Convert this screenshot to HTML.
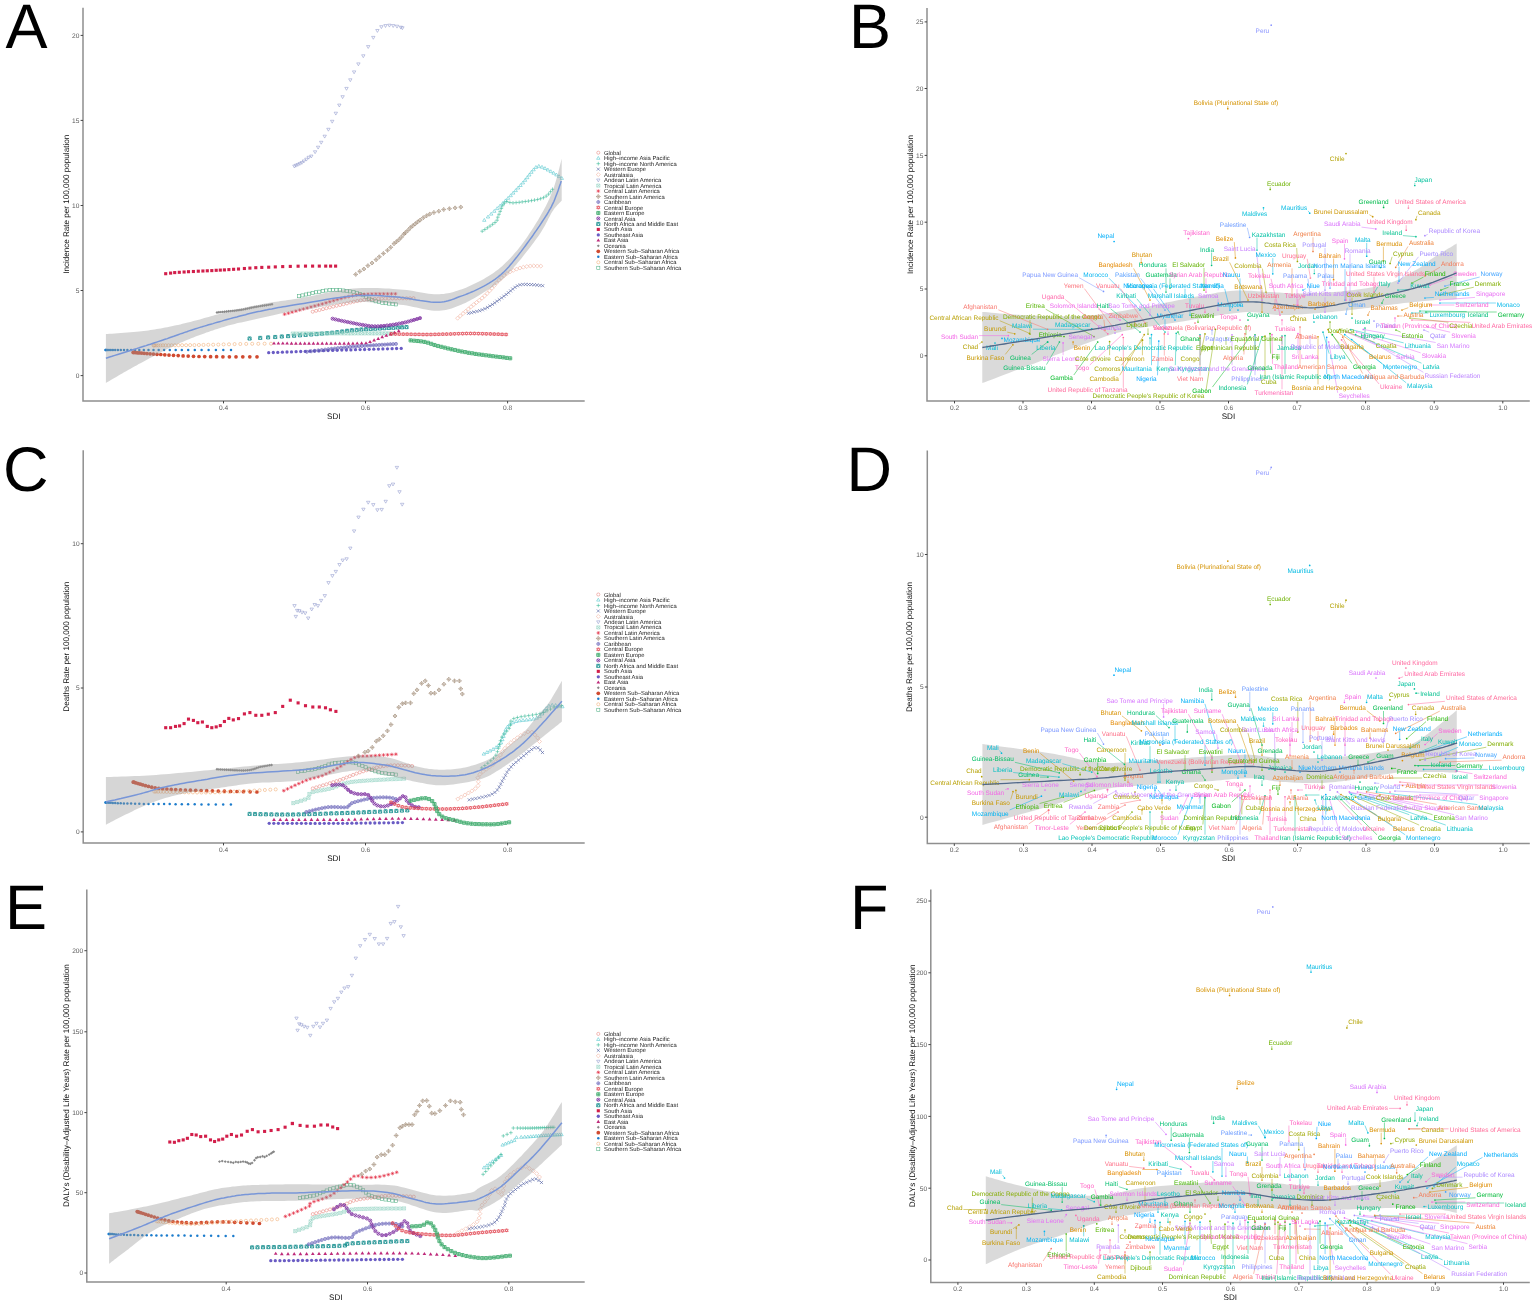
<!DOCTYPE html><html><head><meta charset="utf-8"><title>Figure</title><style>
html,body{margin:0;padding:0;background:#fff;}
svg{display:block;}
text{font-family:'Liberation Sans', Arial, Helvetica, sans-serif;text-rendering:geometricPrecision;}
.tk{font-size:6.6px;fill:#5a5a5a;}
.at{font-size:8.1px;fill:#111;}
.big{font-size:63px;fill:#000;}
.lg{font-size:5.85px;fill:#222;}
.lb{font-size:6.45px;}
</style></head><body>
<svg width="1535" height="1306" viewBox="0 0 1535 1306">
<rect width="1535" height="1306" fill="#fff"/>
<defs><g id="s1"><circle r="1.55" fill="none" stroke="currentColor" stroke-width="0.55"/></g><g id="s2"><path d="M0,-1.78L1.69,1.11L-1.69,1.11Z" fill="none" stroke="currentColor" stroke-width="0.55"/></g><g id="s3"><path d="M-1.86,0H1.86M0,-1.86V1.86" fill="none" stroke="currentColor" stroke-width="0.55"/></g><g id="s4"><path d="M-1.55,-1.55L1.55,1.55M-1.55,1.55L1.55,-1.55" fill="none" stroke="currentColor" stroke-width="0.55"/></g><g id="s5"><path d="M0,-2.02L2.02,0L0,2.02L-2.02,0Z" fill="none" stroke="currentColor" stroke-width="0.55"/></g><g id="s6"><path d="M0,1.78L1.69,-1.11L-1.69,-1.11Z" fill="none" stroke="currentColor" stroke-width="0.55"/></g><g id="s7"><path d="M-1.55,-1.55H1.55V1.55H-1.55ZM-1.55,-1.55L1.55,1.55M-1.55,1.55L1.55,-1.55" fill="none" stroke="currentColor" stroke-width="0.55"/></g><g id="s8"><path d="M-1.86,0H1.86M0,-1.86V1.86M-1.32,-1.32L1.32,1.32M-1.32,1.32L1.32,-1.32" fill="none" stroke="currentColor" stroke-width="0.55"/></g><g id="s9"><path d="M0,-2.02L2.02,0L0,2.02L-2.02,0ZM-2.02,0H2.02M0,-2.02V2.02" fill="none" stroke="currentColor" stroke-width="0.55"/></g><g id="s10"><g fill="none" stroke="currentColor" stroke-width="0.55"><circle r="1.55"/><path d="M-1.55,0H1.55M0,-1.55V1.55"/></g></g><g id="s11"><path d="M0,-1.78L1.69,1.11L-1.69,1.11ZM0,1.78L1.69,-1.11L-1.69,-1.11Z" fill="none" stroke="currentColor" stroke-width="0.55"/></g><g id="s12"><path d="M-1.55,-1.55H1.55V1.55H-1.55ZM-1.55,0H1.55M0,-1.55V1.55" fill="none" stroke="currentColor" stroke-width="0.80"/></g><g id="s13"><g fill="none" stroke="currentColor" stroke-width="0.80"><circle r="1.55"/><path d="M-1.08,-1.08L1.08,1.08M-1.08,1.08L1.08,-1.08"/></g></g><g id="s14"><path d="M-1.55,-1.55H1.55V1.55H-1.55ZM-1.55,1.55L0,-1.55L1.55,1.55" fill="none" stroke="currentColor" stroke-width="0.80"/></g><g id="s15"><rect x="-1.55" y="-1.55" width="3.10" height="3.10" fill="currentColor"/></g><g id="s16"><circle r="1.63" fill="currentColor"/></g><g id="s17"><path d="M0,-1.96L1.86,1.22L-1.86,1.22Z" fill="currentColor"/></g><g id="s18"><path d="M0,-1.47L1.47,0L0,1.47L-1.47,0Z" fill="currentColor"/></g><g id="s19"><circle r="1.86" fill="currentColor"/></g><g id="s20"><circle r="1.24" fill="currentColor"/></g><g id="s21"><circle r="1.55" fill="none" stroke="currentColor" stroke-width="0.55"/></g><g id="s22"><rect x="-1.55" y="-1.55" width="3.10" height="3.10" fill="none" stroke="currentColor" stroke-width="0.55"/></g></defs>
<g color="#D21E4A"><use href="#s15" x="165.7" y="273.7"/><use href="#s15" x="170.6" y="273.1"/><use href="#s15" x="174.7" y="272.6"/><use href="#s15" x="179.3" y="272.3"/><use href="#s15" x="184.1" y="272.0"/><use href="#s15" x="188.5" y="271.7"/><use href="#s15" x="193.4" y="271.5"/><use href="#s15" x="198.3" y="271.2"/><use href="#s15" x="202.9" y="271.0"/><use href="#s15" x="207.3" y="270.8"/><use href="#s15" x="211.8" y="270.6"/><use href="#s15" x="216.2" y="270.3"/><use href="#s15" x="220.3" y="270.1"/><use href="#s15" x="224.4" y="269.9"/><use href="#s15" x="228.9" y="269.6"/><use href="#s15" x="233.6" y="269.3"/><use href="#s15" x="238.5" y="269.0"/><use href="#s15" x="244.4" y="268.5"/><use href="#s15" x="249.9" y="268.1"/><use href="#s15" x="255.8" y="267.7"/><use href="#s15" x="261.8" y="267.4"/><use href="#s15" x="268.7" y="267.2"/><use href="#s15" x="275.3" y="266.9"/><use href="#s15" x="282.7" y="266.6"/><use href="#s15" x="290.3" y="266.4"/><use href="#s15" x="298.1" y="266.2"/><use href="#s15" x="305.5" y="266.1"/><use href="#s15" x="312.6" y="266.1"/><use href="#s15" x="319.3" y="266.1"/><use href="#s15" x="325.7" y="266.1"/><use href="#s15" x="330.6" y="266.1"/><use href="#s15" x="335.6" y="266.1"/></g>
<g color="#878787"><use href="#s18" x="217.0" y="312.5"/><use href="#s18" x="218.9" y="312.3"/><use href="#s18" x="220.8" y="312.1"/><use href="#s18" x="222.7" y="311.9"/><use href="#s18" x="224.6" y="311.7"/><use href="#s18" x="226.5" y="311.5"/><use href="#s18" x="228.5" y="311.3"/><use href="#s18" x="230.4" y="311.1"/><use href="#s18" x="232.3" y="310.9"/><use href="#s18" x="234.2" y="310.7"/><use href="#s18" x="236.1" y="310.5"/><use href="#s18" x="238.0" y="310.3"/><use href="#s18" x="239.9" y="310.0"/><use href="#s18" x="241.8" y="309.7"/><use href="#s18" x="243.7" y="309.4"/><use href="#s18" x="245.6" y="309.0"/><use href="#s18" x="247.4" y="308.6"/><use href="#s18" x="249.3" y="308.2"/><use href="#s18" x="251.2" y="307.8"/><use href="#s18" x="253.1" y="307.4"/><use href="#s18" x="254.9" y="307.0"/><use href="#s18" x="256.8" y="306.7"/><use href="#s18" x="258.7" y="306.4"/><use href="#s18" x="260.6" y="306.1"/><use href="#s18" x="262.5" y="305.8"/><use href="#s18" x="264.4" y="305.5"/><use href="#s18" x="266.3" y="305.2"/><use href="#s18" x="268.2" y="304.9"/><use href="#s18" x="270.1" y="304.6"/><use href="#s18" x="272.0" y="304.3"/></g>
<g color="#1C7CCC"><use href="#s20" x="105.5" y="350.0"/><use href="#s20" x="105.8" y="350.0"/><use href="#s20" x="106.5" y="350.0"/><use href="#s20" x="107.6" y="350.0"/><use href="#s20" x="109.0" y="350.0"/><use href="#s20" x="110.8" y="350.0"/><use href="#s20" x="112.9" y="350.0"/><use href="#s20" x="115.2" y="350.0"/><use href="#s20" x="117.9" y="350.0"/><use href="#s20" x="120.8" y="350.0"/><use href="#s20" x="124.0" y="350.0"/><use href="#s20" x="127.4" y="350.0"/><use href="#s20" x="131.1" y="350.0"/><use href="#s20" x="135.1" y="350.0"/><use href="#s20" x="139.3" y="350.0"/><use href="#s20" x="143.8" y="350.0"/><use href="#s20" x="148.5" y="350.0"/><use href="#s20" x="153.5" y="350.0"/><use href="#s20" x="158.7" y="350.0"/><use href="#s20" x="164.1" y="350.0"/><use href="#s20" x="169.8" y="350.0"/><use href="#s20" x="175.7" y="350.0"/><use href="#s20" x="181.8" y="350.0"/><use href="#s20" x="188.2" y="350.0"/><use href="#s20" x="194.8" y="350.0"/><use href="#s20" x="201.6" y="350.0"/><use href="#s20" x="208.6" y="350.0"/><use href="#s20" x="215.9" y="350.0"/><use href="#s20" x="223.3" y="350.0"/><use href="#s20" x="231.0" y="350.0"/></g>
<g color="#D04A30"><use href="#s19" x="133.2" y="352.4"/><use href="#s19" x="133.6" y="352.4"/><use href="#s19" x="134.5" y="352.5"/><use href="#s19" x="135.8" y="352.6"/><use href="#s19" x="137.5" y="352.8"/><use href="#s19" x="139.4" y="352.9"/><use href="#s19" x="141.7" y="353.1"/><use href="#s19" x="144.2" y="353.3"/><use href="#s19" x="147.0" y="353.6"/><use href="#s19" x="150.1" y="353.8"/><use href="#s19" x="153.4" y="354.1"/><use href="#s19" x="157.0" y="354.3"/><use href="#s19" x="160.8" y="354.5"/><use href="#s19" x="164.8" y="354.8"/><use href="#s19" x="169.0" y="355.1"/><use href="#s19" x="173.5" y="355.3"/><use href="#s19" x="178.2" y="355.6"/><use href="#s19" x="183.1" y="355.9"/><use href="#s19" x="188.2" y="356.1"/><use href="#s19" x="193.5" y="356.3"/><use href="#s19" x="199.0" y="356.5"/><use href="#s19" x="204.7" y="356.6"/><use href="#s19" x="210.6" y="356.7"/><use href="#s19" x="216.6" y="356.7"/><use href="#s19" x="222.9" y="356.8"/><use href="#s19" x="229.4" y="356.8"/><use href="#s19" x="236.0" y="356.8"/><use href="#s19" x="242.8" y="356.8"/><use href="#s19" x="249.8" y="356.8"/><use href="#s19" x="257.0" y="356.8"/></g>
<g color="#F0AA70"><use href="#s21" x="153.5" y="345.4"/><use href="#s21" x="154.0" y="345.4"/><use href="#s21" x="155.1" y="345.4"/><use href="#s21" x="156.6" y="345.4"/><use href="#s21" x="158.4" y="345.4"/><use href="#s21" x="160.6" y="345.4"/><use href="#s21" x="162.9" y="345.3"/><use href="#s21" x="165.6" y="345.3"/><use href="#s21" x="168.5" y="345.3"/><use href="#s21" x="171.6" y="345.3"/><use href="#s21" x="174.9" y="345.3"/><use href="#s21" x="178.4" y="345.2"/><use href="#s21" x="182.1" y="345.2"/><use href="#s21" x="186.1" y="345.2"/><use href="#s21" x="190.1" y="345.1"/><use href="#s21" x="194.4" y="345.1"/><use href="#s21" x="198.9" y="345.0"/><use href="#s21" x="203.5" y="344.9"/><use href="#s21" x="208.3" y="344.8"/><use href="#s21" x="213.2" y="344.7"/><use href="#s21" x="218.3" y="344.6"/><use href="#s21" x="223.6" y="344.4"/><use href="#s21" x="229.0" y="344.3"/><use href="#s21" x="234.6" y="344.1"/><use href="#s21" x="240.3" y="344.0"/><use href="#s21" x="246.2" y="343.9"/><use href="#s21" x="252.2" y="343.8"/><use href="#s21" x="258.3" y="343.8"/><use href="#s21" x="264.6" y="343.7"/><use href="#s21" x="271.0" y="343.7"/></g>
<g color="#158E8E"><use href="#s14" x="249.6" y="338.5"/><use href="#s14" x="260.2" y="337.9"/><use href="#s14" x="268.1" y="337.4"/><use href="#s14" x="275.2" y="337.0"/><use href="#s14" x="281.8" y="336.5"/><use href="#s14" x="288.1" y="336.1"/><use href="#s14" x="294.1" y="335.7"/><use href="#s14" x="300.0" y="335.3"/><use href="#s14" x="305.6" y="334.9"/><use href="#s14" x="311.2" y="334.5"/><use href="#s14" x="316.6" y="334.1"/><use href="#s14" x="321.9" y="333.6"/><use href="#s14" x="327.1" y="333.2"/><use href="#s14" x="332.2" y="332.7"/><use href="#s14" x="337.2" y="332.2"/><use href="#s14" x="342.2" y="331.5"/><use href="#s14" x="347.1" y="330.8"/><use href="#s14" x="351.9" y="330.3"/><use href="#s14" x="356.7" y="329.9"/><use href="#s14" x="361.4" y="329.5"/><use href="#s14" x="366.1" y="329.2"/><use href="#s14" x="370.7" y="328.9"/><use href="#s14" x="375.3" y="328.7"/><use href="#s14" x="379.9" y="328.5"/><use href="#s14" x="384.4" y="328.2"/><use href="#s14" x="388.9" y="328.0"/><use href="#s14" x="393.4" y="327.8"/><use href="#s14" x="397.8" y="327.5"/><use href="#s14" x="402.1" y="327.3"/><use href="#s14" x="406.5" y="327.1"/></g>
<g color="#8FD2C0"><use href="#s7" x="292.8" y="333.6"/><use href="#s7" x="296.2" y="333.6"/><use href="#s7" x="299.7" y="333.6"/><use href="#s7" x="303.1" y="333.5"/><use href="#s7" x="306.5" y="333.5"/><use href="#s7" x="310.0" y="333.5"/><use href="#s7" x="313.4" y="333.5"/><use href="#s7" x="316.8" y="333.5"/><use href="#s7" x="320.3" y="333.5"/><use href="#s7" x="323.7" y="333.5"/><use href="#s7" x="327.1" y="333.4"/><use href="#s7" x="330.6" y="333.4"/><use href="#s7" x="334.0" y="333.4"/><use href="#s7" x="337.4" y="333.4"/><use href="#s7" x="340.9" y="333.4"/><use href="#s7" x="344.3" y="333.4"/><use href="#s7" x="347.8" y="333.4"/><use href="#s7" x="351.2" y="333.4"/><use href="#s7" x="354.6" y="333.4"/><use href="#s7" x="358.1" y="333.4"/><use href="#s7" x="361.5" y="333.4"/><use href="#s7" x="364.9" y="333.4"/><use href="#s7" x="368.4" y="333.4"/><use href="#s7" x="371.8" y="333.4"/><use href="#s7" x="375.2" y="333.4"/><use href="#s7" x="378.7" y="333.4"/><use href="#s7" x="382.1" y="333.4"/><use href="#s7" x="385.5" y="333.4"/><use href="#s7" x="389.0" y="333.4"/><use href="#s7" x="392.4" y="333.4"/></g>
<g color="#BE2A7A"><use href="#s17" x="274.0" y="343.4"/><use href="#s17" x="278.4" y="343.4"/><use href="#s17" x="282.8" y="343.4"/><use href="#s17" x="287.1" y="343.4"/><use href="#s17" x="291.5" y="343.5"/><use href="#s17" x="295.9" y="343.5"/><use href="#s17" x="300.3" y="343.5"/><use href="#s17" x="304.7" y="343.5"/><use href="#s17" x="309.0" y="343.5"/><use href="#s17" x="313.4" y="343.5"/><use href="#s17" x="317.8" y="343.5"/><use href="#s17" x="322.2" y="343.5"/><use href="#s17" x="326.6" y="343.5"/><use href="#s17" x="331.0" y="343.5"/><use href="#s17" x="335.3" y="343.5"/><use href="#s17" x="339.7" y="343.5"/><use href="#s17" x="344.1" y="343.5"/><use href="#s17" x="348.5" y="343.5"/><use href="#s17" x="352.9" y="343.5"/><use href="#s17" x="357.2" y="343.4"/><use href="#s17" x="361.6" y="343.3"/><use href="#s17" x="366.0" y="343.1"/><use href="#s17" x="370.0" y="341.9"/><use href="#s17" x="374.1" y="340.3"/><use href="#s17" x="378.2" y="338.7"/><use href="#s17" x="382.2" y="337.0"/><use href="#s17" x="386.3" y="335.5"/><use href="#s17" x="390.5" y="334.2"/><use href="#s17" x="394.6" y="332.6"/><use href="#s17" x="398.7" y="331.0"/></g>
<g color="#6A5CC4"><use href="#s16" x="268.7" y="352.7"/><use href="#s16" x="273.3" y="352.5"/><use href="#s16" x="277.8" y="352.4"/><use href="#s16" x="282.4" y="352.2"/><use href="#s16" x="287.0" y="352.0"/><use href="#s16" x="291.5" y="351.9"/><use href="#s16" x="296.1" y="351.7"/><use href="#s16" x="300.7" y="351.5"/><use href="#s16" x="305.2" y="351.4"/><use href="#s16" x="309.8" y="351.2"/><use href="#s16" x="314.4" y="351.0"/><use href="#s16" x="319.0" y="350.9"/><use href="#s16" x="323.5" y="350.7"/><use href="#s16" x="328.1" y="350.6"/><use href="#s16" x="332.7" y="350.4"/><use href="#s16" x="337.2" y="350.3"/><use href="#s16" x="341.8" y="350.1"/><use href="#s16" x="346.4" y="350.0"/><use href="#s16" x="350.9" y="349.9"/><use href="#s16" x="355.5" y="349.7"/><use href="#s16" x="360.1" y="349.6"/><use href="#s16" x="364.6" y="349.5"/><use href="#s16" x="369.2" y="349.3"/><use href="#s16" x="373.8" y="349.2"/><use href="#s16" x="378.4" y="349.1"/><use href="#s16" x="382.9" y="348.9"/><use href="#s16" x="387.5" y="348.8"/><use href="#s16" x="392.1" y="348.7"/><use href="#s16" x="396.6" y="348.5"/><use href="#s16" x="401.2" y="348.4"/></g>
<g color="#5E58B4"><use href="#s10" x="306.8" y="351.8"/><use href="#s10" x="311.1" y="351.3"/><use href="#s10" x="314.8" y="350.8"/><use href="#s10" x="318.3" y="350.4"/><use href="#s10" x="321.7" y="350.0"/><use href="#s10" x="325.1" y="349.6"/><use href="#s10" x="328.3" y="349.2"/><use href="#s10" x="331.5" y="348.8"/><use href="#s10" x="334.7" y="348.5"/><use href="#s10" x="337.8" y="348.1"/><use href="#s10" x="340.9" y="347.8"/><use href="#s10" x="344.0" y="347.5"/><use href="#s10" x="347.0" y="347.2"/><use href="#s10" x="350.0" y="346.9"/><use href="#s10" x="353.0" y="346.6"/><use href="#s10" x="356.0" y="346.4"/><use href="#s10" x="358.9" y="346.2"/><use href="#s10" x="361.9" y="346.0"/><use href="#s10" x="364.8" y="345.8"/><use href="#s10" x="367.7" y="345.6"/><use href="#s10" x="370.6" y="345.4"/><use href="#s10" x="373.5" y="345.2"/><use href="#s10" x="376.3" y="345.1"/><use href="#s10" x="379.2" y="344.9"/><use href="#s10" x="382.0" y="344.7"/><use href="#s10" x="384.8" y="344.6"/><use href="#s10" x="387.6" y="344.4"/><use href="#s10" x="390.4" y="344.2"/><use href="#s10" x="393.2" y="344.1"/><use href="#s10" x="396.0" y="343.9"/></g>
<g color="#4EAE82"><use href="#s22" x="299.2" y="296.2"/><use href="#s22" x="302.5" y="295.4"/><use href="#s22" x="305.9" y="294.5"/><use href="#s22" x="309.2" y="293.7"/><use href="#s22" x="312.6" y="293.0"/><use href="#s22" x="316.0" y="292.3"/><use href="#s22" x="319.3" y="291.7"/><use href="#s22" x="322.7" y="291.0"/><use href="#s22" x="326.1" y="290.5"/><use href="#s22" x="329.6" y="290.1"/><use href="#s22" x="333.0" y="290.0"/><use href="#s22" x="336.4" y="290.1"/><use href="#s22" x="339.9" y="290.2"/><use href="#s22" x="343.3" y="290.5"/><use href="#s22" x="346.7" y="290.9"/><use href="#s22" x="350.1" y="291.4"/><use href="#s22" x="353.5" y="292.0"/><use href="#s22" x="356.9" y="292.8"/><use href="#s22" x="360.1" y="293.9"/><use href="#s22" x="363.3" y="295.3"/><use href="#s22" x="366.3" y="297.0"/><use href="#s22" x="369.2" y="298.7"/><use href="#s22" x="372.3" y="300.2"/><use href="#s22" x="375.6" y="301.3"/><use href="#s22" x="378.9" y="302.1"/><use href="#s22" x="382.3" y="302.7"/><use href="#s22" x="385.7" y="303.2"/><use href="#s22" x="389.2" y="303.6"/><use href="#s22" x="392.6" y="304.0"/><use href="#s22" x="396.0" y="304.4"/></g>
<g color="#E2253D"><use href="#s8" x="284.6" y="314.2"/><use href="#s8" x="288.4" y="313.2"/><use href="#s8" x="292.1" y="312.1"/><use href="#s8" x="295.9" y="311.1"/><use href="#s8" x="299.7" y="310.0"/><use href="#s8" x="303.4" y="309.0"/><use href="#s8" x="307.2" y="308.0"/><use href="#s8" x="311.0" y="306.9"/><use href="#s8" x="314.8" y="305.9"/><use href="#s8" x="318.5" y="304.9"/><use href="#s8" x="322.3" y="303.9"/><use href="#s8" x="326.1" y="302.8"/><use href="#s8" x="329.8" y="301.7"/><use href="#s8" x="333.6" y="300.6"/><use href="#s8" x="337.3" y="299.5"/><use href="#s8" x="341.1" y="298.5"/><use href="#s8" x="344.9" y="297.5"/><use href="#s8" x="348.7" y="296.6"/><use href="#s8" x="352.5" y="295.8"/><use href="#s8" x="356.4" y="295.1"/><use href="#s8" x="360.2" y="294.6"/><use href="#s8" x="364.1" y="294.3"/><use href="#s8" x="368.0" y="294.1"/><use href="#s8" x="371.9" y="293.9"/><use href="#s8" x="375.9" y="293.8"/><use href="#s8" x="379.8" y="293.8"/><use href="#s8" x="383.7" y="293.8"/><use href="#s8" x="387.6" y="293.8"/><use href="#s8" x="391.5" y="293.8"/><use href="#s8" x="395.4" y="293.8"/></g>
<g color="#E8837A"><use href="#s1" x="312.7" y="311.7"/><use href="#s1" x="316.1" y="310.8"/><use href="#s1" x="319.5" y="310.0"/><use href="#s1" x="323.0" y="309.1"/><use href="#s1" x="326.4" y="308.2"/><use href="#s1" x="329.8" y="307.4"/><use href="#s1" x="333.2" y="306.6"/><use href="#s1" x="336.6" y="305.8"/><use href="#s1" x="340.1" y="305.0"/><use href="#s1" x="343.5" y="304.2"/><use href="#s1" x="346.9" y="303.4"/><use href="#s1" x="350.4" y="302.5"/><use href="#s1" x="353.8" y="301.7"/><use href="#s1" x="357.3" y="301.0"/><use href="#s1" x="360.7" y="300.4"/><use href="#s1" x="364.2" y="299.8"/><use href="#s1" x="367.7" y="299.4"/><use href="#s1" x="371.2" y="299.1"/><use href="#s1" x="374.7" y="298.9"/><use href="#s1" x="378.3" y="298.7"/><use href="#s1" x="381.8" y="298.6"/><use href="#s1" x="385.3" y="298.5"/><use href="#s1" x="388.8" y="298.5"/><use href="#s1" x="392.4" y="298.4"/><use href="#s1" x="395.9" y="298.4"/><use href="#s1" x="399.4" y="298.3"/><use href="#s1" x="402.9" y="298.3"/><use href="#s1" x="406.5" y="298.3"/><use href="#s1" x="410.0" y="298.3"/><use href="#s1" x="413.5" y="298.2"/></g>
<g color="#7E2FA0"><use href="#s13" x="332.6" y="318.7"/><use href="#s13" x="335.6" y="319.4"/><use href="#s13" x="338.6" y="320.1"/><use href="#s13" x="341.6" y="320.8"/><use href="#s13" x="344.6" y="321.4"/><use href="#s13" x="347.6" y="322.0"/><use href="#s13" x="350.6" y="322.6"/><use href="#s13" x="353.6" y="323.2"/><use href="#s13" x="356.6" y="323.8"/><use href="#s13" x="359.6" y="324.4"/><use href="#s13" x="362.7" y="324.9"/><use href="#s13" x="365.7" y="325.4"/><use href="#s13" x="368.7" y="325.9"/><use href="#s13" x="371.8" y="326.2"/><use href="#s13" x="374.9" y="326.3"/><use href="#s13" x="377.9" y="326.3"/><use href="#s13" x="381.0" y="326.1"/><use href="#s13" x="384.1" y="325.9"/><use href="#s13" x="387.1" y="325.5"/><use href="#s13" x="390.2" y="325.1"/><use href="#s13" x="393.2" y="324.7"/><use href="#s13" x="396.2" y="324.2"/><use href="#s13" x="399.2" y="323.6"/><use href="#s13" x="402.3" y="323.0"/><use href="#s13" x="405.2" y="322.4"/><use href="#s13" x="408.2" y="321.6"/><use href="#s13" x="411.2" y="320.7"/><use href="#s13" x="414.1" y="319.9"/><use href="#s13" x="417.1" y="319.0"/><use href="#s13" x="420.0" y="318.1"/></g>
<g color="#E03A48"><use href="#s11" x="391.3" y="333.9"/><use href="#s11" x="395.3" y="334.0"/><use href="#s11" x="399.2" y="334.1"/><use href="#s11" x="403.2" y="334.2"/><use href="#s11" x="407.1" y="334.2"/><use href="#s11" x="411.1" y="334.3"/><use href="#s11" x="415.1" y="334.4"/><use href="#s11" x="419.0" y="334.4"/><use href="#s11" x="423.0" y="334.5"/><use href="#s11" x="426.9" y="334.5"/><use href="#s11" x="430.9" y="334.5"/><use href="#s11" x="434.9" y="334.4"/><use href="#s11" x="438.8" y="334.3"/><use href="#s11" x="442.8" y="334.2"/><use href="#s11" x="446.7" y="334.1"/><use href="#s11" x="450.7" y="334.0"/><use href="#s11" x="454.6" y="333.8"/><use href="#s11" x="458.6" y="333.7"/><use href="#s11" x="462.6" y="333.6"/><use href="#s11" x="466.5" y="333.5"/><use href="#s11" x="470.5" y="333.5"/><use href="#s11" x="474.4" y="333.5"/><use href="#s11" x="478.4" y="333.6"/><use href="#s11" x="482.4" y="333.7"/><use href="#s11" x="486.3" y="333.8"/><use href="#s11" x="490.3" y="333.9"/><use href="#s11" x="494.2" y="334.1"/><use href="#s11" x="498.2" y="334.2"/><use href="#s11" x="502.1" y="334.4"/><use href="#s11" x="506.1" y="334.5"/></g>
<g color="#38A868"><use href="#s12" x="410.6" y="340.4"/><use href="#s12" x="414.1" y="340.7"/><use href="#s12" x="417.6" y="341.0"/><use href="#s12" x="421.0" y="341.4"/><use href="#s12" x="424.5" y="341.9"/><use href="#s12" x="427.9" y="342.7"/><use href="#s12" x="431.2" y="343.8"/><use href="#s12" x="434.5" y="345.0"/><use href="#s12" x="437.9" y="346.0"/><use href="#s12" x="441.3" y="346.8"/><use href="#s12" x="444.7" y="347.6"/><use href="#s12" x="448.1" y="348.5"/><use href="#s12" x="451.5" y="349.3"/><use href="#s12" x="454.9" y="350.0"/><use href="#s12" x="458.3" y="350.8"/><use href="#s12" x="461.7" y="351.5"/><use href="#s12" x="465.2" y="352.1"/><use href="#s12" x="468.6" y="352.8"/><use href="#s12" x="472.1" y="353.3"/><use href="#s12" x="475.5" y="353.9"/><use href="#s12" x="479.0" y="354.4"/><use href="#s12" x="482.4" y="354.8"/><use href="#s12" x="485.9" y="355.3"/><use href="#s12" x="489.4" y="355.7"/><use href="#s12" x="492.8" y="356.2"/><use href="#s12" x="496.3" y="356.6"/><use href="#s12" x="499.8" y="357.0"/><use href="#s12" x="503.3" y="357.4"/><use href="#s12" x="506.7" y="357.9"/><use href="#s12" x="510.2" y="358.3"/></g>
<g color="#9C8670"><use href="#s9" x="355.7" y="274.4"/><use href="#s9" x="359.8" y="271.4"/><use href="#s9" x="363.9" y="269.0"/><use href="#s9" x="367.9" y="265.7"/><use href="#s9" x="372.0" y="263.0"/><use href="#s9" x="376.1" y="259.7"/><use href="#s9" x="379.3" y="256.8"/><use href="#s9" x="383.4" y="253.5"/><use href="#s9" x="387.5" y="250.3"/><use href="#s9" x="390.7" y="247.3"/><use href="#s9" x="394.0" y="243.7"/><use href="#s9" x="396.4" y="241.8"/><use href="#s9" x="398.9" y="239.7"/><use href="#s9" x="401.3" y="237.2"/><use href="#s9" x="403.8" y="234.3"/><use href="#s9" x="405.4" y="232.7"/><use href="#s9" x="407.9" y="230.4"/><use href="#s9" x="410.3" y="227.8"/><use href="#s9" x="412.7" y="225.8"/><use href="#s9" x="415.2" y="223.9"/><use href="#s9" x="417.6" y="221.9"/><use href="#s9" x="420.1" y="220.1"/><use href="#s9" x="423.3" y="217.7"/><use href="#s9" x="426.6" y="215.7"/><use href="#s9" x="429.8" y="214.1"/><use href="#s9" x="433.9" y="212.5"/><use href="#s9" x="438.8" y="211.2"/><use href="#s9" x="443.7" y="209.5"/><use href="#s9" x="449.4" y="208.7"/><use href="#s9" x="455.1" y="207.9"/><use href="#s9" x="460.8" y="207.1"/></g>
<g color="#8E96CC"><use href="#s6" x="294.4" y="166.2"/><use href="#s6" x="295.9" y="165.4"/><use href="#s6" x="297.8" y="164.6"/><use href="#s6" x="299.8" y="163.6"/><use href="#s6" x="301.8" y="162.6"/><use href="#s6" x="303.9" y="161.1"/><use href="#s6" x="306.4" y="159.3"/><use href="#s6" x="308.7" y="157.4"/><use href="#s6" x="311.3" y="156.2"/><use href="#s6" x="315.1" y="151.9"/><use href="#s6" x="318.1" y="147.3"/><use href="#s6" x="321.2" y="142.4"/><use href="#s6" x="324.7" y="136.3"/><use href="#s6" x="328.4" y="129.4"/><use href="#s6" x="332.2" y="121.4"/><use href="#s6" x="335.8" y="113.3"/><use href="#s6" x="339.3" y="105.2"/><use href="#s6" x="342.6" y="96.8"/><use href="#s6" x="346.5" y="88.5"/><use href="#s6" x="350.3" y="79.9"/><use href="#s6" x="354.1" y="72.0"/><use href="#s6" x="358.4" y="64.0"/><use href="#s6" x="363.3" y="55.9"/><use href="#s6" x="368.2" y="46.7"/><use href="#s6" x="373.3" y="37.5"/><use href="#s6" x="377.4" y="30.6"/><use href="#s6" x="381.4" y="26.8"/><use href="#s6" x="385.5" y="25.7"/><use href="#s6" x="389.4" y="25.3"/><use href="#s6" x="393.2" y="25.7"/><use href="#s6" x="397.0" y="26.3"/><use href="#s6" x="400.8" y="27.3"/><use href="#s6" x="402.4" y="27.9"/></g>
<g color="#F0AC98"><use href="#s5" x="457.6" y="318.2"/><use href="#s5" x="460.3" y="315.9"/><use href="#s5" x="463.0" y="313.6"/><use href="#s5" x="465.6" y="311.4"/><use href="#s5" x="468.3" y="309.1"/><use href="#s5" x="471.0" y="306.8"/><use href="#s5" x="473.7" y="304.6"/><use href="#s5" x="476.5" y="302.5"/><use href="#s5" x="479.3" y="300.3"/><use href="#s5" x="482.1" y="298.1"/><use href="#s5" x="484.7" y="295.8"/><use href="#s5" x="487.2" y="293.4"/><use href="#s5" x="489.6" y="290.8"/><use href="#s5" x="492.0" y="288.2"/><use href="#s5" x="494.3" y="285.6"/><use href="#s5" x="496.6" y="282.9"/><use href="#s5" x="499.0" y="280.3"/><use href="#s5" x="501.5" y="277.9"/><use href="#s5" x="504.2" y="275.6"/><use href="#s5" x="507.0" y="273.6"/><use href="#s5" x="510.1" y="271.8"/><use href="#s5" x="513.3" y="270.4"/><use href="#s5" x="516.6" y="269.1"/><use href="#s5" x="519.9" y="268.0"/><use href="#s5" x="523.3" y="267.2"/><use href="#s5" x="526.8" y="266.5"/><use href="#s5" x="530.3" y="266.0"/><use href="#s5" x="533.8" y="265.9"/><use href="#s5" x="537.3" y="266.0"/><use href="#s5" x="540.8" y="266.1"/></g>
<g color="#3F4F98"><use href="#s4" x="468.6" y="313.3"/><use href="#s4" x="471.4" y="312.7"/><use href="#s4" x="474.1" y="312.0"/><use href="#s4" x="476.9" y="311.4"/><use href="#s4" x="479.7" y="310.7"/><use href="#s4" x="482.4" y="309.8"/><use href="#s4" x="485.0" y="308.7"/><use href="#s4" x="487.5" y="307.4"/><use href="#s4" x="490.0" y="306.0"/><use href="#s4" x="492.4" y="304.5"/><use href="#s4" x="494.7" y="302.9"/><use href="#s4" x="497.0" y="301.2"/><use href="#s4" x="499.3" y="299.6"/><use href="#s4" x="501.6" y="297.9"/><use href="#s4" x="503.9" y="296.2"/><use href="#s4" x="506.2" y="294.5"/><use href="#s4" x="508.4" y="292.7"/><use href="#s4" x="510.6" y="290.9"/><use href="#s4" x="512.7" y="289.0"/><use href="#s4" x="515.0" y="287.3"/><use href="#s4" x="517.4" y="285.8"/><use href="#s4" x="520.1" y="284.8"/><use href="#s4" x="522.9" y="284.4"/><use href="#s4" x="525.7" y="284.4"/><use href="#s4" x="528.5" y="284.5"/><use href="#s4" x="531.4" y="284.6"/><use href="#s4" x="534.2" y="284.8"/><use href="#s4" x="537.0" y="285.1"/><use href="#s4" x="539.9" y="285.4"/><use href="#s4" x="542.7" y="285.7"/></g>
<g color="#4CC4CC"><use href="#s2" x="484.3" y="220.2"/><use href="#s2" x="488.0" y="216.9"/><use href="#s2" x="491.2" y="214.0"/><use href="#s2" x="494.3" y="211.2"/><use href="#s2" x="497.2" y="208.5"/><use href="#s2" x="500.1" y="205.9"/><use href="#s2" x="502.8" y="203.3"/><use href="#s2" x="505.5" y="200.7"/><use href="#s2" x="508.1" y="198.2"/><use href="#s2" x="510.7" y="195.6"/><use href="#s2" x="513.2" y="193.0"/><use href="#s2" x="515.7" y="190.5"/><use href="#s2" x="518.1" y="187.9"/><use href="#s2" x="520.5" y="185.4"/><use href="#s2" x="522.9" y="182.8"/><use href="#s2" x="525.1" y="180.2"/><use href="#s2" x="527.2" y="177.6"/><use href="#s2" x="529.3" y="174.9"/><use href="#s2" x="531.4" y="172.2"/><use href="#s2" x="533.6" y="169.7"/><use href="#s2" x="535.9" y="167.3"/><use href="#s2" x="538.8" y="166.2"/><use href="#s2" x="542.0" y="167.1"/><use href="#s2" x="545.0" y="168.4"/><use href="#s2" x="547.9" y="169.9"/><use href="#s2" x="550.8" y="171.5"/><use href="#s2" x="553.6" y="173.1"/><use href="#s2" x="556.4" y="174.8"/><use href="#s2" x="559.1" y="176.5"/><use href="#s2" x="561.8" y="178.3"/></g>
<g color="#33B894"><use href="#s3" x="482.2" y="231.2"/><use href="#s3" x="484.8" y="229.5"/><use href="#s3" x="487.4" y="227.8"/><use href="#s3" x="490.0" y="226.1"/><use href="#s3" x="492.6" y="224.3"/><use href="#s3" x="495.0" y="222.5"/><use href="#s3" x="497.1" y="220.2"/><use href="#s3" x="497.8" y="217.2"/><use href="#s3" x="499.0" y="214.3"/><use href="#s3" x="500.2" y="211.4"/><use href="#s3" x="501.3" y="208.5"/><use href="#s3" x="502.7" y="205.7"/><use href="#s3" x="504.3" y="203.1"/><use href="#s3" x="506.9" y="201.6"/><use href="#s3" x="509.9" y="202.5"/><use href="#s3" x="513.0" y="202.9"/><use href="#s3" x="516.1" y="202.6"/><use href="#s3" x="519.2" y="202.3"/><use href="#s3" x="522.2" y="201.9"/><use href="#s3" x="525.3" y="201.5"/><use href="#s3" x="528.4" y="201.1"/><use href="#s3" x="531.5" y="200.6"/><use href="#s3" x="534.5" y="200.1"/><use href="#s3" x="537.6" y="199.5"/><use href="#s3" x="540.6" y="198.7"/><use href="#s3" x="543.5" y="197.7"/><use href="#s3" x="546.2" y="196.1"/><use href="#s3" x="548.6" y="194.1"/><use href="#s3" x="550.6" y="191.7"/><use href="#s3" x="552.5" y="189.3"/></g>
<path d="M105.9,334.1L107.5,334.0L109.6,333.8L112.0,333.7L114.8,333.5L117.7,333.3L120.9,333.0L124.1,332.8L127.3,332.6L130.5,332.3L133.6,332.0L136.5,331.8L139.1,331.5L141.5,331.2L143.8,330.9L146.1,330.7L148.3,330.4L150.4,330.1L152.5,329.8L154.6,329.4L156.7,329.1L158.8,328.7L160.8,328.4L163.0,328.0L165.1,327.6L167.3,327.2L169.4,326.7L171.6,326.3L173.8,325.8L176.0,325.3L178.1,324.9L180.3,324.4L182.5,323.8L184.7,323.3L186.8,322.8L189.0,322.2L191.2,321.7L193.4,321.1L195.6,320.6L197.7,320.0L199.9,319.4L202.1,318.8L204.3,318.1L206.4,317.5L208.6,316.9L210.8,316.3L213.0,315.7L215.1,315.1L217.3,314.5L219.5,313.9L221.6,313.4L223.8,312.8L226.0,312.2L228.1,311.7L230.3,311.1L232.5,310.6L234.6,310.0L236.8,309.5L239.0,309.0L241.1,308.5L243.3,308.0L245.5,307.5L247.6,307.1L249.7,306.6L251.8,306.1L253.9,305.7L256.1,305.3L258.2,304.9L260.4,304.4L262.6,304.0L264.8,303.6L267.1,303.2L269.4,302.8L271.7,302.4L274.0,302.1L276.2,301.7L278.4,301.4L280.7,301.1L283.0,300.8L285.4,300.4L288.0,300.1L290.6,299.7L293.5,299.3L296.6,298.8L300.0,298.2L303.7,297.5L307.6,296.8L311.9,295.9L316.3,295.0L320.9,294.0L325.6,293.0L330.4,292.0L335.2,291.1L339.9,290.3L344.5,289.6L349.0,289.0L353.3,288.5L357.5,288.2L361.6,288.0L365.7,287.9L369.7,287.9L373.7,287.9L377.7,288.0L381.6,288.2L385.4,288.4L389.2,288.6L392.9,288.9L396.5,289.2L400.0,289.4L403.4,289.7L406.8,290.1L410.2,290.6L413.4,291.1L416.6,291.7L419.7,292.2L422.8,292.8L425.7,293.2L428.6,293.7L431.4,294.0L434.1,294.2L436.7,294.3L439.2,294.3L441.5,294.1L443.7,293.9L445.8,293.6L447.8,293.3L449.7,292.9L451.6,292.4L453.5,291.9L455.4,291.3L457.3,290.7L459.2,290.1L461.2,289.4L463.3,288.7L465.4,287.9L467.5,287.0L469.6,286.1L471.7,285.1L473.8,284.1L475.9,283.1L478.0,282.1L480.0,281.0L482.0,279.9L483.9,278.9L485.7,277.8L487.4,276.8L489.1,275.7L490.7,274.7L492.3,273.7L493.8,272.7L495.3,271.6L496.7,270.5L498.2,269.4L499.6,268.2L501.1,267.0L502.6,265.7L504.1,264.3L505.6,262.8L507.2,261.3L508.7,259.8L510.2,258.2L511.8,256.5L513.3,254.8L514.8,253.1L516.4,251.3L517.9,249.4L519.4,247.5L521.0,245.5L522.5,243.5L524.0,241.4L525.6,239.2L527.2,236.9L528.8,234.6L530.4,232.1L532.0,229.7L533.6,227.2L535.1,224.8L536.6,222.3L538.1,219.9L539.5,217.6L540.8,215.3L542.0,213.1L543.2,210.9L544.4,208.8L545.5,206.7L546.5,204.7L547.6,202.6L548.5,200.5L549.5,198.5L550.4,196.3L551.3,194.1L552.2,191.9L553.1,189.6L554.0,187.1L554.8,184.4L555.7,181.5L556.6,178.6L557.4,175.6L558.2,172.6L558.9,169.7L559.6,167.0L560.2,164.5L560.8,162.2L561.3,160.3L561.7,158.8L561.7,200.7L561.3,201.1L560.8,201.6L560.2,202.2L559.6,202.8L558.9,203.4L558.2,204.2L557.4,205.0L556.6,205.9L555.7,206.9L554.8,208.0L554.0,209.1L553.1,210.4L552.2,211.8L551.3,213.3L550.4,215.0L549.5,216.8L548.5,218.6L547.6,220.5L546.5,222.5L545.5,224.5L544.4,226.5L543.2,228.5L542.0,230.5L540.8,232.5L539.5,234.5L538.1,236.5L536.6,238.5L535.1,240.6L533.6,242.7L532.0,244.8L530.4,246.9L528.8,249.0L527.2,251.1L525.6,253.1L524.0,255.1L522.5,257.0L521.0,258.9L519.4,260.8L517.9,262.6L516.4,264.5L514.8,266.3L513.3,268.1L511.8,269.8L510.2,271.6L508.7,273.2L507.2,274.8L505.6,276.3L504.1,277.8L502.6,279.2L501.1,280.5L499.6,281.7L498.2,282.8L496.7,283.9L495.3,285.0L493.8,286.0L492.3,287.0L490.7,288.0L489.1,289.0L487.4,290.1L485.7,291.2L483.9,292.3L482.0,293.5L480.0,294.7L478.0,296.0L475.9,297.2L473.8,298.4L471.7,299.6L469.6,300.7L467.5,301.8L465.4,302.9L463.3,303.8L461.2,304.7L459.2,305.5L457.3,306.3L455.4,307.0L453.5,307.7L451.6,308.4L449.7,309.0L447.8,309.5L445.8,309.9L443.7,310.3L441.5,310.6L439.2,310.7L436.7,310.8L434.1,310.7L431.4,310.4L428.6,310.0L425.7,309.5L422.8,308.9L419.7,308.3L416.6,307.6L413.4,306.9L410.2,306.2L406.8,305.6L403.4,305.1L400.0,304.7L396.5,304.3L392.9,304.0L389.2,303.6L385.4,303.3L381.6,302.9L377.7,302.7L373.7,302.4L369.7,302.2L365.7,302.1L361.6,302.1L357.5,302.2L353.3,302.4L349.0,302.7L344.4,303.2L339.6,303.8L334.7,304.6L329.8,305.4L324.8,306.2L320.0,307.0L315.4,307.9L311.0,308.7L306.9,309.4L303.2,310.1L300.0,310.6L297.3,311.0L295.1,311.3L293.3,311.6L291.8,311.8L290.6,311.9L289.5,312.0L288.5,312.2L287.6,312.3L286.6,312.4L285.4,312.6L284.0,312.9L282.4,313.2L280.5,313.6L278.6,314.0L276.5,314.4L274.4,314.9L272.2,315.4L269.9,315.9L267.7,316.5L265.4,317.0L263.1,317.5L260.8,318.1L258.6,318.6L256.4,319.1L254.2,319.6L252.1,320.1L249.9,320.5L247.7,321.0L245.5,321.4L243.4,321.9L241.2,322.4L239.0,322.8L236.8,323.3L234.7,323.9L232.5,324.4L230.3,325.0L228.1,325.6L225.9,326.2L223.8,326.9L221.6,327.5L219.4,328.2L217.2,328.9L215.1,329.6L212.9,330.4L210.7,331.1L208.5,331.9L206.4,332.6L204.2,333.4L202.0,334.2L199.9,335.0L197.7,335.8L195.5,336.6L193.4,337.5L191.2,338.3L189.0,339.2L186.9,340.1L184.7,341.0L182.5,341.9L180.4,342.8L178.2,343.8L176.0,344.8L173.9,345.8L171.7,346.9L169.5,347.9L167.3,349.0L165.2,350.1L163.0,351.2L160.8,352.3L158.6,353.5L156.4,354.6L154.3,355.8L152.1,356.9L149.9,358.1L147.7,359.2L145.5,360.5L143.2,361.7L141.0,362.9L138.7,364.1L136.5,365.4L134.3,366.6L132.2,367.8L130.1,369.0L128.1,370.1L126.1,371.2L124.1,372.3L122.2,373.4L120.2,374.6L118.2,375.7L116.2,376.9L114.4,377.9L112.6,379.0L110.9,380.0L109.4,380.9L108.0,381.7L106.9,382.3L105.9,382.9Z" fill="#999999" fill-opacity="0.4"/>
<path d="M105.9,358.2L107.5,357.7L109.6,357.0L112.0,356.3L114.8,355.4L117.7,354.5L120.9,353.5L124.1,352.5L127.3,351.5L130.5,350.5L133.6,349.5L136.5,348.6L139.1,347.8L141.5,347.0L143.8,346.3L146.1,345.6L148.3,344.8L150.4,344.2L152.5,343.5L154.6,342.8L156.7,342.1L158.8,341.4L160.8,340.7L163.0,340.0L165.1,339.3L167.3,338.6L169.4,337.8L171.6,337.0L173.8,336.3L176.0,335.5L178.1,334.7L180.3,333.9L182.5,333.2L184.7,332.4L186.8,331.7L189.0,330.9L191.2,330.2L193.4,329.5L195.6,328.8L197.7,328.1L199.9,327.4L202.1,326.8L204.3,326.1L206.4,325.5L208.6,324.8L210.8,324.2L213.0,323.6L215.1,322.9L217.3,322.3L219.5,321.7L221.6,321.1L223.8,320.4L226.0,319.8L228.1,319.2L230.3,318.6L232.5,318.0L234.6,317.4L236.8,316.9L239.0,316.3L241.1,315.7L243.3,315.2L245.5,314.7L247.6,314.1L249.7,313.6L251.8,313.1L253.9,312.6L256.1,312.1L258.2,311.6L260.4,311.2L262.6,310.7L264.8,310.2L267.1,309.8L269.4,309.3L271.7,308.9L274.0,308.4L276.2,308.0L278.4,307.6L280.7,307.2L283.0,306.8L285.4,306.4L288.0,306.0L290.6,305.6L293.5,305.1L296.6,304.6L300.0,304.1L303.7,303.5L307.7,302.8L312.0,302.1L316.6,301.3L321.2,300.4L326.0,299.6L330.8,298.8L335.6,298.1L340.3,297.4L344.9,296.8L349.2,296.3L353.3,295.9L357.1,295.6L360.8,295.5L364.3,295.4L367.7,295.3L371.1,295.4L374.3,295.4L377.5,295.6L380.8,295.7L384.0,296.0L387.2,296.2L390.6,296.4L394.0,296.7L397.5,297.0L401.2,297.5L405.0,298.0L408.8,298.6L412.6,299.3L416.4,299.9L420.1,300.6L423.7,301.1L427.3,301.6L430.6,302.0L433.8,302.2L436.7,302.3L439.4,302.2L441.8,302.0L444.1,301.7L446.2,301.3L448.2,300.8L450.1,300.2L451.9,299.6L453.7,299.0L455.5,298.3L457.3,297.5L459.2,296.8L461.2,296.1L463.3,295.4L465.4,294.6L467.5,293.7L469.6,292.9L471.7,292.0L473.8,291.1L475.9,290.1L478.0,289.1L480.0,288.1L482.0,287.1L483.9,286.1L485.7,285.1L487.4,284.1L489.1,283.1L490.7,282.1L492.3,281.1L493.8,280.1L495.3,279.1L496.7,278.0L498.2,276.9L499.6,275.7L501.1,274.5L502.6,273.1L504.1,271.7L505.6,270.2L507.2,268.6L508.7,266.9L510.2,265.1L511.8,263.3L513.3,261.4L514.8,259.5L516.4,257.6L517.9,255.6L519.4,253.6L521.0,251.6L522.5,249.6L524.0,247.6L525.6,245.5L527.2,243.3L528.8,241.1L530.4,238.9L532.0,236.7L533.6,234.4L535.1,232.2L536.6,230.1L538.1,227.9L539.5,225.9L540.8,223.9L542.0,222.0L543.2,220.2L544.4,218.4L545.5,216.7L546.6,215.0L547.6,213.3L548.6,211.6L549.5,209.9L550.5,208.3L551.4,206.6L552.2,204.9L553.1,203.1L554.0,201.2L554.8,199.2L555.6,197.1L556.4,195.0L557.2,192.9L558.0,190.8L558.7,188.7L559.3,186.8L559.9,185.0L560.5,183.4L560.9,182.1L561.3,181.0" fill="none" stroke="#7896D8" stroke-width="1.5"/>
<use href="#s1" x="598.3" y="152.70" color="#E8837A"/>
<text x="604.0" y="154.75" class="lg">Global</text>
<use href="#s2" x="598.3" y="158.18" color="#4CC4CC"/>
<text x="604.0" y="160.23" class="lg">High–income Asia Pacific</text>
<use href="#s3" x="598.3" y="163.66" color="#33B894"/>
<text x="604.0" y="165.71" class="lg">High–income North America</text>
<use href="#s4" x="598.3" y="169.14" color="#3F4F98"/>
<text x="604.0" y="171.19" class="lg">Western Europe</text>
<use href="#s5" x="598.3" y="174.62" color="#F0AC98"/>
<text x="604.0" y="176.67" class="lg">Australasia</text>
<use href="#s6" x="598.3" y="180.10" color="#8E96CC"/>
<text x="604.0" y="182.15" class="lg">Andean Latin America</text>
<use href="#s7" x="598.3" y="185.58" color="#8FD2C0"/>
<text x="604.0" y="187.63" class="lg">Tropical Latin America</text>
<use href="#s8" x="598.3" y="191.06" color="#E2253D"/>
<text x="604.0" y="193.11" class="lg">Central Latin America</text>
<use href="#s9" x="598.3" y="196.54" color="#9C8670"/>
<text x="604.0" y="198.59" class="lg">Southern Latin America</text>
<use href="#s10" x="598.3" y="202.02" color="#5E58B4"/>
<text x="604.0" y="204.07" class="lg">Caribbean</text>
<use href="#s11" x="598.3" y="207.50" color="#E03A48"/>
<text x="604.0" y="209.55" class="lg">Central Europe</text>
<use href="#s12" x="598.3" y="212.98" color="#38A868"/>
<text x="604.0" y="215.03" class="lg">Eastern Europe</text>
<use href="#s13" x="598.3" y="218.46" color="#7E2FA0"/>
<text x="604.0" y="220.51" class="lg">Central Asia</text>
<use href="#s14" x="598.3" y="223.94" color="#158E8E"/>
<text x="604.0" y="225.99" class="lg">North Africa and Middle East</text>
<use href="#s15" x="598.3" y="229.42" color="#D21E4A"/>
<text x="604.0" y="231.47" class="lg">South Asia</text>
<use href="#s16" x="598.3" y="234.90" color="#6A5CC4"/>
<text x="604.0" y="236.95" class="lg">Southeast Asia</text>
<use href="#s17" x="598.3" y="240.38" color="#BE2A7A"/>
<text x="604.0" y="242.43" class="lg">East Asia</text>
<use href="#s18" x="598.3" y="245.86" color="#878787"/>
<text x="604.0" y="247.91" class="lg">Oceania</text>
<use href="#s19" x="598.3" y="251.34" color="#D04A30"/>
<text x="604.0" y="253.39" class="lg">Western Sub–Saharan Africa</text>
<use href="#s20" x="598.3" y="256.82" color="#1C7CCC"/>
<text x="604.0" y="258.87" class="lg">Eastern Sub–Saharan Africa</text>
<use href="#s21" x="598.3" y="262.30" color="#F0AA70"/>
<text x="604.0" y="264.35" class="lg">Central Sub–Saharan Africa</text>
<use href="#s22" x="598.3" y="267.78" color="#4EAE82"/>
<text x="604.0" y="269.83" class="lg">Southern Sub–Saharan Africa</text>
<g color="#D21E4A"><use href="#s15" x="165.7" y="727.7"/><use href="#s15" x="170.6" y="727.7"/><use href="#s15" x="175.5" y="726.4"/><use href="#s15" x="179.6" y="725.9"/><use href="#s15" x="184.1" y="723.6"/><use href="#s15" x="188.5" y="719.1"/><use href="#s15" x="193.4" y="720.4"/><use href="#s15" x="197.8" y="722.7"/><use href="#s15" x="202.4" y="722.0"/><use href="#s15" x="207.3" y="726.4"/><use href="#s15" x="211.8" y="727.7"/><use href="#s15" x="216.2" y="726.9"/><use href="#s15" x="220.3" y="725.6"/><use href="#s15" x="224.4" y="721.5"/><use href="#s15" x="228.8" y="718.4"/><use href="#s15" x="233.3" y="719.9"/><use href="#s15" x="238.5" y="718.6"/><use href="#s15" x="244.4" y="713.9"/><use href="#s15" x="249.9" y="712.6"/><use href="#s15" x="255.8" y="715.3"/><use href="#s15" x="261.8" y="715.3"/><use href="#s15" x="268.3" y="714.2"/><use href="#s15" x="275.3" y="712.6"/><use href="#s15" x="282.7" y="706.4"/><use href="#s15" x="290.3" y="700.2"/><use href="#s15" x="298.1" y="702.9"/><use href="#s15" x="305.5" y="705.7"/><use href="#s15" x="312.8" y="707.0"/><use href="#s15" x="319.3" y="707.0"/><use href="#s15" x="325.5" y="707.8"/><use href="#s15" x="330.4" y="709.8"/><use href="#s15" x="335.9" y="711.4"/></g>
<g color="#878787"><use href="#s18" x="217.0" y="769.3"/><use href="#s18" x="218.9" y="769.4"/><use href="#s18" x="220.8" y="769.5"/><use href="#s18" x="222.7" y="769.6"/><use href="#s18" x="224.6" y="769.7"/><use href="#s18" x="226.5" y="769.8"/><use href="#s18" x="228.4" y="769.9"/><use href="#s18" x="230.3" y="770.0"/><use href="#s18" x="232.2" y="770.1"/><use href="#s18" x="234.1" y="770.2"/><use href="#s18" x="236.0" y="770.3"/><use href="#s18" x="237.9" y="770.4"/><use href="#s18" x="239.8" y="770.4"/><use href="#s18" x="241.8" y="770.5"/><use href="#s18" x="243.7" y="770.5"/><use href="#s18" x="245.6" y="770.4"/><use href="#s18" x="247.5" y="770.3"/><use href="#s18" x="249.4" y="770.1"/><use href="#s18" x="251.2" y="769.8"/><use href="#s18" x="253.1" y="769.3"/><use href="#s18" x="254.9" y="768.7"/><use href="#s18" x="256.7" y="768.0"/><use href="#s18" x="258.5" y="767.4"/><use href="#s18" x="260.3" y="766.9"/><use href="#s18" x="262.2" y="766.6"/><use href="#s18" x="264.1" y="766.2"/><use href="#s18" x="266.0" y="765.9"/><use href="#s18" x="267.8" y="765.6"/><use href="#s18" x="269.7" y="765.3"/><use href="#s18" x="271.6" y="765.0"/></g>
<g color="#1C7CCC"><use href="#s20" x="105.5" y="802.5"/><use href="#s20" x="105.8" y="802.5"/><use href="#s20" x="106.5" y="802.5"/><use href="#s20" x="107.6" y="802.6"/><use href="#s20" x="109.0" y="802.7"/><use href="#s20" x="110.8" y="802.8"/><use href="#s20" x="112.8" y="802.9"/><use href="#s20" x="115.2" y="803.0"/><use href="#s20" x="117.8" y="803.2"/><use href="#s20" x="120.7" y="803.3"/><use href="#s20" x="123.9" y="803.4"/><use href="#s20" x="127.4" y="803.5"/><use href="#s20" x="131.1" y="803.6"/><use href="#s20" x="135.1" y="803.7"/><use href="#s20" x="139.3" y="803.8"/><use href="#s20" x="143.8" y="803.9"/><use href="#s20" x="148.5" y="803.9"/><use href="#s20" x="153.4" y="804.0"/><use href="#s20" x="158.6" y="804.0"/><use href="#s20" x="164.1" y="804.1"/><use href="#s20" x="169.7" y="804.1"/><use href="#s20" x="175.6" y="804.2"/><use href="#s20" x="181.8" y="804.2"/><use href="#s20" x="188.1" y="804.3"/><use href="#s20" x="194.7" y="804.3"/><use href="#s20" x="201.5" y="804.4"/><use href="#s20" x="208.5" y="804.4"/><use href="#s20" x="215.8" y="804.5"/><use href="#s20" x="223.2" y="804.5"/><use href="#s20" x="230.9" y="804.6"/></g>
<g color="#D04A30"><use href="#s19" x="133.2" y="782.1"/><use href="#s19" x="133.8" y="782.2"/><use href="#s19" x="134.9" y="782.6"/><use href="#s19" x="136.4" y="783.0"/><use href="#s19" x="138.2" y="783.6"/><use href="#s19" x="140.4" y="784.2"/><use href="#s19" x="142.8" y="784.9"/><use href="#s19" x="145.5" y="785.7"/><use href="#s19" x="148.5" y="786.4"/><use href="#s19" x="151.7" y="787.2"/><use href="#s19" x="155.1" y="787.8"/><use href="#s19" x="158.8" y="788.4"/><use href="#s19" x="162.7" y="788.8"/><use href="#s19" x="166.9" y="789.1"/><use href="#s19" x="171.2" y="789.4"/><use href="#s19" x="175.7" y="789.6"/><use href="#s19" x="180.5" y="789.8"/><use href="#s19" x="185.4" y="790.0"/><use href="#s19" x="190.4" y="790.2"/><use href="#s19" x="195.7" y="790.3"/><use href="#s19" x="201.1" y="790.5"/><use href="#s19" x="206.7" y="790.7"/><use href="#s19" x="212.4" y="790.9"/><use href="#s19" x="218.3" y="791.1"/><use href="#s19" x="224.4" y="791.2"/><use href="#s19" x="230.6" y="791.4"/><use href="#s19" x="236.9" y="791.5"/><use href="#s19" x="243.4" y="791.7"/><use href="#s19" x="250.1" y="791.8"/><use href="#s19" x="256.9" y="792.0"/></g>
<g color="#F0AA70"><use href="#s21" x="154.3" y="791.6"/><use href="#s21" x="155.8" y="791.6"/><use href="#s21" x="158.1" y="791.7"/><use href="#s21" x="160.7" y="791.7"/><use href="#s21" x="163.5" y="791.8"/><use href="#s21" x="166.7" y="791.9"/><use href="#s21" x="170.0" y="792.0"/><use href="#s21" x="173.4" y="792.1"/><use href="#s21" x="177.1" y="792.1"/><use href="#s21" x="180.8" y="792.2"/><use href="#s21" x="184.7" y="792.3"/><use href="#s21" x="188.7" y="792.4"/><use href="#s21" x="192.9" y="792.4"/><use href="#s21" x="197.1" y="792.5"/><use href="#s21" x="201.4" y="792.5"/><use href="#s21" x="205.9" y="792.5"/><use href="#s21" x="210.4" y="792.4"/><use href="#s21" x="215.0" y="792.3"/><use href="#s21" x="219.6" y="792.2"/><use href="#s21" x="224.4" y="792.0"/><use href="#s21" x="229.2" y="791.8"/><use href="#s21" x="234.1" y="791.6"/><use href="#s21" x="239.1" y="791.4"/><use href="#s21" x="244.1" y="791.1"/><use href="#s21" x="249.2" y="790.9"/><use href="#s21" x="254.4" y="790.6"/><use href="#s21" x="259.6" y="790.3"/><use href="#s21" x="264.9" y="790.0"/><use href="#s21" x="270.3" y="789.7"/><use href="#s21" x="275.7" y="789.4"/></g>
<g color="#158E8E"><use href="#s14" x="249.6" y="813.9"/><use href="#s14" x="255.0" y="814.0"/><use href="#s14" x="260.5" y="814.2"/><use href="#s14" x="265.9" y="814.3"/><use href="#s14" x="271.4" y="814.4"/><use href="#s14" x="276.8" y="814.5"/><use href="#s14" x="282.2" y="814.5"/><use href="#s14" x="287.7" y="814.5"/><use href="#s14" x="293.1" y="814.5"/><use href="#s14" x="298.6" y="814.4"/><use href="#s14" x="304.0" y="814.3"/><use href="#s14" x="309.4" y="814.1"/><use href="#s14" x="314.9" y="814.0"/><use href="#s14" x="320.3" y="813.8"/><use href="#s14" x="325.8" y="813.6"/><use href="#s14" x="331.2" y="813.4"/><use href="#s14" x="336.6" y="813.3"/><use href="#s14" x="342.1" y="813.1"/><use href="#s14" x="347.5" y="812.9"/><use href="#s14" x="352.9" y="812.7"/><use href="#s14" x="358.4" y="812.5"/><use href="#s14" x="363.8" y="812.3"/><use href="#s14" x="369.2" y="812.0"/><use href="#s14" x="374.7" y="811.8"/><use href="#s14" x="380.1" y="811.6"/><use href="#s14" x="385.6" y="811.3"/><use href="#s14" x="391.0" y="811.1"/><use href="#s14" x="396.4" y="810.9"/><use href="#s14" x="401.9" y="810.6"/><use href="#s14" x="407.3" y="810.4"/></g>
<g color="#8FD2C0"><use href="#s7" x="293.3" y="803.1"/><use href="#s7" x="297.2" y="802.0"/><use href="#s7" x="301.0" y="800.8"/><use href="#s7" x="304.9" y="799.5"/><use href="#s7" x="308.5" y="797.8"/><use href="#s7" x="309.4" y="794.0"/><use href="#s7" x="312.8" y="792.0"/><use href="#s7" x="316.7" y="791.1"/><use href="#s7" x="320.7" y="790.4"/><use href="#s7" x="324.6" y="789.7"/><use href="#s7" x="328.6" y="788.9"/><use href="#s7" x="332.5" y="787.9"/><use href="#s7" x="336.3" y="786.4"/><use href="#s7" x="340.0" y="784.9"/><use href="#s7" x="343.8" y="783.5"/><use href="#s7" x="347.7" y="782.6"/><use href="#s7" x="351.7" y="781.9"/><use href="#s7" x="355.7" y="781.5"/><use href="#s7" x="359.7" y="781.1"/><use href="#s7" x="363.7" y="780.8"/><use href="#s7" x="367.7" y="780.5"/><use href="#s7" x="371.8" y="780.3"/><use href="#s7" x="375.8" y="780.0"/><use href="#s7" x="379.8" y="779.8"/><use href="#s7" x="383.9" y="779.6"/><use href="#s7" x="387.9" y="779.4"/><use href="#s7" x="391.9" y="779.2"/><use href="#s7" x="395.9" y="779.1"/><use href="#s7" x="400.0" y="778.9"/><use href="#s7" x="404.0" y="778.7"/></g>
<g color="#BE2A7A"><use href="#s17" x="274.0" y="819.7"/><use href="#s17" x="280.2" y="819.7"/><use href="#s17" x="286.5" y="819.7"/><use href="#s17" x="292.7" y="819.7"/><use href="#s17" x="298.9" y="819.8"/><use href="#s17" x="305.1" y="819.8"/><use href="#s17" x="311.4" y="819.8"/><use href="#s17" x="317.6" y="819.8"/><use href="#s17" x="323.8" y="819.8"/><use href="#s17" x="330.0" y="819.8"/><use href="#s17" x="336.3" y="819.7"/><use href="#s17" x="342.5" y="819.7"/><use href="#s17" x="348.7" y="819.6"/><use href="#s17" x="354.9" y="819.5"/><use href="#s17" x="361.2" y="819.3"/><use href="#s17" x="367.4" y="819.1"/><use href="#s17" x="373.6" y="819.0"/><use href="#s17" x="379.8" y="818.8"/><use href="#s17" x="386.0" y="818.7"/><use href="#s17" x="392.3" y="818.6"/><use href="#s17" x="398.5" y="818.6"/><use href="#s17" x="404.7" y="818.6"/><use href="#s17" x="410.9" y="818.7"/><use href="#s17" x="417.2" y="818.9"/><use href="#s17" x="423.4" y="819.1"/><use href="#s17" x="429.6" y="819.3"/><use href="#s17" x="435.8" y="819.5"/><use href="#s17" x="442.1" y="819.7"/><use href="#s17" x="448.3" y="820.0"/><use href="#s17" x="454.5" y="820.2"/></g>
<g color="#6A5CC4"><use href="#s16" x="269.2" y="823.3"/><use href="#s16" x="273.8" y="823.3"/><use href="#s16" x="278.4" y="823.3"/><use href="#s16" x="283.0" y="823.3"/><use href="#s16" x="287.6" y="823.3"/><use href="#s16" x="292.2" y="823.3"/><use href="#s16" x="296.8" y="823.3"/><use href="#s16" x="301.4" y="823.3"/><use href="#s16" x="305.9" y="823.3"/><use href="#s16" x="310.5" y="823.4"/><use href="#s16" x="315.1" y="823.4"/><use href="#s16" x="319.7" y="823.4"/><use href="#s16" x="324.3" y="823.3"/><use href="#s16" x="328.9" y="823.3"/><use href="#s16" x="333.5" y="823.3"/><use href="#s16" x="338.1" y="823.3"/><use href="#s16" x="342.7" y="823.3"/><use href="#s16" x="347.3" y="823.3"/><use href="#s16" x="351.9" y="823.2"/><use href="#s16" x="356.5" y="823.2"/><use href="#s16" x="361.1" y="823.1"/><use href="#s16" x="365.7" y="823.1"/><use href="#s16" x="370.2" y="823.0"/><use href="#s16" x="374.8" y="823.0"/><use href="#s16" x="379.4" y="822.9"/><use href="#s16" x="384.0" y="822.8"/><use href="#s16" x="388.6" y="822.8"/><use href="#s16" x="393.2" y="822.7"/><use href="#s16" x="397.8" y="822.7"/><use href="#s16" x="402.4" y="822.6"/></g>
<g color="#5E58B4"><use href="#s10" x="306.3" y="812.0"/><use href="#s10" x="309.4" y="811.2"/><use href="#s10" x="312.5" y="810.4"/><use href="#s10" x="315.6" y="809.6"/><use href="#s10" x="318.7" y="808.9"/><use href="#s10" x="321.9" y="808.2"/><use href="#s10" x="325.0" y="807.6"/><use href="#s10" x="328.2" y="807.1"/><use href="#s10" x="331.4" y="807.0"/><use href="#s10" x="334.6" y="807.0"/><use href="#s10" x="337.8" y="807.1"/><use href="#s10" x="341.0" y="807.3"/><use href="#s10" x="344.2" y="807.4"/><use href="#s10" x="347.4" y="807.1"/><use href="#s10" x="349.5" y="805.1"/><use href="#s10" x="351.9" y="803.1"/><use href="#s10" x="354.9" y="802.1"/><use href="#s10" x="358.0" y="801.2"/><use href="#s10" x="361.1" y="800.4"/><use href="#s10" x="364.2" y="799.6"/><use href="#s10" x="367.3" y="799.0"/><use href="#s10" x="370.5" y="798.4"/><use href="#s10" x="373.7" y="797.9"/><use href="#s10" x="376.9" y="797.6"/><use href="#s10" x="380.1" y="797.4"/><use href="#s10" x="383.3" y="797.3"/><use href="#s10" x="386.5" y="797.4"/><use href="#s10" x="389.7" y="797.6"/><use href="#s10" x="392.8" y="798.1"/><use href="#s10" x="395.9" y="799.0"/></g>
<g color="#4EAE82"><use href="#s22" x="298.1" y="771.8"/><use href="#s22" x="301.5" y="771.2"/><use href="#s22" x="305.0" y="770.7"/><use href="#s22" x="308.4" y="770.1"/><use href="#s22" x="311.9" y="769.6"/><use href="#s22" x="315.3" y="768.9"/><use href="#s22" x="318.7" y="768.2"/><use href="#s22" x="322.0" y="767.3"/><use href="#s22" x="325.3" y="765.9"/><use href="#s22" x="328.5" y="764.5"/><use href="#s22" x="331.8" y="763.6"/><use href="#s22" x="335.2" y="763.1"/><use href="#s22" x="338.7" y="762.7"/><use href="#s22" x="342.2" y="762.4"/><use href="#s22" x="345.7" y="762.3"/><use href="#s22" x="349.1" y="762.3"/><use href="#s22" x="352.6" y="762.5"/><use href="#s22" x="356.0" y="763.2"/><use href="#s22" x="359.2" y="764.6"/><use href="#s22" x="362.4" y="766.0"/><use href="#s22" x="365.6" y="767.3"/><use href="#s22" x="368.8" y="768.7"/><use href="#s22" x="372.0" y="770.1"/><use href="#s22" x="375.3" y="771.3"/><use href="#s22" x="378.6" y="772.3"/><use href="#s22" x="382.1" y="772.9"/><use href="#s22" x="385.5" y="773.4"/><use href="#s22" x="389.0" y="773.8"/><use href="#s22" x="392.4" y="774.2"/><use href="#s22" x="395.9" y="774.6"/></g>
<g color="#E2253D"><use href="#s8" x="283.8" y="790.7"/><use href="#s8" x="287.5" y="788.9"/><use href="#s8" x="291.3" y="787.1"/><use href="#s8" x="295.0" y="785.3"/><use href="#s8" x="298.8" y="783.6"/><use href="#s8" x="302.5" y="781.9"/><use href="#s8" x="306.3" y="780.3"/><use href="#s8" x="310.2" y="778.9"/><use href="#s8" x="314.2" y="777.9"/><use href="#s8" x="318.3" y="776.8"/><use href="#s8" x="322.2" y="775.6"/><use href="#s8" x="326.0" y="773.9"/><use href="#s8" x="329.7" y="772.2"/><use href="#s8" x="333.4" y="770.3"/><use href="#s8" x="337.1" y="768.3"/><use href="#s8" x="340.7" y="766.3"/><use href="#s8" x="344.1" y="764.0"/><use href="#s8" x="347.5" y="761.6"/><use href="#s8" x="351.0" y="759.4"/><use href="#s8" x="354.7" y="757.6"/><use href="#s8" x="358.7" y="756.6"/><use href="#s8" x="362.9" y="756.2"/><use href="#s8" x="367.0" y="756.1"/><use href="#s8" x="371.1" y="755.9"/><use href="#s8" x="375.3" y="755.6"/><use href="#s8" x="379.4" y="755.3"/><use href="#s8" x="383.5" y="755.0"/><use href="#s8" x="387.6" y="754.8"/><use href="#s8" x="391.8" y="754.5"/><use href="#s8" x="395.9" y="754.2"/></g>
<g color="#E8837A"><use href="#s1" x="312.8" y="788.4"/><use href="#s1" x="316.2" y="787.4"/><use href="#s1" x="319.6" y="786.3"/><use href="#s1" x="323.0" y="785.3"/><use href="#s1" x="326.4" y="784.3"/><use href="#s1" x="329.8" y="783.2"/><use href="#s1" x="333.2" y="782.2"/><use href="#s1" x="336.5" y="781.1"/><use href="#s1" x="339.9" y="780.0"/><use href="#s1" x="343.2" y="778.8"/><use href="#s1" x="346.5" y="777.5"/><use href="#s1" x="349.8" y="776.2"/><use href="#s1" x="353.1" y="774.9"/><use href="#s1" x="356.5" y="773.6"/><use href="#s1" x="359.8" y="772.4"/><use href="#s1" x="363.2" y="771.3"/><use href="#s1" x="366.6" y="770.3"/><use href="#s1" x="370.0" y="769.3"/><use href="#s1" x="373.4" y="768.4"/><use href="#s1" x="376.8" y="767.5"/><use href="#s1" x="380.3" y="766.8"/><use href="#s1" x="383.8" y="766.1"/><use href="#s1" x="387.3" y="765.6"/><use href="#s1" x="390.8" y="765.4"/><use href="#s1" x="394.4" y="765.3"/><use href="#s1" x="397.9" y="765.3"/><use href="#s1" x="401.5" y="765.4"/><use href="#s1" x="405.0" y="765.6"/><use href="#s1" x="408.6" y="765.8"/><use href="#s1" x="412.1" y="766.0"/></g>
<g color="#7E2FA0"><use href="#s13" x="332.3" y="785.2"/><use href="#s13" x="335.8" y="784.7"/><use href="#s13" x="339.4" y="784.5"/><use href="#s13" x="342.8" y="785.2"/><use href="#s13" x="345.6" y="787.4"/><use href="#s13" x="348.1" y="789.9"/><use href="#s13" x="350.9" y="792.0"/><use href="#s13" x="354.3" y="793.3"/><use href="#s13" x="357.7" y="794.0"/><use href="#s13" x="361.3" y="794.2"/><use href="#s13" x="364.8" y="794.1"/><use href="#s13" x="368.2" y="795.0"/><use href="#s13" x="370.5" y="797.7"/><use href="#s13" x="372.2" y="800.8"/><use href="#s13" x="374.4" y="803.6"/><use href="#s13" x="377.4" y="805.4"/><use href="#s13" x="380.8" y="806.3"/><use href="#s13" x="384.4" y="806.4"/><use href="#s13" x="387.8" y="805.5"/><use href="#s13" x="391.1" y="804.1"/><use href="#s13" x="394.2" y="802.4"/><use href="#s13" x="397.3" y="800.6"/><use href="#s13" x="400.0" y="798.4"/><use href="#s13" x="402.8" y="796.2"/><use href="#s13" x="405.5" y="797.3"/><use href="#s13" x="406.7" y="800.6"/><use href="#s13" x="409.1" y="803.2"/><use href="#s13" x="412.0" y="805.3"/><use href="#s13" x="415.2" y="806.9"/><use href="#s13" x="418.7" y="807.2"/></g>
<g color="#E03A48"><use href="#s11" x="391.0" y="802.3"/><use href="#s11" x="394.6" y="804.0"/><use href="#s11" x="398.3" y="805.6"/><use href="#s11" x="402.2" y="806.8"/><use href="#s11" x="406.1" y="807.5"/><use href="#s11" x="410.2" y="807.9"/><use href="#s11" x="414.2" y="808.2"/><use href="#s11" x="418.2" y="808.4"/><use href="#s11" x="422.2" y="808.6"/><use href="#s11" x="426.3" y="808.7"/><use href="#s11" x="430.3" y="808.9"/><use href="#s11" x="434.3" y="808.9"/><use href="#s11" x="438.3" y="809.0"/><use href="#s11" x="442.4" y="809.0"/><use href="#s11" x="446.4" y="809.0"/><use href="#s11" x="450.4" y="808.9"/><use href="#s11" x="454.5" y="808.7"/><use href="#s11" x="458.5" y="808.6"/><use href="#s11" x="462.5" y="808.4"/><use href="#s11" x="466.5" y="808.1"/><use href="#s11" x="470.5" y="807.8"/><use href="#s11" x="474.6" y="807.4"/><use href="#s11" x="478.6" y="807.1"/><use href="#s11" x="482.6" y="806.7"/><use href="#s11" x="486.6" y="806.2"/><use href="#s11" x="490.6" y="805.8"/><use href="#s11" x="494.6" y="805.3"/><use href="#s11" x="498.6" y="804.8"/><use href="#s11" x="502.6" y="804.4"/><use href="#s11" x="506.6" y="803.9"/></g>
<g color="#38A868"><use href="#s12" x="410.5" y="800.7"/><use href="#s12" x="414.2" y="799.9"/><use href="#s12" x="417.9" y="799.1"/><use href="#s12" x="421.6" y="798.4"/><use href="#s12" x="425.4" y="798.2"/><use href="#s12" x="429.0" y="799.0"/><use href="#s12" x="432.2" y="801.1"/><use href="#s12" x="434.5" y="804.1"/><use href="#s12" x="435.9" y="807.6"/><use href="#s12" x="437.2" y="811.1"/><use href="#s12" x="439.3" y="814.2"/><use href="#s12" x="442.3" y="816.6"/><use href="#s12" x="445.7" y="818.2"/><use href="#s12" x="449.3" y="819.1"/><use href="#s12" x="453.0" y="819.9"/><use href="#s12" x="456.7" y="820.8"/><use href="#s12" x="460.3" y="821.8"/><use href="#s12" x="464.0" y="822.7"/><use href="#s12" x="467.7" y="823.3"/><use href="#s12" x="471.5" y="823.7"/><use href="#s12" x="475.3" y="824.0"/><use href="#s12" x="479.0" y="824.1"/><use href="#s12" x="482.8" y="824.3"/><use href="#s12" x="486.6" y="824.3"/><use href="#s12" x="490.4" y="824.4"/><use href="#s12" x="494.1" y="824.3"/><use href="#s12" x="497.9" y="824.0"/><use href="#s12" x="501.6" y="823.5"/><use href="#s12" x="505.4" y="822.9"/><use href="#s12" x="509.1" y="822.3"/></g>
<g color="#9C8670"><use href="#s9" x="358.4" y="755.9"/><use href="#s9" x="364.9" y="752.3"/><use href="#s9" x="368.2" y="751.0"/><use href="#s9" x="372.2" y="747.4"/><use href="#s9" x="376.3" y="741.2"/><use href="#s9" x="379.3" y="739.3"/><use href="#s9" x="383.2" y="735.8"/><use href="#s9" x="387.4" y="730.9"/><use href="#s9" x="391.0" y="724.6"/><use href="#s9" x="395.0" y="716.0"/><use href="#s9" x="398.8" y="707.3"/><use href="#s9" x="402.4" y="703.7"/><use href="#s9" x="405.6" y="702.9"/><use href="#s9" x="410.5" y="702.9"/><use href="#s9" x="413.8" y="693.6"/><use href="#s9" x="417.0" y="689.9"/><use href="#s9" x="421.6" y="683.4"/><use href="#s9" x="425.2" y="680.9"/><use href="#s9" x="428.4" y="685.5"/><use href="#s9" x="430.9" y="693.2"/><use href="#s9" x="434.6" y="693.2"/><use href="#s9" x="439.0" y="689.9"/><use href="#s9" x="443.9" y="684.2"/><use href="#s9" x="448.8" y="679.3"/><use href="#s9" x="454.5" y="680.9"/><use href="#s9" x="459.4" y="680.9"/><use href="#s9" x="460.7" y="688.8"/><use href="#s9" x="462.3" y="694.0"/></g>
<g color="#8E96CC"><use href="#s6" x="294.5" y="605.7"/><use href="#s6" x="295.8" y="616.5"/><use href="#s6" x="297.2" y="610.5"/><use href="#s6" x="299.3" y="610.8"/><use href="#s6" x="302.0" y="612.3"/><use href="#s6" x="305.2" y="613.0"/><use href="#s6" x="308.2" y="618.1"/><use href="#s6" x="311.7" y="609.2"/><use href="#s6" x="314.7" y="604.6"/><use href="#s6" x="317.9" y="605.7"/><use href="#s6" x="321.1" y="600.5"/><use href="#s6" x="324.8" y="595.7"/><use href="#s6" x="328.5" y="582.7"/><use href="#s6" x="332.4" y="575.7"/><use href="#s6" x="335.8" y="571.5"/><use href="#s6" x="339.5" y="564.6"/><use href="#s6" x="342.7" y="560.2"/><use href="#s6" x="346.6" y="558.9"/><use href="#s6" x="350.3" y="548.2"/><use href="#s6" x="354.1" y="531.0"/><use href="#s6" x="358.5" y="517.2"/><use href="#s6" x="363.4" y="509.3"/><use href="#s6" x="368.2" y="502.4"/><use href="#s6" x="373.3" y="504.7"/><use href="#s6" x="377.4" y="509.9"/><use href="#s6" x="381.7" y="509.5"/><use href="#s6" x="385.7" y="501.4"/><use href="#s6" x="389.3" y="485.8"/><use href="#s6" x="393.0" y="484.2"/><use href="#s6" x="396.9" y="467.5"/><use href="#s6" x="399.5" y="491.8"/><use href="#s6" x="402.2" y="504.4"/></g>
<g color="#F0AC98"><use href="#s5" x="457.8" y="799.0"/><use href="#s5" x="461.3" y="797.0"/><use href="#s5" x="464.9" y="795.0"/><use href="#s5" x="468.4" y="793.0"/><use href="#s5" x="471.9" y="790.9"/><use href="#s5" x="475.3" y="788.6"/><use href="#s5" x="478.1" y="785.7"/><use href="#s5" x="478.4" y="781.8"/><use href="#s5" x="477.9" y="777.7"/><use href="#s5" x="479.9" y="774.3"/><use href="#s5" x="483.0" y="771.6"/><use href="#s5" x="486.3" y="769.2"/><use href="#s5" x="489.6" y="766.9"/><use href="#s5" x="492.9" y="764.5"/><use href="#s5" x="495.8" y="761.7"/><use href="#s5" x="498.3" y="758.5"/><use href="#s5" x="500.4" y="755.0"/><use href="#s5" x="502.4" y="751.5"/><use href="#s5" x="504.9" y="748.3"/><use href="#s5" x="507.8" y="745.4"/><use href="#s5" x="510.8" y="742.7"/><use href="#s5" x="514.0" y="740.2"/><use href="#s5" x="517.3" y="737.8"/><use href="#s5" x="520.7" y="735.5"/><use href="#s5" x="524.2" y="733.5"/><use href="#s5" x="528.0" y="731.9"/><use href="#s5" x="531.9" y="732.2"/><use href="#s5" x="534.9" y="734.8"/><use href="#s5" x="537.6" y="737.9"/><use href="#s5" x="539.5" y="741.5"/></g>
<g color="#3F4F98"><use href="#s4" x="469.2" y="799.8"/><use href="#s4" x="472.5" y="799.1"/><use href="#s4" x="475.8" y="798.5"/><use href="#s4" x="479.1" y="797.8"/><use href="#s4" x="482.4" y="797.1"/><use href="#s4" x="485.7" y="796.3"/><use href="#s4" x="488.9" y="795.4"/><use href="#s4" x="492.1" y="794.1"/><use href="#s4" x="494.9" y="792.4"/><use href="#s4" x="497.3" y="790.0"/><use href="#s4" x="499.2" y="787.2"/><use href="#s4" x="500.7" y="784.2"/><use href="#s4" x="502.2" y="781.2"/><use href="#s4" x="503.8" y="778.2"/><use href="#s4" x="505.5" y="775.3"/><use href="#s4" x="507.0" y="772.3"/><use href="#s4" x="508.9" y="769.5"/><use href="#s4" x="511.1" y="766.9"/><use href="#s4" x="513.4" y="764.5"/><use href="#s4" x="515.9" y="762.3"/><use href="#s4" x="518.5" y="760.1"/><use href="#s4" x="521.1" y="757.9"/><use href="#s4" x="523.7" y="755.8"/><use href="#s4" x="526.3" y="753.6"/><use href="#s4" x="528.9" y="751.5"/><use href="#s4" x="531.6" y="749.5"/><use href="#s4" x="534.5" y="747.8"/><use href="#s4" x="537.8" y="747.8"/><use href="#s4" x="540.3" y="749.9"/><use href="#s4" x="542.5" y="752.5"/></g>
<g color="#4CC4CC"><use href="#s2" x="483.8" y="754.0"/><use href="#s2" x="486.9" y="752.4"/><use href="#s2" x="490.0" y="750.9"/><use href="#s2" x="493.1" y="749.3"/><use href="#s2" x="496.1" y="747.5"/><use href="#s2" x="498.8" y="745.4"/><use href="#s2" x="501.0" y="742.7"/><use href="#s2" x="502.4" y="739.6"/><use href="#s2" x="503.5" y="736.3"/><use href="#s2" x="504.5" y="733.0"/><use href="#s2" x="505.7" y="729.7"/><use href="#s2" x="507.6" y="726.8"/><use href="#s2" x="509.9" y="724.3"/><use href="#s2" x="512.9" y="722.6"/><use href="#s2" x="516.2" y="721.4"/><use href="#s2" x="519.6" y="720.7"/><use href="#s2" x="523.0" y="720.3"/><use href="#s2" x="526.5" y="720.0"/><use href="#s2" x="529.9" y="719.6"/><use href="#s2" x="533.4" y="719.0"/><use href="#s2" x="536.7" y="718.0"/><use href="#s2" x="539.7" y="716.3"/><use href="#s2" x="542.1" y="713.9"/><use href="#s2" x="544.2" y="711.1"/><use href="#s2" x="546.3" y="708.4"/><use href="#s2" x="548.9" y="706.0"/><use href="#s2" x="552.2" y="705.1"/><use href="#s2" x="555.6" y="705.3"/><use href="#s2" x="559.0" y="706.0"/><use href="#s2" x="562.4" y="706.7"/></g>
<g color="#33B894"><use href="#s3" x="481.8" y="767.9"/><use href="#s3" x="484.8" y="765.6"/><use href="#s3" x="487.8" y="763.2"/><use href="#s3" x="490.8" y="760.8"/><use href="#s3" x="493.5" y="758.2"/><use href="#s3" x="495.9" y="755.2"/><use href="#s3" x="497.5" y="751.7"/><use href="#s3" x="498.6" y="748.1"/><use href="#s3" x="499.6" y="744.4"/><use href="#s3" x="500.5" y="740.7"/><use href="#s3" x="501.9" y="737.1"/><use href="#s3" x="504.1" y="734.0"/><use href="#s3" x="506.7" y="731.2"/><use href="#s3" x="509.2" y="728.3"/><use href="#s3" x="510.5" y="724.8"/><use href="#s3" x="510.9" y="721.1"/><use href="#s3" x="513.8" y="718.6"/><use href="#s3" x="517.4" y="717.5"/><use href="#s3" x="521.2" y="716.7"/><use href="#s3" x="524.9" y="716.1"/><use href="#s3" x="528.7" y="715.6"/><use href="#s3" x="532.5" y="715.0"/><use href="#s3" x="536.2" y="714.4"/><use href="#s3" x="540.0" y="713.6"/><use href="#s3" x="543.6" y="712.4"/><use href="#s3" x="547.0" y="710.8"/><use href="#s3" x="550.5" y="709.1"/><use href="#s3" x="554.1" y="707.8"/><use href="#s3" x="557.7" y="706.7"/><use href="#s3" x="561.4" y="705.7"/></g>
<path d="M105.9,777.1L108.1,777.0L110.9,776.9L114.1,776.8L117.7,776.7L121.6,776.6L125.7,776.4L130.1,776.3L134.6,776.1L139.1,775.9L143.5,775.7L147.9,775.5L152.1,775.2L156.2,774.9L160.4,774.6L164.7,774.3L169.0,773.9L173.4,773.5L177.8,773.1L182.2,772.7L186.6,772.3L191.0,771.9L195.4,771.4L199.8,771.0L204.2,770.6L208.6,770.2L213.0,769.7L217.4,769.3L221.9,768.8L226.4,768.4L230.8,767.9L235.3,767.5L239.6,767.0L244.0,766.6L248.2,766.2L252.4,765.8L256.4,765.4L260.3,765.1L264.0,764.8L267.6,764.5L271.1,764.3L274.6,764.1L278.0,763.9L281.5,763.7L284.9,763.4L288.5,763.2L292.2,762.9L296.0,762.6L300.0,762.2L304.3,761.8L308.8,761.2L313.5,760.7L318.3,760.0L323.3,759.4L328.2,758.8L333.2,758.1L338.0,757.5L342.6,757.0L347.1,756.5L351.3,756.2L355.1,755.9L358.6,755.7L361.8,755.6L364.8,755.6L367.6,755.5L370.3,755.6L372.8,755.7L375.3,755.9L377.7,756.1L380.1,756.3L382.5,756.7L385.1,757.1L387.7,757.5L390.4,758.1L393.2,758.7L396.0,759.5L398.9,760.4L401.7,761.4L404.5,762.4L407.3,763.3L410.0,764.3L412.7,765.2L415.3,766.0L417.9,766.7L420.3,767.3L422.6,767.8L424.8,768.2L427.0,768.6L429.0,768.9L431.0,769.1L433.0,769.3L434.9,769.5L436.9,769.6L438.8,769.7L440.7,769.7L442.7,769.7L444.7,769.7L446.7,769.6L448.8,769.6L450.8,769.4L452.9,769.3L454.9,769.1L456.9,768.8L459.0,768.5L461.0,768.2L463.1,767.8L465.1,767.4L467.2,766.9L469.2,766.4L471.2,765.8L473.3,765.3L475.3,764.7L477.3,764.0L479.3,763.3L481.3,762.6L483.3,761.8L485.4,760.9L487.4,760.0L489.4,759.0L491.5,757.9L493.6,756.7L495.7,755.4L497.9,754.0L500.1,752.5L502.4,750.9L504.6,749.2L506.9,747.5L509.1,745.7L511.3,743.9L513.5,742.1L515.6,740.2L517.6,738.4L519.6,736.6L521.5,734.8L523.4,732.8L525.2,730.8L527.1,728.8L528.8,726.7L530.6,724.6L532.2,722.6L533.8,720.6L535.4,718.7L536.8,716.9L538.2,715.2L539.5,713.7L540.7,712.3L541.7,711.2L542.6,710.1L543.5,709.2L544.2,708.4L545.0,707.6L545.7,706.8L546.4,706.0L547.1,705.1L547.8,704.1L548.6,703.0L549.5,701.7L550.5,700.2L551.6,698.5L552.7,696.6L553.9,694.6L555.1,692.6L556.3,690.5L557.5,688.5L558.6,686.5L559.6,684.8L560.5,683.2L561.3,681.8L561.9,680.8L561.9,721.6L560.8,722.5L559.4,723.6L557.8,724.9L556.0,726.3L554.0,727.9L551.9,729.6L549.8,731.3L547.6,733.1L545.4,734.8L543.3,736.5L541.4,738.1L539.5,739.6L537.8,741.0L536.0,742.4L534.3,743.8L532.7,745.1L531.0,746.5L529.4,747.8L527.8,749.1L526.1,750.4L524.5,751.7L522.9,753.0L521.3,754.3L519.6,755.5L517.9,756.7L516.3,758.0L514.6,759.2L513.0,760.4L511.3,761.6L509.6,762.8L508.0,764.0L506.3,765.1L504.7,766.2L503.0,767.3L501.4,768.4L499.7,769.4L498.1,770.4L496.6,771.3L495.1,772.3L493.6,773.2L492.2,774.1L490.7,774.9L489.2,775.7L487.6,776.5L485.8,777.3L484.0,778.0L482.0,778.7L479.8,779.4L477.4,780.1L474.7,780.7L471.8,781.3L468.8,782.0L465.7,782.5L462.5,783.1L459.3,783.6L456.2,784.0L453.1,784.4L450.1,784.8L447.3,785.0L444.7,785.2L442.3,785.3L440.1,785.3L438.0,785.3L436.1,785.2L434.2,785.0L432.3,784.8L430.5,784.5L428.6,784.2L426.7,783.9L424.7,783.5L422.6,783.1L420.3,782.7L417.9,782.3L415.3,781.7L412.7,781.2L410.0,780.5L407.3,779.9L404.5,779.2L401.7,778.5L398.9,777.8L396.0,777.2L393.2,776.5L390.4,775.9L387.7,775.4L385.1,774.9L382.5,774.3L380.1,773.7L377.7,773.0L375.3,772.4L372.8,771.9L370.3,771.4L367.6,770.9L364.8,770.6L361.8,770.4L358.6,770.4L355.1,770.5L351.3,770.8L347.1,771.4L342.6,772.1L338.0,773.0L333.2,773.9L328.2,775.0L323.3,776.0L318.3,777.1L313.5,778.1L308.8,779.0L304.3,779.8L300.0,780.4L295.9,780.9L291.9,781.2L287.9,781.5L284.0,781.8L280.1,782.0L276.4,782.1L272.7,782.2L269.2,782.4L265.8,782.5L262.5,782.6L259.4,782.8L256.4,783.0L253.6,783.2L251.0,783.5L248.6,783.8L246.4,784.0L244.3,784.3L242.3,784.6L240.3,784.8L238.4,785.1L236.4,785.4L234.4,785.7L232.4,786.0L230.3,786.3L228.1,786.6L225.9,786.9L223.8,787.2L221.6,787.5L219.4,787.9L217.2,788.2L215.1,788.5L212.9,788.8L210.7,789.2L208.5,789.5L206.4,789.9L204.2,790.2L202.0,790.5L199.9,790.9L197.7,791.2L195.5,791.5L193.4,791.9L191.2,792.2L189.0,792.6L186.9,792.9L184.7,793.3L182.5,793.8L180.4,794.2L178.2,794.7L176.0,795.2L173.9,795.8L171.7,796.3L169.5,796.9L167.3,797.5L165.2,798.1L163.0,798.8L160.8,799.5L158.6,800.2L156.4,800.9L154.3,801.7L152.1,802.5L149.9,803.3L147.7,804.3L145.5,805.2L143.2,806.2L141.0,807.2L138.7,808.2L136.5,809.3L134.3,810.3L132.2,811.4L130.1,812.4L128.1,813.4L126.1,814.3L124.1,815.2L122.2,816.2L120.2,817.2L118.2,818.3L116.2,819.3L114.4,820.2L112.6,821.2L110.9,822.1L109.4,822.9L108.0,823.6L106.9,824.2L105.9,824.7Z" fill="#999999" fill-opacity="0.4"/>
<path d="M105.9,801.9L107.5,801.5L109.6,801.0L112.0,800.5L114.8,799.9L117.7,799.2L120.9,798.5L124.1,797.7L127.3,796.9L130.5,796.2L133.6,795.5L136.5,794.8L139.1,794.1L141.5,793.5L143.7,792.9L145.8,792.3L147.8,791.7L149.8,791.1L151.7,790.5L153.7,789.9L155.7,789.3L157.8,788.7L160.1,788.1L162.5,787.5L165.1,786.9L167.9,786.3L170.9,785.7L174.0,785.1L177.2,784.4L180.5,783.8L183.8,783.2L187.2,782.6L190.7,782.0L194.1,781.4L197.5,780.8L200.9,780.3L204.2,779.7L207.4,779.2L210.5,778.6L213.6,778.1L216.6,777.6L219.6,777.1L222.7,776.6L225.8,776.1L229.0,775.6L232.3,775.2L235.8,774.7L239.4,774.3L243.3,773.9L247.5,773.5L252.1,773.1L257.0,772.8L262.2,772.4L267.4,772.1L272.7,771.8L277.9,771.4L283.0,771.1L287.8,770.8L292.3,770.6L296.4,770.3L300.0,770.0L303.0,769.7L305.6,769.5L307.8,769.3L309.7,769.1L311.3,768.9L312.8,768.7L314.2,768.5L315.6,768.3L317.1,768.1L318.7,767.9L320.5,767.6L322.6,767.3L325.0,766.9L327.4,766.5L330.0,766.0L332.7,765.5L335.4,765.0L338.2,764.5L341.0,764.0L343.9,763.5L346.7,763.1L349.6,762.8L352.4,762.5L355.1,762.4L357.8,762.4L360.5,762.4L363.2,762.5L366.0,762.7L368.7,762.9L371.4,763.2L374.1,763.5L376.8,763.9L379.5,764.3L382.3,764.7L385.0,765.1L387.7,765.6L390.4,766.1L393.2,766.7L396.0,767.4L398.9,768.2L401.7,769.0L404.5,769.8L407.3,770.5L410.0,771.3L412.7,772.0L415.3,772.7L417.9,773.3L420.3,773.8L422.6,774.2L424.8,774.6L427.0,774.9L429.0,775.2L431.0,775.5L433.0,775.7L434.9,775.8L436.9,776.0L438.8,776.1L440.7,776.1L442.7,776.2L444.7,776.2L446.7,776.2L448.8,776.2L450.8,776.1L452.9,776.0L454.9,775.9L456.9,775.8L459.0,775.6L461.0,775.3L463.1,775.0L465.1,774.7L467.2,774.3L469.2,773.8L471.2,773.3L473.3,772.7L475.3,772.0L477.3,771.3L479.4,770.6L481.4,769.8L483.4,768.9L485.5,768.0L487.5,767.1L489.5,766.1L491.6,765.1L493.6,764.0L495.6,762.9L497.7,761.7L499.8,760.5L501.8,759.2L503.9,757.9L506.0,756.6L508.0,755.2L510.1,753.7L512.1,752.3L514.1,750.8L516.1,749.2L518.0,747.7L519.9,746.1L521.7,744.5L523.6,742.9L525.3,741.2L527.1,739.5L528.9,737.7L530.6,735.9L532.4,734.1L534.1,732.3L535.9,730.4L537.7,728.5L539.5,726.6L541.4,724.6L543.4,722.3L545.6,720.0L547.7,717.5L549.9,715.0L552.0,712.6L554.1,710.2L556.1,707.9L557.9,705.9L559.5,704.0L560.8,702.4L561.9,701.2" fill="none" stroke="#7896D8" stroke-width="1.5"/>
<use href="#s1" x="598.3" y="594.50" color="#E8837A"/>
<text x="604.0" y="596.55" class="lg">Global</text>
<use href="#s2" x="598.3" y="599.99" color="#4CC4CC"/>
<text x="604.0" y="602.04" class="lg">High–income Asia Pacific</text>
<use href="#s3" x="598.3" y="605.48" color="#33B894"/>
<text x="604.0" y="607.53" class="lg">High–income North America</text>
<use href="#s4" x="598.3" y="610.97" color="#3F4F98"/>
<text x="604.0" y="613.02" class="lg">Western Europe</text>
<use href="#s5" x="598.3" y="616.46" color="#F0AC98"/>
<text x="604.0" y="618.51" class="lg">Australasia</text>
<use href="#s6" x="598.3" y="621.95" color="#8E96CC"/>
<text x="604.0" y="624.00" class="lg">Andean Latin America</text>
<use href="#s7" x="598.3" y="627.44" color="#8FD2C0"/>
<text x="604.0" y="629.49" class="lg">Tropical Latin America</text>
<use href="#s8" x="598.3" y="632.93" color="#E2253D"/>
<text x="604.0" y="634.98" class="lg">Central Latin America</text>
<use href="#s9" x="598.3" y="638.42" color="#9C8670"/>
<text x="604.0" y="640.47" class="lg">Southern Latin America</text>
<use href="#s10" x="598.3" y="643.91" color="#5E58B4"/>
<text x="604.0" y="645.96" class="lg">Caribbean</text>
<use href="#s11" x="598.3" y="649.40" color="#E03A48"/>
<text x="604.0" y="651.45" class="lg">Central Europe</text>
<use href="#s12" x="598.3" y="654.89" color="#38A868"/>
<text x="604.0" y="656.94" class="lg">Eastern Europe</text>
<use href="#s13" x="598.3" y="660.38" color="#7E2FA0"/>
<text x="604.0" y="662.43" class="lg">Central Asia</text>
<use href="#s14" x="598.3" y="665.87" color="#158E8E"/>
<text x="604.0" y="667.92" class="lg">North Africa and Middle East</text>
<use href="#s15" x="598.3" y="671.36" color="#D21E4A"/>
<text x="604.0" y="673.41" class="lg">South Asia</text>
<use href="#s16" x="598.3" y="676.85" color="#6A5CC4"/>
<text x="604.0" y="678.90" class="lg">Southeast Asia</text>
<use href="#s17" x="598.3" y="682.34" color="#BE2A7A"/>
<text x="604.0" y="684.39" class="lg">East Asia</text>
<use href="#s18" x="598.3" y="687.83" color="#878787"/>
<text x="604.0" y="689.88" class="lg">Oceania</text>
<use href="#s19" x="598.3" y="693.32" color="#D04A30"/>
<text x="604.0" y="695.37" class="lg">Western Sub–Saharan Africa</text>
<use href="#s20" x="598.3" y="698.81" color="#1C7CCC"/>
<text x="604.0" y="700.86" class="lg">Eastern Sub–Saharan Africa</text>
<use href="#s21" x="598.3" y="704.30" color="#F0AA70"/>
<text x="604.0" y="706.35" class="lg">Central Sub–Saharan Africa</text>
<use href="#s22" x="598.3" y="709.79" color="#4EAE82"/>
<text x="604.0" y="711.84" class="lg">Southern Sub–Saharan Africa</text>
<g color="#D21E4A"><use href="#s15" x="169.8" y="1142.0"/><use href="#s15" x="174.4" y="1142.3"/><use href="#s15" x="178.8" y="1140.7"/><use href="#s15" x="183.2" y="1139.9"/><use href="#s15" x="187.4" y="1138.3"/><use href="#s15" x="191.8" y="1134.5"/><use href="#s15" x="196.2" y="1135.0"/><use href="#s15" x="200.7" y="1136.6"/><use href="#s15" x="205.6" y="1136.2"/><use href="#s15" x="210.5" y="1139.9"/><use href="#s15" x="214.6" y="1141.5"/><use href="#s15" x="218.7" y="1139.9"/><use href="#s15" x="222.7" y="1139.1"/><use href="#s15" x="226.8" y="1136.2"/><use href="#s15" x="231.4" y="1134.5"/><use href="#s15" x="236.6" y="1136.2"/><use href="#s15" x="241.5" y="1135.0"/><use href="#s15" x="247.2" y="1131.3"/><use href="#s15" x="252.4" y="1129.6"/><use href="#s15" x="258.1" y="1131.8"/><use href="#s15" x="264.6" y="1131.4"/><use href="#s15" x="271.1" y="1130.5"/><use href="#s15" x="278.1" y="1129.6"/><use href="#s15" x="285.1" y="1127.2"/><use href="#s15" x="292.4" y="1123.6"/><use href="#s15" x="292.4" y="1123.4"/><use href="#s15" x="300.1" y="1125.4"/><use href="#s15" x="307.1" y="1126.2"/><use href="#s15" x="314.4" y="1126.2"/><use href="#s15" x="320.9" y="1125.0"/><use href="#s15" x="327.5" y="1125.0"/><use href="#s15" x="332.7" y="1127.0"/><use href="#s15" x="337.6" y="1128.6"/></g>
<g color="#878787"><use href="#s18" x="219.5" y="1161.6"/><use href="#s18" x="222.2" y="1161.1"/><use href="#s18" x="225.2" y="1161.6"/><use href="#s18" x="228.1" y="1161.9"/><use href="#s18" x="230.9" y="1162.2"/><use href="#s18" x="233.3" y="1162.7"/><use href="#s18" x="235.8" y="1161.9"/><use href="#s18" x="238.2" y="1162.2"/><use href="#s18" x="240.7" y="1161.9"/><use href="#s18" x="243.1" y="1161.6"/><use href="#s18" x="245.5" y="1161.9"/><use href="#s18" x="247.2" y="1162.5"/><use href="#s18" x="248.8" y="1163.5"/><use href="#s18" x="250.4" y="1163.8"/><use href="#s18" x="252.1" y="1162.9"/><use href="#s18" x="254.5" y="1160.3"/><use href="#s18" x="256.1" y="1158.0"/><use href="#s18" x="257.8" y="1157.3"/><use href="#s18" x="260.2" y="1157.0"/><use href="#s18" x="262.6" y="1156.2"/><use href="#s18" x="264.6" y="1157.0"/><use href="#s18" x="266.7" y="1155.9"/><use href="#s18" x="269.2" y="1154.6"/><use href="#s18" x="271.1" y="1153.4"/><use href="#s18" x="272.4" y="1152.4"/><use href="#s18" x="273.7" y="1151.8"/></g>
<g color="#1C7CCC"><use href="#s20" x="108.7" y="1233.9"/><use href="#s20" x="109.0" y="1233.9"/><use href="#s20" x="109.7" y="1233.9"/><use href="#s20" x="110.8" y="1234.0"/><use href="#s20" x="112.2" y="1234.1"/><use href="#s20" x="114.0" y="1234.2"/><use href="#s20" x="116.0" y="1234.4"/><use href="#s20" x="118.4" y="1234.5"/><use href="#s20" x="121.0" y="1234.6"/><use href="#s20" x="123.9" y="1234.8"/><use href="#s20" x="127.0" y="1234.9"/><use href="#s20" x="130.5" y="1235.0"/><use href="#s20" x="134.2" y="1235.1"/><use href="#s20" x="138.1" y="1235.2"/><use href="#s20" x="142.3" y="1235.2"/><use href="#s20" x="146.7" y="1235.3"/><use href="#s20" x="151.4" y="1235.3"/><use href="#s20" x="156.4" y="1235.4"/><use href="#s20" x="161.5" y="1235.4"/><use href="#s20" x="166.9" y="1235.5"/><use href="#s20" x="172.5" y="1235.5"/><use href="#s20" x="178.4" y="1235.6"/><use href="#s20" x="184.5" y="1235.6"/><use href="#s20" x="190.8" y="1235.7"/><use href="#s20" x="197.3" y="1235.7"/><use href="#s20" x="204.1" y="1235.8"/><use href="#s20" x="211.1" y="1235.8"/><use href="#s20" x="218.3" y="1235.9"/><use href="#s20" x="225.7" y="1235.9"/><use href="#s20" x="233.3" y="1236.0"/></g>
<g color="#D04A30"><use href="#s19" x="137.2" y="1211.6"/><use href="#s19" x="138.0" y="1211.8"/><use href="#s19" x="139.4" y="1212.3"/><use href="#s19" x="141.1" y="1212.8"/><use href="#s19" x="143.3" y="1213.5"/><use href="#s19" x="145.6" y="1214.3"/><use href="#s19" x="148.3" y="1215.2"/><use href="#s19" x="151.2" y="1216.1"/><use href="#s19" x="154.3" y="1217.0"/><use href="#s19" x="157.6" y="1218.0"/><use href="#s19" x="161.1" y="1219.0"/><use href="#s19" x="164.9" y="1220.0"/><use href="#s19" x="168.8" y="1220.9"/><use href="#s19" x="172.9" y="1221.5"/><use href="#s19" x="177.3" y="1222.0"/><use href="#s19" x="181.8" y="1222.4"/><use href="#s19" x="186.4" y="1222.7"/><use href="#s19" x="191.3" y="1222.9"/><use href="#s19" x="196.2" y="1223.0"/><use href="#s19" x="201.3" y="1222.7"/><use href="#s19" x="206.6" y="1222.4"/><use href="#s19" x="211.9" y="1222.0"/><use href="#s19" x="217.5" y="1221.8"/><use href="#s19" x="223.1" y="1221.9"/><use href="#s19" x="228.8" y="1222.0"/><use href="#s19" x="234.7" y="1222.3"/><use href="#s19" x="240.7" y="1222.5"/><use href="#s19" x="246.8" y="1222.8"/><use href="#s19" x="253.0" y="1223.1"/><use href="#s19" x="259.4" y="1223.5"/></g>
<g color="#F0AA70"><use href="#s21" x="156.8" y="1221.3"/><use href="#s21" x="158.3" y="1221.5"/><use href="#s21" x="160.5" y="1221.7"/><use href="#s21" x="163.1" y="1222.0"/><use href="#s21" x="165.9" y="1222.3"/><use href="#s21" x="169.0" y="1222.6"/><use href="#s21" x="172.3" y="1222.9"/><use href="#s21" x="175.7" y="1223.2"/><use href="#s21" x="179.3" y="1223.4"/><use href="#s21" x="183.1" y="1223.6"/><use href="#s21" x="186.9" y="1223.8"/><use href="#s21" x="190.9" y="1223.9"/><use href="#s21" x="195.0" y="1223.8"/><use href="#s21" x="199.2" y="1223.7"/><use href="#s21" x="203.5" y="1223.4"/><use href="#s21" x="207.9" y="1223.0"/><use href="#s21" x="212.4" y="1222.7"/><use href="#s21" x="216.9" y="1222.4"/><use href="#s21" x="221.6" y="1222.1"/><use href="#s21" x="226.3" y="1221.8"/><use href="#s21" x="231.1" y="1221.6"/><use href="#s21" x="236.0" y="1221.3"/><use href="#s21" x="240.9" y="1221.1"/><use href="#s21" x="245.9" y="1220.8"/><use href="#s21" x="251.0" y="1220.5"/><use href="#s21" x="256.1" y="1220.3"/><use href="#s21" x="261.3" y="1220.0"/><use href="#s21" x="266.6" y="1219.8"/><use href="#s21" x="271.9" y="1219.5"/><use href="#s21" x="277.3" y="1219.2"/></g>
<g color="#158E8E"><use href="#s14" x="252.1" y="1247.4"/><use href="#s14" x="257.5" y="1247.3"/><use href="#s14" x="263.0" y="1247.2"/><use href="#s14" x="268.4" y="1247.1"/><use href="#s14" x="273.9" y="1247.1"/><use href="#s14" x="279.4" y="1247.0"/><use href="#s14" x="284.8" y="1246.9"/><use href="#s14" x="290.3" y="1246.8"/><use href="#s14" x="295.7" y="1246.7"/><use href="#s14" x="301.2" y="1246.6"/><use href="#s14" x="306.7" y="1246.5"/><use href="#s14" x="312.1" y="1246.4"/><use href="#s14" x="317.6" y="1246.3"/><use href="#s14" x="323.0" y="1246.2"/><use href="#s14" x="328.5" y="1246.1"/><use href="#s14" x="334.0" y="1246.0"/><use href="#s14" x="339.4" y="1245.8"/><use href="#s14" x="344.9" y="1245.5"/><use href="#s14" x="347.3" y="1243.8"/><use href="#s14" x="352.7" y="1243.3"/><use href="#s14" x="358.2" y="1243.0"/><use href="#s14" x="363.6" y="1242.7"/><use href="#s14" x="369.1" y="1242.5"/><use href="#s14" x="374.5" y="1242.3"/><use href="#s14" x="380.0" y="1242.1"/><use href="#s14" x="385.4" y="1241.9"/><use href="#s14" x="390.9" y="1241.6"/><use href="#s14" x="396.3" y="1241.4"/><use href="#s14" x="401.8" y="1241.2"/><use href="#s14" x="407.3" y="1241.0"/></g>
<g color="#8FD2C0"><use href="#s7" x="295.2" y="1231.1"/><use href="#s7" x="299.0" y="1229.8"/><use href="#s7" x="302.8" y="1228.5"/><use href="#s7" x="306.6" y="1227.1"/><use href="#s7" x="310.1" y="1225.2"/><use href="#s7" x="310.6" y="1221.4"/><use href="#s7" x="312.6" y="1218.3"/><use href="#s7" x="316.4" y="1217.1"/><use href="#s7" x="320.3" y="1216.3"/><use href="#s7" x="324.3" y="1215.7"/><use href="#s7" x="328.3" y="1215.1"/><use href="#s7" x="332.3" y="1214.5"/><use href="#s7" x="336.2" y="1213.8"/><use href="#s7" x="340.2" y="1213.0"/><use href="#s7" x="344.0" y="1211.7"/><use href="#s7" x="347.8" y="1210.3"/><use href="#s7" x="351.7" y="1209.6"/><use href="#s7" x="355.7" y="1209.2"/><use href="#s7" x="359.7" y="1209.0"/><use href="#s7" x="363.8" y="1208.9"/><use href="#s7" x="367.8" y="1208.8"/><use href="#s7" x="371.8" y="1208.7"/><use href="#s7" x="375.8" y="1208.6"/><use href="#s7" x="379.9" y="1208.6"/><use href="#s7" x="383.9" y="1208.6"/><use href="#s7" x="387.9" y="1208.5"/><use href="#s7" x="391.9" y="1208.5"/><use href="#s7" x="396.0" y="1208.5"/><use href="#s7" x="400.0" y="1208.5"/><use href="#s7" x="404.0" y="1208.4"/></g>
<g color="#BE2A7A"><use href="#s17" x="275.7" y="1253.6"/><use href="#s17" x="281.8" y="1254.0"/><use href="#s17" x="288.0" y="1254.0"/><use href="#s17" x="294.2" y="1254.0"/><use href="#s17" x="300.4" y="1254.0"/><use href="#s17" x="306.6" y="1254.0"/><use href="#s17" x="312.8" y="1253.9"/><use href="#s17" x="319.0" y="1253.8"/><use href="#s17" x="325.2" y="1253.7"/><use href="#s17" x="331.4" y="1253.7"/><use href="#s17" x="337.6" y="1253.6"/><use href="#s17" x="343.8" y="1253.5"/><use href="#s17" x="350.0" y="1253.5"/><use href="#s17" x="356.2" y="1253.4"/><use href="#s17" x="362.4" y="1253.3"/><use href="#s17" x="368.6" y="1253.3"/><use href="#s17" x="374.8" y="1253.2"/><use href="#s17" x="381.0" y="1253.2"/><use href="#s17" x="387.2" y="1253.2"/><use href="#s17" x="393.4" y="1253.2"/><use href="#s17" x="399.6" y="1253.2"/><use href="#s17" x="405.8" y="1253.3"/><use href="#s17" x="412.0" y="1253.4"/><use href="#s17" x="418.2" y="1253.6"/><use href="#s17" x="424.4" y="1253.9"/><use href="#s17" x="430.6" y="1254.2"/><use href="#s17" x="436.8" y="1254.5"/><use href="#s17" x="442.9" y="1254.9"/><use href="#s17" x="449.1" y="1255.3"/><use href="#s17" x="455.3" y="1255.7"/></g>
<g color="#6A5CC4"><use href="#s16" x="270.8" y="1260.7"/><use href="#s16" x="275.3" y="1260.7"/><use href="#s16" x="279.9" y="1260.7"/><use href="#s16" x="284.4" y="1260.7"/><use href="#s16" x="288.9" y="1260.6"/><use href="#s16" x="293.5" y="1260.6"/><use href="#s16" x="298.0" y="1260.5"/><use href="#s16" x="302.5" y="1260.4"/><use href="#s16" x="307.1" y="1260.4"/><use href="#s16" x="311.6" y="1260.3"/><use href="#s16" x="316.2" y="1260.3"/><use href="#s16" x="320.7" y="1260.2"/><use href="#s16" x="325.2" y="1260.2"/><use href="#s16" x="329.8" y="1260.1"/><use href="#s16" x="334.3" y="1260.1"/><use href="#s16" x="338.8" y="1260.0"/><use href="#s16" x="343.4" y="1260.0"/><use href="#s16" x="347.9" y="1259.9"/><use href="#s16" x="352.5" y="1259.9"/><use href="#s16" x="357.0" y="1259.8"/><use href="#s16" x="361.5" y="1259.7"/><use href="#s16" x="366.1" y="1259.7"/><use href="#s16" x="370.6" y="1259.6"/><use href="#s16" x="375.2" y="1259.6"/><use href="#s16" x="379.7" y="1259.5"/><use href="#s16" x="384.2" y="1259.5"/><use href="#s16" x="388.8" y="1259.4"/><use href="#s16" x="393.3" y="1259.4"/><use href="#s16" x="397.8" y="1259.3"/><use href="#s16" x="402.4" y="1259.3"/></g>
<g color="#5E58B4"><use href="#s10" x="308.7" y="1244.3"/><use href="#s10" x="312.0" y="1243.2"/><use href="#s10" x="315.2" y="1242.1"/><use href="#s10" x="318.5" y="1241.0"/><use href="#s10" x="321.7" y="1240.0"/><use href="#s10" x="325.0" y="1239.0"/><use href="#s10" x="328.3" y="1238.2"/><use href="#s10" x="331.7" y="1237.6"/><use href="#s10" x="335.1" y="1237.4"/><use href="#s10" x="338.5" y="1237.5"/><use href="#s10" x="341.9" y="1237.7"/><use href="#s10" x="345.4" y="1237.9"/><use href="#s10" x="348.8" y="1237.9"/><use href="#s10" x="352.1" y="1237.1"/><use href="#s10" x="353.6" y="1234.1"/><use href="#s10" x="356.4" y="1232.2"/><use href="#s10" x="359.6" y="1230.8"/><use href="#s10" x="362.7" y="1229.6"/><use href="#s10" x="365.9" y="1228.3"/><use href="#s10" x="369.2" y="1227.2"/><use href="#s10" x="372.4" y="1226.0"/><use href="#s10" x="375.6" y="1224.9"/><use href="#s10" x="379.0" y="1224.2"/><use href="#s10" x="382.4" y="1223.8"/><use href="#s10" x="385.8" y="1223.6"/><use href="#s10" x="389.2" y="1223.6"/><use href="#s10" x="392.6" y="1223.7"/><use href="#s10" x="396.0" y="1223.9"/><use href="#s10" x="399.3" y="1224.8"/><use href="#s10" x="402.4" y="1226.4"/></g>
<g color="#4EAE82"><use href="#s22" x="299.8" y="1197.9"/><use href="#s22" x="303.2" y="1197.4"/><use href="#s22" x="306.7" y="1196.9"/><use href="#s22" x="310.2" y="1196.3"/><use href="#s22" x="313.6" y="1195.6"/><use href="#s22" x="317.0" y="1194.6"/><use href="#s22" x="320.2" y="1193.3"/><use href="#s22" x="323.4" y="1191.8"/><use href="#s22" x="326.7" y="1190.5"/><use href="#s22" x="330.0" y="1189.3"/><use href="#s22" x="333.4" y="1188.3"/><use href="#s22" x="336.8" y="1187.4"/><use href="#s22" x="340.2" y="1186.6"/><use href="#s22" x="343.6" y="1185.7"/><use href="#s22" x="347.0" y="1185.0"/><use href="#s22" x="350.5" y="1184.8"/><use href="#s22" x="354.0" y="1185.4"/><use href="#s22" x="357.2" y="1186.7"/><use href="#s22" x="360.4" y="1188.3"/><use href="#s22" x="363.2" y="1190.3"/><use href="#s22" x="365.9" y="1192.6"/><use href="#s22" x="368.6" y="1194.7"/><use href="#s22" x="371.8" y="1196.3"/><use href="#s22" x="375.2" y="1197.3"/><use href="#s22" x="378.6" y="1198.1"/><use href="#s22" x="382.0" y="1198.8"/><use href="#s22" x="385.5" y="1199.5"/><use href="#s22" x="388.9" y="1200.0"/><use href="#s22" x="392.4" y="1200.6"/><use href="#s22" x="395.9" y="1201.1"/></g>
<g color="#E2253D"><use href="#s8" x="285.4" y="1216.4"/><use href="#s8" x="289.5" y="1214.8"/><use href="#s8" x="293.5" y="1213.1"/><use href="#s8" x="297.5" y="1211.4"/><use href="#s8" x="301.5" y="1209.7"/><use href="#s8" x="305.5" y="1207.9"/><use href="#s8" x="309.5" y="1206.1"/><use href="#s8" x="310.1" y="1203.5"/><use href="#s8" x="314.0" y="1201.6"/><use href="#s8" x="318.2" y="1200.3"/><use href="#s8" x="322.3" y="1198.9"/><use href="#s8" x="326.4" y="1197.4"/><use href="#s8" x="330.4" y="1195.6"/><use href="#s8" x="334.1" y="1193.2"/><use href="#s8" x="337.5" y="1190.6"/><use href="#s8" x="340.8" y="1187.7"/><use href="#s8" x="344.1" y="1184.8"/><use href="#s8" x="347.4" y="1182.0"/><use href="#s8" x="350.6" y="1179.1"/><use href="#s8" x="354.0" y="1176.3"/><use href="#s8" x="358.2" y="1175.9"/><use href="#s8" x="362.4" y="1177.1"/><use href="#s8" x="366.8" y="1177.5"/><use href="#s8" x="371.1" y="1177.5"/><use href="#s8" x="375.5" y="1177.2"/><use href="#s8" x="379.8" y="1176.6"/><use href="#s8" x="384.1" y="1175.7"/><use href="#s8" x="388.3" y="1174.6"/><use href="#s8" x="392.5" y="1173.5"/><use href="#s8" x="396.7" y="1172.3"/></g>
<g color="#E8837A"><use href="#s1" x="312.8" y="1214.1"/><use href="#s1" x="316.2" y="1213.2"/><use href="#s1" x="319.7" y="1212.3"/><use href="#s1" x="323.1" y="1211.3"/><use href="#s1" x="326.6" y="1210.4"/><use href="#s1" x="330.0" y="1209.4"/><use href="#s1" x="333.5" y="1208.4"/><use href="#s1" x="336.9" y="1207.4"/><use href="#s1" x="340.3" y="1206.3"/><use href="#s1" x="343.6" y="1205.0"/><use href="#s1" x="346.9" y="1203.6"/><use href="#s1" x="350.2" y="1202.1"/><use href="#s1" x="353.5" y="1200.8"/><use href="#s1" x="356.9" y="1199.9"/><use href="#s1" x="360.4" y="1199.2"/><use href="#s1" x="364.0" y="1198.7"/><use href="#s1" x="367.5" y="1198.3"/><use href="#s1" x="371.1" y="1197.9"/><use href="#s1" x="374.6" y="1197.3"/><use href="#s1" x="378.1" y="1196.7"/><use href="#s1" x="381.7" y="1196.2"/><use href="#s1" x="385.2" y="1195.8"/><use href="#s1" x="388.8" y="1195.7"/><use href="#s1" x="392.4" y="1195.7"/><use href="#s1" x="395.9" y="1195.8"/><use href="#s1" x="399.5" y="1196.0"/><use href="#s1" x="403.1" y="1196.2"/><use href="#s1" x="406.6" y="1196.3"/><use href="#s1" x="410.2" y="1196.5"/><use href="#s1" x="413.8" y="1196.7"/></g>
<g color="#7E2FA0"><use href="#s13" x="334.0" y="1209.3"/><use href="#s13" x="337.2" y="1206.9"/><use href="#s13" x="340.5" y="1204.9"/><use href="#s13" x="344.2" y="1205.2"/><use href="#s13" x="346.7" y="1208.2"/><use href="#s13" x="348.9" y="1211.5"/><use href="#s13" x="351.8" y="1214.1"/><use href="#s13" x="355.5" y="1215.4"/><use href="#s13" x="359.3" y="1216.4"/><use href="#s13" x="363.1" y="1217.4"/><use href="#s13" x="366.9" y="1218.5"/><use href="#s13" x="370.2" y="1220.6"/><use href="#s13" x="371.6" y="1224.2"/><use href="#s13" x="373.4" y="1227.7"/><use href="#s13" x="375.4" y="1231.1"/><use href="#s13" x="378.4" y="1233.7"/><use href="#s13" x="382.1" y="1235.2"/><use href="#s13" x="386.0" y="1235.1"/><use href="#s13" x="389.7" y="1233.8"/><use href="#s13" x="393.3" y="1232.1"/><use href="#s13" x="396.5" y="1229.9"/><use href="#s13" x="399.3" y="1227.0"/><use href="#s13" x="401.7" y="1223.9"/><use href="#s13" x="404.5" y="1221.2"/><use href="#s13" x="407.3" y="1223.2"/><use href="#s13" x="408.5" y="1226.9"/><use href="#s13" x="410.0" y="1230.6"/><use href="#s13" x="413.1" y="1233.0"/><use href="#s13" x="416.6" y="1234.6"/><use href="#s13" x="420.3" y="1236.1"/></g>
<g color="#E03A48"><use href="#s11" x="392.6" y="1223.1"/><use href="#s11" x="395.6" y="1225.8"/><use href="#s11" x="398.6" y="1228.5"/><use href="#s11" x="402.1" y="1230.5"/><use href="#s11" x="406.0" y="1231.8"/><use href="#s11" x="409.9" y="1232.6"/><use href="#s11" x="413.9" y="1233.1"/><use href="#s11" x="417.9" y="1233.6"/><use href="#s11" x="422.0" y="1234.0"/><use href="#s11" x="426.0" y="1234.3"/><use href="#s11" x="430.0" y="1234.6"/><use href="#s11" x="434.1" y="1234.9"/><use href="#s11" x="438.1" y="1235.1"/><use href="#s11" x="442.1" y="1235.3"/><use href="#s11" x="446.2" y="1235.4"/><use href="#s11" x="450.2" y="1235.4"/><use href="#s11" x="454.3" y="1235.3"/><use href="#s11" x="458.3" y="1235.0"/><use href="#s11" x="462.3" y="1234.6"/><use href="#s11" x="466.3" y="1234.1"/><use href="#s11" x="470.4" y="1233.6"/><use href="#s11" x="474.4" y="1233.2"/><use href="#s11" x="478.4" y="1232.8"/><use href="#s11" x="482.4" y="1232.4"/><use href="#s11" x="486.5" y="1232.1"/><use href="#s11" x="490.5" y="1231.7"/><use href="#s11" x="494.5" y="1231.4"/><use href="#s11" x="498.6" y="1231.1"/><use href="#s11" x="502.6" y="1230.8"/><use href="#s11" x="506.6" y="1230.4"/></g>
<g color="#38A868"><use href="#s12" x="412.1" y="1226.4"/><use href="#s12" x="416.1" y="1226.2"/><use href="#s12" x="420.1" y="1225.9"/><use href="#s12" x="423.9" y="1224.7"/><use href="#s12" x="427.2" y="1222.5"/><use href="#s12" x="430.8" y="1223.4"/><use href="#s12" x="433.4" y="1226.5"/><use href="#s12" x="435.3" y="1229.9"/><use href="#s12" x="436.8" y="1233.6"/><use href="#s12" x="437.8" y="1237.4"/><use href="#s12" x="439.4" y="1241.1"/><use href="#s12" x="441.6" y="1244.4"/><use href="#s12" x="444.5" y="1247.1"/><use href="#s12" x="447.8" y="1249.2"/><use href="#s12" x="451.3" y="1251.1"/><use href="#s12" x="454.9" y="1252.8"/><use href="#s12" x="458.7" y="1254.1"/><use href="#s12" x="462.5" y="1255.1"/><use href="#s12" x="466.4" y="1256.0"/><use href="#s12" x="470.3" y="1256.7"/><use href="#s12" x="474.3" y="1257.3"/><use href="#s12" x="478.2" y="1257.8"/><use href="#s12" x="482.2" y="1258.1"/><use href="#s12" x="486.1" y="1258.1"/><use href="#s12" x="490.1" y="1257.8"/><use href="#s12" x="494.1" y="1257.5"/><use href="#s12" x="498.0" y="1257.1"/><use href="#s12" x="502.0" y="1256.6"/><use href="#s12" x="505.9" y="1256.1"/><use href="#s12" x="509.9" y="1255.7"/></g>
<g color="#9C8670"><use href="#s9" x="361.7" y="1174.2"/><use href="#s9" x="365.7" y="1171.0"/><use href="#s9" x="369.8" y="1169.0"/><use href="#s9" x="373.9" y="1164.5"/><use href="#s9" x="377.1" y="1157.1"/><use href="#s9" x="381.2" y="1154.7"/><use href="#s9" x="384.8" y="1154.7"/><use href="#s9" x="388.5" y="1151.1"/><use href="#s9" x="392.6" y="1145.2"/><use href="#s9" x="396.2" y="1135.5"/><use href="#s9" x="399.9" y="1127.8"/><use href="#s9" x="402.4" y="1126.2"/><use href="#s9" x="405.6" y="1124.6"/><use href="#s9" x="408.9" y="1124.6"/><use href="#s9" x="412.1" y="1124.6"/><use href="#s9" x="414.6" y="1114.8"/><use href="#s9" x="417.0" y="1111.5"/><use href="#s9" x="419.5" y="1105.5"/><use href="#s9" x="422.7" y="1100.9"/><use href="#s9" x="426.8" y="1100.6"/><use href="#s9" x="429.3" y="1106.2"/><use href="#s9" x="431.7" y="1113.2"/><use href="#s9" x="435.0" y="1113.6"/><use href="#s9" x="439.8" y="1110.7"/><use href="#s9" x="445.5" y="1105.5"/><use href="#s9" x="450.4" y="1100.9"/><use href="#s9" x="455.3" y="1101.8"/><use href="#s9" x="460.2" y="1102.2"/><use href="#s9" x="461.3" y="1109.4"/><use href="#s9" x="463.5" y="1114.8"/></g>
<g color="#8E96CC"><use href="#s6" x="296.5" y="1018.2"/><use href="#s6" x="297.6" y="1030.3"/><use href="#s6" x="299.3" y="1023.9"/><use href="#s6" x="301.4" y="1024.8"/><use href="#s6" x="304.1" y="1026.4"/><use href="#s6" x="307.3" y="1027.4"/><use href="#s6" x="310.3" y="1035.4"/><use href="#s6" x="313.3" y="1026.4"/><use href="#s6" x="316.5" y="1023.4"/><use href="#s6" x="320.0" y="1027.1"/><use href="#s6" x="323.0" y="1023.4"/><use href="#s6" x="326.9" y="1020.2"/><use href="#s6" x="330.6" y="1008.5"/><use href="#s6" x="334.2" y="1001.9"/><use href="#s6" x="337.9" y="998.4"/><use href="#s6" x="341.3" y="992.2"/><use href="#s6" x="344.5" y="988.1"/><use href="#s6" x="348.2" y="986.7"/><use href="#s6" x="351.9" y="975.4"/><use href="#s6" x="355.8" y="958.2"/><use href="#s6" x="360.2" y="945.8"/><use href="#s6" x="365.0" y="939.6"/><use href="#s6" x="369.8" y="934.4"/><use href="#s6" x="374.7" y="938.6"/><use href="#s6" x="378.9" y="944.0"/><use href="#s6" x="383.1" y="944.0"/><use href="#s6" x="387.1" y="938.5"/><use href="#s6" x="390.7" y="923.5"/><use href="#s6" x="394.4" y="921.7"/><use href="#s6" x="398.1" y="906.5"/><use href="#s6" x="400.8" y="926.9"/><use href="#s6" x="403.6" y="935.7"/></g>
<g color="#F0AC98"><use href="#s5" x="457.8" y="1232.8"/><use href="#s5" x="461.8" y="1230.8"/><use href="#s5" x="465.7" y="1228.8"/><use href="#s5" x="469.7" y="1226.8"/><use href="#s5" x="473.5" y="1224.5"/><use href="#s5" x="477.0" y="1221.8"/><use href="#s5" x="479.2" y="1218.1"/><use href="#s5" x="479.9" y="1213.7"/><use href="#s5" x="480.3" y="1209.3"/><use href="#s5" x="482.0" y="1205.2"/><use href="#s5" x="484.8" y="1201.9"/><use href="#s5" x="487.5" y="1198.3"/><use href="#s5" x="489.5" y="1194.4"/><use href="#s5" x="491.6" y="1190.5"/><use href="#s5" x="495.1" y="1188.8"/><use href="#s5" x="498.3" y="1191.9"/><use href="#s5" x="501.7" y="1194.4"/><use href="#s5" x="503.2" y="1190.4"/><use href="#s5" x="503.8" y="1186.0"/><use href="#s5" x="505.0" y="1181.8"/><use href="#s5" x="507.2" y="1177.9"/><use href="#s5" x="510.3" y="1174.8"/><use href="#s5" x="513.9" y="1172.2"/><use href="#s5" x="517.7" y="1169.9"/><use href="#s5" x="521.6" y="1167.8"/><use href="#s5" x="525.8" y="1166.4"/><use href="#s5" x="529.4" y="1168.5"/><use href="#s5" x="533.2" y="1170.8"/><use href="#s5" x="536.7" y="1173.6"/><use href="#s5" x="539.5" y="1177.0"/></g>
<g color="#3F4F98"><use href="#s4" x="469.2" y="1228.8"/><use href="#s4" x="472.4" y="1228.2"/><use href="#s4" x="475.7" y="1227.7"/><use href="#s4" x="479.0" y="1227.2"/><use href="#s4" x="482.2" y="1226.6"/><use href="#s4" x="485.5" y="1226.0"/><use href="#s4" x="488.7" y="1225.1"/><use href="#s4" x="491.8" y="1224.0"/><use href="#s4" x="494.7" y="1222.3"/><use href="#s4" x="497.0" y="1220.0"/><use href="#s4" x="498.9" y="1217.3"/><use href="#s4" x="500.5" y="1214.4"/><use href="#s4" x="501.9" y="1211.4"/><use href="#s4" x="503.2" y="1208.3"/><use href="#s4" x="504.7" y="1205.3"/><use href="#s4" x="505.3" y="1202.1"/><use href="#s4" x="506.5" y="1199.0"/><use href="#s4" x="508.2" y="1196.1"/><use href="#s4" x="510.4" y="1193.7"/><use href="#s4" x="512.9" y="1191.5"/><use href="#s4" x="515.5" y="1189.5"/><use href="#s4" x="518.2" y="1187.5"/><use href="#s4" x="520.8" y="1185.5"/><use href="#s4" x="523.6" y="1183.7"/><use href="#s4" x="526.7" y="1182.4"/><use href="#s4" x="529.7" y="1181.0"/><use href="#s4" x="532.7" y="1179.6"/><use href="#s4" x="535.9" y="1179.0"/><use href="#s4" x="538.9" y="1180.5"/><use href="#s4" x="541.5" y="1182.5"/></g>
<g color="#4CC4CC"><use href="#s2" x="484.0" y="1167.7"/><use href="#s2" x="486.9" y="1165.6"/><use href="#s2" x="489.7" y="1163.6"/><use href="#s2" x="492.5" y="1161.5"/><use href="#s2" x="495.4" y="1159.5"/><use href="#s2" x="498.2" y="1157.5"/><use href="#s2" x="501.0" y="1155.4"/><use href="#s2" x="502.6" y="1145.0"/><use href="#s2" x="505.5" y="1143.8"/><use href="#s2" x="508.4" y="1142.7"/><use href="#s2" x="511.3" y="1141.5"/><use href="#s2" x="514.3" y="1140.3"/><use href="#s2" x="516.5" y="1137.5"/><use href="#s2" x="521.2" y="1137.2"/><use href="#s2" x="524.7" y="1137.0"/><use href="#s2" x="527.8" y="1136.8"/><use href="#s2" x="530.7" y="1136.6"/><use href="#s2" x="533.4" y="1136.4"/><use href="#s2" x="536.1" y="1136.1"/><use href="#s2" x="538.6" y="1135.9"/><use href="#s2" x="541.1" y="1135.7"/><use href="#s2" x="543.6" y="1135.5"/><use href="#s2" x="545.9" y="1135.4"/><use href="#s2" x="548.3" y="1135.2"/><use href="#s2" x="550.6" y="1135.1"/><use href="#s2" x="552.8" y="1135.0"/><use href="#s2" x="555.0" y="1134.9"/><use href="#s2" x="557.2" y="1134.8"/><use href="#s2" x="559.4" y="1134.7"/><use href="#s2" x="561.5" y="1134.6"/></g>
<g color="#33B894"><use href="#s3" x="483.1" y="1174.3"/><use href="#s3" x="485.7" y="1171.5"/><use href="#s3" x="488.2" y="1168.6"/><use href="#s3" x="490.8" y="1165.8"/><use href="#s3" x="493.4" y="1163.0"/><use href="#s3" x="495.9" y="1160.1"/><use href="#s3" x="498.5" y="1157.3"/><use href="#s3" x="501.0" y="1154.5"/><use href="#s3" x="503.3" y="1135.9"/><use href="#s3" x="507.1" y="1134.3"/><use href="#s3" x="510.9" y="1132.7"/><use href="#s3" x="513.3" y="1128.0"/><use href="#s3" x="517.4" y="1128.0"/><use href="#s3" x="520.3" y="1128.1"/><use href="#s3" x="523.0" y="1128.1"/><use href="#s3" x="525.5" y="1128.1"/><use href="#s3" x="527.9" y="1128.1"/><use href="#s3" x="530.2" y="1128.1"/><use href="#s3" x="532.4" y="1128.0"/><use href="#s3" x="534.6" y="1128.0"/><use href="#s3" x="536.7" y="1127.9"/><use href="#s3" x="538.7" y="1127.9"/><use href="#s3" x="540.7" y="1127.8"/><use href="#s3" x="542.7" y="1127.7"/><use href="#s3" x="544.6" y="1127.6"/><use href="#s3" x="546.6" y="1127.6"/><use href="#s3" x="548.4" y="1127.5"/><use href="#s3" x="550.3" y="1127.4"/><use href="#s3" x="552.1" y="1127.3"/><use href="#s3" x="553.9" y="1127.3"/></g>
<path d="M109.1,1213.3L110.6,1213.0L112.4,1212.7L114.6,1212.3L117.0,1211.9L119.7,1211.4L122.5,1210.9L125.4,1210.4L128.3,1209.9L131.2,1209.3L134.0,1208.8L136.6,1208.3L139.1,1207.8L141.4,1207.3L143.7,1206.8L145.9,1206.4L148.1,1205.9L150.2,1205.4L152.3,1204.9L154.5,1204.4L156.6,1203.9L158.7,1203.4L160.8,1202.9L162.9,1202.4L165.1,1201.9L167.3,1201.4L169.4,1200.9L171.6,1200.3L173.8,1199.8L176.0,1199.2L178.1,1198.7L180.3,1198.1L182.5,1197.6L184.7,1197.0L186.8,1196.5L189.0,1195.9L191.2,1195.4L193.4,1194.8L195.6,1194.3L197.7,1193.7L199.9,1193.1L202.1,1192.5L204.3,1192.0L206.4,1191.4L208.6,1190.8L210.8,1190.3L213.0,1189.8L215.1,1189.3L217.3,1188.9L219.5,1188.5L221.6,1188.1L223.8,1187.8L226.0,1187.5L228.1,1187.2L230.3,1186.9L232.5,1186.6L234.6,1186.4L236.8,1186.2L239.0,1186.0L241.1,1185.8L243.3,1185.6L245.5,1185.4L247.6,1185.3L249.7,1185.2L251.8,1185.1L253.9,1185.0L256.1,1184.9L258.2,1184.9L260.4,1184.8L262.6,1184.7L264.8,1184.7L267.1,1184.7L269.4,1184.6L271.7,1184.5L274.0,1184.5L276.2,1184.5L278.4,1184.4L280.6,1184.4L282.9,1184.4L285.3,1184.3L287.8,1184.3L290.5,1184.3L293.4,1184.3L296.6,1184.3L300.0,1184.3L303.8,1184.3L308.0,1184.3L312.4,1184.4L317.1,1184.4L322.0,1184.4L327.0,1184.5L332.0,1184.5L337.0,1184.6L341.9,1184.6L346.6,1184.7L351.0,1184.7L355.1,1184.8L358.9,1184.8L362.5,1184.8L365.9,1184.8L369.2,1184.7L372.4,1184.7L375.4,1184.6L378.5,1184.6L381.5,1184.7L384.6,1184.8L387.7,1184.9L390.9,1185.2L394.2,1185.6L397.6,1186.1L401.2,1186.9L404.8,1187.7L408.5,1188.7L412.1,1189.7L415.8,1190.7L419.5,1191.7L423.1,1192.7L426.6,1193.6L430.1,1194.4L433.4,1195.0L436.6,1195.4L439.7,1195.6L442.9,1195.7L446.0,1195.7L449.0,1195.6L452.0,1195.4L454.9,1195.2L457.7,1194.8L460.3,1194.5L462.8,1194.1L465.2,1193.7L467.3,1193.3L469.2,1193.0L470.8,1192.7L472.1,1192.3L473.2,1192.0L474.0,1191.6L474.7,1191.2L475.3,1190.8L475.8,1190.3L476.4,1189.9L477.0,1189.3L477.7,1188.8L478.7,1188.2L479.8,1187.5L481.1,1186.8L482.6,1186.1L484.1,1185.3L485.7,1184.5L487.4,1183.7L489.2,1182.8L490.9,1181.9L492.7,1181.0L494.5,1179.9L496.3,1178.9L498.0,1177.7L499.7,1176.5L501.4,1175.2L503.0,1173.8L504.7,1172.4L506.3,1170.9L508.0,1169.3L509.6,1167.7L511.3,1166.1L513.0,1164.4L514.6,1162.7L516.3,1161.0L517.9,1159.3L519.6,1157.6L521.3,1155.9L523.0,1154.0L524.8,1152.1L526.6,1150.2L528.4,1148.3L530.2,1146.3L531.9,1144.4L533.6,1142.5L535.2,1140.7L536.8,1138.9L538.2,1137.3L539.5,1135.7L540.7,1134.3L541.7,1133.0L542.6,1131.8L543.5,1130.7L544.2,1129.6L545.0,1128.6L545.7,1127.6L546.4,1126.6L547.1,1125.5L547.8,1124.4L548.6,1123.1L549.5,1121.8L550.5,1120.3L551.6,1118.6L552.7,1116.8L553.9,1114.9L555.1,1112.9L556.3,1111.0L557.5,1109.1L558.6,1107.3L559.6,1105.6L560.5,1104.1L561.3,1102.9L561.9,1101.9L561.9,1144.7L560.8,1145.7L559.4,1147.0L557.8,1148.5L556.0,1150.2L554.0,1152.1L551.9,1154.0L549.8,1156.0L547.6,1158.1L545.4,1160.1L543.3,1162.0L541.4,1163.9L539.5,1165.6L537.8,1167.2L536.0,1168.8L534.3,1170.3L532.7,1171.9L531.0,1173.4L529.4,1174.9L527.8,1176.3L526.1,1177.8L524.5,1179.2L522.9,1180.7L521.3,1182.1L519.6,1183.5L517.9,1184.9L516.3,1186.3L514.6,1187.7L513.0,1189.1L511.3,1190.5L509.6,1191.9L508.0,1193.3L506.3,1194.6L504.7,1195.8L503.0,1197.1L501.4,1198.3L499.7,1199.4L498.0,1200.5L496.3,1201.6L494.5,1202.7L492.7,1203.7L490.9,1204.7L489.2,1205.7L487.4,1206.6L485.7,1207.4L484.1,1208.2L482.6,1208.9L481.1,1209.5L479.8,1210.0L478.7,1210.4L477.7,1210.6L477.0,1210.7L476.4,1210.7L475.8,1210.7L475.3,1210.6L474.7,1210.4L474.0,1210.3L473.2,1210.2L472.1,1210.1L470.8,1210.0L469.2,1210.1L467.3,1210.3L465.2,1210.5L462.8,1210.9L460.3,1211.3L457.7,1211.7L454.9,1212.1L452.0,1212.4L449.0,1212.7L446.0,1212.9L442.9,1212.9L439.7,1212.8L436.6,1212.5L433.4,1212.0L430.1,1211.2L426.6,1210.2L423.1,1209.1L419.5,1207.9L415.8,1206.6L412.1,1205.4L408.5,1204.1L404.8,1202.9L401.2,1201.9L397.6,1201.0L394.2,1200.3L390.9,1199.8L387.7,1199.4L384.6,1199.1L381.5,1198.9L378.5,1198.7L375.4,1198.6L372.4,1198.6L369.2,1198.6L365.9,1198.6L362.5,1198.6L358.9,1198.7L355.1,1198.7L351.0,1198.7L346.7,1198.8L342.2,1199.0L337.5,1199.1L332.7,1199.3L327.8,1199.5L323.0,1199.7L318.1,1199.9L313.3,1200.1L308.7,1200.3L304.2,1200.5L300.0,1200.6L295.9,1200.7L291.9,1200.8L287.9,1200.8L284.0,1200.9L280.1,1200.9L276.4,1200.9L272.7,1200.9L269.2,1201.0L265.8,1201.0L262.5,1201.1L259.4,1201.2L256.4,1201.3L253.6,1201.4L251.0,1201.6L248.6,1201.8L246.4,1201.9L244.3,1202.1L242.3,1202.3L240.3,1202.5L238.4,1202.8L236.4,1203.0L234.4,1203.3L232.4,1203.6L230.3,1203.9L228.1,1204.2L225.9,1204.6L223.8,1204.9L221.6,1205.3L219.4,1205.6L217.2,1206.0L215.1,1206.5L212.9,1206.9L210.7,1207.4L208.5,1207.9L206.4,1208.5L204.2,1209.1L202.0,1209.7L199.9,1210.4L197.7,1211.2L195.5,1211.9L193.4,1212.7L191.2,1213.6L189.0,1214.4L186.9,1215.3L184.7,1216.2L182.5,1217.1L180.4,1218.0L178.2,1218.9L176.0,1219.8L173.9,1220.7L171.7,1221.6L169.5,1222.5L167.3,1223.5L165.2,1224.4L163.0,1225.4L160.8,1226.5L158.6,1227.6L156.4,1228.7L154.3,1229.9L152.1,1231.2L149.9,1232.6L147.7,1234.1L145.4,1235.7L143.1,1237.4L140.8,1239.2L138.5,1241.0L136.3,1242.7L134.1,1244.5L132.0,1246.2L129.9,1247.8L128.0,1249.4L126.1,1250.8L124.3,1252.2L122.5,1253.5L120.8,1254.8L119.1,1256.1L117.5,1257.3L116.0,1258.5L114.5,1259.6L113.2,1260.7L111.9,1261.6L110.8,1262.5L109.9,1263.2L109.1,1263.8Z" fill="#999999" fill-opacity="0.4"/>
<path d="M109.1,1238.8L110.6,1238.2L112.4,1237.5L114.6,1236.7L117.0,1235.8L119.7,1234.8L122.5,1233.7L125.4,1232.6L128.3,1231.5L131.2,1230.4L134.0,1229.3L136.6,1228.3L139.1,1227.3L141.4,1226.4L143.7,1225.4L145.9,1224.5L148.1,1223.5L150.2,1222.6L152.3,1221.7L154.5,1220.7L156.6,1219.8L158.7,1218.9L160.8,1218.0L162.9,1217.2L165.1,1216.3L167.3,1215.5L169.4,1214.6L171.6,1213.8L173.8,1213.0L176.0,1212.3L178.1,1211.5L180.3,1210.7L182.5,1210.0L184.7,1209.3L186.8,1208.5L189.0,1207.8L191.2,1207.1L193.4,1206.4L195.6,1205.7L197.7,1205.0L199.9,1204.3L202.1,1203.6L204.3,1202.9L206.4,1202.2L208.6,1201.6L210.8,1201.0L213.0,1200.4L215.1,1199.8L217.3,1199.3L219.5,1198.8L221.6,1198.3L223.8,1197.9L226.0,1197.4L228.1,1197.0L230.3,1196.7L232.5,1196.3L234.6,1196.0L236.8,1195.6L239.0,1195.3L241.1,1195.1L243.3,1194.8L245.5,1194.6L247.6,1194.4L249.7,1194.2L251.8,1194.0L253.9,1193.9L256.1,1193.7L258.2,1193.6L260.4,1193.5L262.6,1193.4L264.8,1193.4L267.1,1193.3L269.4,1193.2L271.7,1193.1L274.0,1193.1L276.2,1193.1L278.4,1193.0L280.6,1193.0L282.9,1193.0L285.3,1193.0L287.8,1193.0L290.5,1193.0L293.4,1192.9L296.6,1192.9L300.0,1192.8L303.8,1192.7L308.0,1192.5L312.6,1192.3L317.4,1192.1L322.4,1191.9L327.4,1191.7L332.5,1191.5L337.5,1191.3L342.3,1191.1L346.9,1190.9L351.2,1190.8L355.1,1190.8L358.6,1190.8L361.9,1190.8L365.0,1190.9L367.9,1190.9L370.7,1191.0L373.3,1191.1L375.8,1191.3L378.3,1191.5L380.7,1191.7L383.0,1191.9L385.3,1192.2L387.7,1192.5L390.0,1192.9L392.2,1193.3L394.4,1193.8L396.4,1194.3L398.4,1194.8L400.4,1195.4L402.3,1196.0L404.3,1196.5L406.2,1197.1L408.1,1197.7L410.1,1198.2L412.1,1198.7L414.1,1199.2L416.1,1199.7L418.0,1200.3L420.0,1200.8L421.9,1201.3L423.8,1201.9L425.8,1202.4L427.8,1202.8L429.9,1203.2L432.0,1203.5L434.3,1203.7L436.6,1203.9L439.1,1203.9L441.8,1203.9L444.7,1203.8L447.7,1203.6L450.7,1203.3L453.8,1203.0L456.8,1202.7L459.7,1202.3L462.4,1202.0L464.9,1201.7L467.2,1201.4L469.2,1201.1L470.8,1200.9L472.1,1200.7L473.2,1200.6L474.0,1200.5L474.7,1200.4L475.3,1200.3L475.8,1200.1L476.4,1199.9L477.0,1199.6L477.7,1199.3L478.7,1198.9L479.8,1198.4L481.1,1197.8L482.6,1197.1L484.1,1196.4L485.7,1195.6L487.4,1194.8L489.2,1193.9L490.9,1193.0L492.7,1192.0L494.5,1190.9L496.3,1189.8L498.0,1188.7L499.7,1187.5L501.4,1186.3L503.0,1184.9L504.7,1183.6L506.3,1182.1L508.0,1180.6L509.6,1179.1L511.3,1177.6L513.0,1176.0L514.6,1174.4L516.3,1172.8L517.9,1171.2L519.6,1169.6L521.3,1168.0L522.9,1166.5L524.5,1164.9L526.1,1163.4L527.8,1161.8L529.4,1160.2L531.0,1158.6L532.7,1156.9L534.3,1155.2L536.0,1153.4L537.8,1151.6L539.5,1149.7L541.4,1147.6L543.3,1145.3L545.4,1142.8L547.6,1140.3L549.8,1137.6L551.9,1135.0L554.0,1132.5L556.0,1130.0L557.8,1127.8L559.4,1125.8L560.8,1124.1L561.9,1122.8" fill="none" stroke="#7896D8" stroke-width="1.5"/>
<use href="#s1" x="598.3" y="1033.90" color="#E8837A"/>
<text x="604.0" y="1035.95" class="lg">Global</text>
<use href="#s2" x="598.3" y="1039.39" color="#4CC4CC"/>
<text x="604.0" y="1041.44" class="lg">High–income Asia Pacific</text>
<use href="#s3" x="598.3" y="1044.88" color="#33B894"/>
<text x="604.0" y="1046.93" class="lg">High–income North America</text>
<use href="#s4" x="598.3" y="1050.37" color="#3F4F98"/>
<text x="604.0" y="1052.42" class="lg">Western Europe</text>
<use href="#s5" x="598.3" y="1055.86" color="#F0AC98"/>
<text x="604.0" y="1057.91" class="lg">Australasia</text>
<use href="#s6" x="598.3" y="1061.35" color="#8E96CC"/>
<text x="604.0" y="1063.40" class="lg">Andean Latin America</text>
<use href="#s7" x="598.3" y="1066.84" color="#8FD2C0"/>
<text x="604.0" y="1068.89" class="lg">Tropical Latin America</text>
<use href="#s8" x="598.3" y="1072.33" color="#E2253D"/>
<text x="604.0" y="1074.38" class="lg">Central Latin America</text>
<use href="#s9" x="598.3" y="1077.82" color="#9C8670"/>
<text x="604.0" y="1079.87" class="lg">Southern Latin America</text>
<use href="#s10" x="598.3" y="1083.31" color="#5E58B4"/>
<text x="604.0" y="1085.36" class="lg">Caribbean</text>
<use href="#s11" x="598.3" y="1088.80" color="#E03A48"/>
<text x="604.0" y="1090.85" class="lg">Central Europe</text>
<use href="#s12" x="598.3" y="1094.29" color="#38A868"/>
<text x="604.0" y="1096.34" class="lg">Eastern Europe</text>
<use href="#s13" x="598.3" y="1099.78" color="#7E2FA0"/>
<text x="604.0" y="1101.83" class="lg">Central Asia</text>
<use href="#s14" x="598.3" y="1105.27" color="#158E8E"/>
<text x="604.0" y="1107.32" class="lg">North Africa and Middle East</text>
<use href="#s15" x="598.3" y="1110.76" color="#D21E4A"/>
<text x="604.0" y="1112.81" class="lg">South Asia</text>
<use href="#s16" x="598.3" y="1116.25" color="#6A5CC4"/>
<text x="604.0" y="1118.30" class="lg">Southeast Asia</text>
<use href="#s17" x="598.3" y="1121.74" color="#BE2A7A"/>
<text x="604.0" y="1123.79" class="lg">East Asia</text>
<use href="#s18" x="598.3" y="1127.23" color="#878787"/>
<text x="604.0" y="1129.28" class="lg">Oceania</text>
<use href="#s19" x="598.3" y="1132.72" color="#D04A30"/>
<text x="604.0" y="1134.77" class="lg">Western Sub–Saharan Africa</text>
<use href="#s20" x="598.3" y="1138.21" color="#1C7CCC"/>
<text x="604.0" y="1140.26" class="lg">Eastern Sub–Saharan Africa</text>
<use href="#s21" x="598.3" y="1143.70" color="#F0AA70"/>
<text x="604.0" y="1145.75" class="lg">Central Sub–Saharan Africa</text>
<use href="#s22" x="598.3" y="1149.19" color="#4EAE82"/>
<text x="604.0" y="1151.24" class="lg">Southern Sub–Saharan Africa</text>
<path d="M982.3,311.9L984.7,312.1L987.8,312.3L991.3,312.7L995.3,313.0L999.6,313.4L1004.2,313.8L1009.0,314.1L1013.9,314.5L1018.9,314.8L1023.7,315.2L1028.5,315.4L1033.0,315.6L1037.4,315.8L1041.9,315.9L1046.4,316.1L1050.9,316.2L1055.5,316.3L1060.1,316.3L1064.7,316.4L1069.3,316.3L1073.9,316.3L1078.5,316.1L1083.1,315.9L1087.7,315.6L1092.3,315.2L1097.0,314.7L1101.8,314.1L1106.6,313.4L1111.4,312.7L1116.2,312.0L1120.9,311.2L1125.5,310.4L1130.0,309.6L1134.3,308.8L1138.5,308.1L1142.4,307.4L1146.0,306.8L1149.4,306.2L1152.5,305.6L1155.4,305.0L1158.2,304.4L1160.9,303.8L1163.6,303.2L1166.3,302.6L1169.2,302.0L1172.2,301.4L1175.4,300.8L1178.9,300.1L1182.7,299.4L1186.7,298.6L1190.9,297.7L1195.3,296.8L1199.8,295.9L1204.3,295.0L1208.8,294.2L1213.3,293.4L1217.7,292.6L1222.0,292.0L1226.1,291.4L1230.0,291.0L1233.7,290.7L1237.3,290.6L1240.8,290.5L1244.2,290.6L1247.5,290.7L1250.8,290.8L1253.9,291.0L1257.0,291.3L1260.1,291.5L1263.1,291.7L1266.1,291.9L1269.0,292.0L1271.8,292.1L1274.5,292.3L1277.0,292.4L1279.4,292.6L1281.8,292.8L1284.1,293.0L1286.5,293.1L1288.9,293.3L1291.5,293.4L1294.1,293.5L1297.0,293.5L1300.0,293.5L1303.3,293.4L1306.7,293.4L1310.3,293.3L1314.1,293.1L1317.9,293.0L1321.8,292.8L1325.8,292.6L1329.7,292.3L1333.6,292.0L1337.5,291.7L1341.3,291.4L1345.0,291.0L1348.6,290.6L1352.3,290.2L1356.0,289.7L1359.7,289.3L1363.4,288.8L1367.0,288.2L1370.6,287.6L1374.1,287.0L1377.5,286.3L1380.8,285.6L1384.0,284.8L1387.0,284.0L1389.9,283.1L1392.7,282.0L1395.4,280.9L1398.1,279.8L1400.6,278.6L1403.1,277.3L1405.4,276.0L1407.7,274.8L1409.9,273.5L1412.0,272.3L1414.0,271.1L1416.0,270.0L1417.8,268.9L1419.5,267.9L1420.9,266.9L1422.3,265.9L1423.6,265.0L1424.8,264.0L1426.0,263.1L1427.3,262.1L1428.6,261.1L1429.9,260.1L1431.4,259.1L1433.0,258.0L1434.8,256.8L1436.8,255.6L1439.0,254.2L1441.3,252.8L1443.6,251.4L1445.9,250.0L1448.2,248.6L1450.3,247.4L1452.3,246.2L1454.0,245.1L1455.5,244.2L1456.7,243.5L1456.7,299.3L1455.8,299.3L1454.7,299.3L1453.5,299.4L1452.1,299.4L1450.6,299.4L1449.0,299.4L1447.2,299.4L1445.3,299.5L1443.3,299.6L1441.1,299.7L1438.8,299.8L1436.4,300.0L1433.8,300.2L1431.0,300.4L1427.9,300.7L1424.8,301.0L1421.4,301.3L1418.0,301.7L1414.5,302.0L1411.0,302.4L1407.5,302.8L1404.0,303.1L1400.6,303.5L1397.3,303.9L1394.0,304.3L1390.8,304.7L1387.5,305.1L1384.3,305.6L1381.0,306.0L1377.8,306.5L1374.5,307.0L1371.2,307.4L1368.0,307.9L1364.7,308.3L1361.5,308.7L1358.2,309.1L1354.9,309.5L1351.7,309.8L1348.4,310.2L1345.2,310.6L1341.9,310.9L1338.6,311.2L1335.4,311.6L1332.1,311.9L1328.9,312.2L1325.6,312.5L1322.4,312.7L1319.1,313.0L1315.8,313.2L1312.6,313.5L1309.3,313.7L1306.0,314.0L1302.7,314.2L1299.4,314.4L1296.1,314.6L1292.9,314.8L1289.6,314.9L1286.4,315.0L1283.2,315.0L1280.0,315.0L1276.9,314.9L1274.0,314.7L1271.2,314.4L1268.5,314.0L1265.8,313.6L1263.1,313.2L1260.2,312.8L1257.3,312.5L1254.1,312.2L1250.7,312.1L1247.0,312.1L1243.0,312.3L1238.6,312.7L1233.8,313.2L1228.7,313.9L1223.3,314.6L1217.7,315.5L1212.1,316.4L1206.3,317.4L1200.6,318.4L1194.9,319.3L1189.4,320.3L1184.0,321.2L1178.9,322.0L1174.0,322.8L1169.0,323.5L1164.1,324.3L1159.3,325.0L1154.5,325.7L1149.8,326.4L1145.2,327.1L1140.7,327.9L1136.4,328.6L1132.2,329.4L1128.1,330.2L1124.2,331.1L1120.6,332.0L1117.3,332.8L1114.2,333.6L1111.4,334.5L1108.6,335.4L1106.0,336.3L1103.3,337.2L1100.5,338.2L1097.7,339.2L1094.6,340.4L1091.3,341.6L1087.7,342.9L1083.8,344.3L1079.6,345.9L1075.2,347.5L1070.7,349.3L1066.0,351.1L1061.2,352.9L1056.4,354.8L1051.6,356.7L1046.8,358.6L1042.1,360.4L1037.5,362.2L1033.0,363.9L1028.5,365.6L1023.7,367.4L1018.9,369.3L1013.9,371.1L1009.0,373.0L1004.2,374.8L999.6,376.6L995.3,378.2L991.3,379.7L987.8,381.0L984.7,382.2L982.3,383.1Z" fill="#999999" fill-opacity="0.36"/>
<g stroke-width="0.5"><line x1="1227.8" y1="106.0" x2="1227.8" y2="107.8" stroke="#D49200"/><line x1="1270.2" y1="186.7" x2="1270.2" y2="188.5" stroke="#6DB100"/><line x1="1414.8" y1="182.8" x2="1414.8" y2="184.6" stroke="#00C19D"/><line x1="1383.6" y1="204.7" x2="1383.6" y2="206.5" stroke="#00BB4C"/><line x1="1408.4" y1="205.1" x2="1408.4" y2="207.1" stroke="#FF6A97"/><line x1="1308.1" y1="210.8" x2="1309.2" y2="212.5" stroke="#00B9E2"/><line x1="1369.4" y1="214.7" x2="1371.9" y2="216.2" stroke="#CC9600"/><line x1="1417.0" y1="215.8" x2="1416.1" y2="218.8" stroke="#BA9E00"/><line x1="1263.5" y1="210.4" x2="1263.5" y2="208.7" stroke="#00BCD6"/><line x1="1361.5" y1="227.1" x2="1374.9" y2="228.8" stroke="#D973FC"/><line x1="1406.2" y1="225.2" x2="1406.2" y2="229.3" stroke="#FF689E"/><line x1="1247.3" y1="227.8" x2="1249.4" y2="236.4" stroke="#6A9AFF"/><line x1="1427.8" y1="234.3" x2="1425.7" y2="235.3" stroke="#AC88FF"/><line x1="1402.9" y1="235.6" x2="1415.0" y2="236.6" stroke="#00C08E"/><line x1="1257.0" y1="237.7" x2="1257.0" y2="249.1" stroke="#00C1A4"/><line x1="1313.0" y1="237.3" x2="1313.0" y2="250.5" stroke="#EF7F48"/><line x1="1234.3" y1="242.1" x2="1235.3" y2="257.0" stroke="#DD8D00"/><line x1="1344.5" y1="243.8" x2="1344.5" y2="257.9" stroke="#F564E3"/><line x1="1366.7" y1="242.9" x2="1366.7" y2="255.3" stroke="#00BBDB"/><line x1="1325.0" y1="248.0" x2="1325.0" y2="289.1" stroke="#9C8DFF"/><line x1="1296.7" y1="248.0" x2="1297.4" y2="260.5" stroke="#9FA700"/><line x1="1383.4" y1="246.7" x2="1383.4" y2="259.9" stroke="#D98F00"/><line x1="1408.0" y1="246.4" x2="1396.2" y2="266.5" stroke="#EC823B"/><line x1="1211.6" y1="252.5" x2="1211.6" y2="264.4" stroke="#00BF7F"/><line x1="1256.5" y1="252.0" x2="1261.9" y2="299.1" stroke="#C77CFF"/><line x1="1350.0" y1="253.6" x2="1350.0" y2="299.1" stroke="#B684FF"/><line x1="1141.2" y1="257.7" x2="1141.2" y2="261.8" stroke="#D79000"/><line x1="1272.8" y1="258.1" x2="1272.8" y2="272.9" stroke="#00B8E5"/><line x1="1307.2" y1="258.8" x2="1310.3" y2="277.1" stroke="#FF6D8F"/><line x1="1333.6" y1="258.5" x2="1333.6" y2="278.8" stroke="#E6870D"/><line x1="1392.1" y1="256.8" x2="1390.4" y2="262.5" stroke="#90AA00"/><line x1="1418.5" y1="256.8" x2="1398.6" y2="282.3" stroke="#A28BFF"/><line x1="1229.6" y1="262.4" x2="1247.6" y2="299.2" stroke="#CE9500"/><line x1="1399.0" y1="266.6" x2="1399.0" y2="280.1" stroke="#00ABFC"/><line x1="1440.0" y1="267.2" x2="1425.8" y2="275.5" stroke="#F37B59"/><line x1="1133.6" y1="268.4" x2="1149.6" y2="299.2" stroke="#E48800"/><line x1="1166.0" y1="268.4" x2="1166.0" y2="291.1" stroke="#00BE72"/><line x1="1204.0" y1="267.9" x2="1204.0" y2="289.1" stroke="#62B200"/><line x1="1262.4" y1="268.6" x2="1265.9" y2="291.1" stroke="#ACA300"/><line x1="1292.0" y1="268.4" x2="1292.0" y2="294.1" stroke="#EE8042"/><line x1="1314.3" y1="269.2" x2="1314.3" y2="272.6" stroke="#00C1A1"/><line x1="1345.0" y1="269.2" x2="1345.0" y2="299.1" stroke="#29A3FF"/><line x1="1109.0" y1="278.2" x2="1139.4" y2="309.4" stroke="#00B4F0"/><line x1="1140.7" y1="278.4" x2="1164.5" y2="309.3" stroke="#579EFF"/><line x1="1170.0" y1="278.4" x2="1170.0" y2="287.1" stroke="#00BD5C"/><line x1="1206.0" y1="278.4" x2="1206.0" y2="291.1" stroke="#FC61D3"/><line x1="1240.0" y1="278.4" x2="1240.0" y2="304.1" stroke="#00AFF8"/><line x1="1271.0" y1="278.8" x2="1279.8" y2="314.1" stroke="#FF61C1"/><line x1="1307.9" y1="278.7" x2="1309.9" y2="293.1" stroke="#7398FF"/><line x1="1330.0" y1="278.7" x2="1330.0" y2="287.1" stroke="#619CFF"/><line x1="1374.0" y1="276.8" x2="1374.0" y2="291.1" stroke="#FF6C93"/><line x1="1423.5" y1="277.1" x2="1412.8" y2="282.6" stroke="#20B700"/><line x1="1452.5" y1="277.1" x2="1430.8" y2="284.7" stroke="#FA62D9"/><line x1="1479.7" y1="277.0" x2="1445.9" y2="285.8" stroke="#3CA1FF"/><line x1="1079.1" y1="277.7" x2="1102.7" y2="291.0" stroke="#7B97FF"/><line x1="1084.4" y1="288.6" x2="1114.5" y2="329.3" stroke="#FB727A"/><line x1="1120.5" y1="288.6" x2="1144.5" y2="322.3" stroke="#FD6F87"/><line x1="1153.4" y1="288.8" x2="1174.5" y2="319.3" stroke="#00AAFE"/><line x1="1185.0" y1="288.8" x2="1185.0" y2="296.1" stroke="#00B7E7"/><line x1="1224.7" y1="288.8" x2="1229.8" y2="309.1" stroke="#00B0F6"/><line x1="1262.0" y1="289.5" x2="1262.0" y2="311.1" stroke="#D09400"/><line x1="1297.0" y1="289.2" x2="1297.0" y2="304.1" stroke="#F166E8"/><line x1="1305.7" y1="288.8" x2="1303.8" y2="289.6" stroke="#00A6FF"/><line x1="1346.0" y1="286.9" x2="1346.0" y2="299.1" stroke="#FF62BA"/><line x1="1377.7" y1="286.9" x2="1372.4" y2="296.2" stroke="#00C096"/><line x1="1409.2" y1="289.4" x2="1398.9" y2="290.0" stroke="#00C0AE"/><line x1="1448.6" y1="287.2" x2="1441.8" y2="289.7" stroke="#00B709"/><line x1="1473.8" y1="287.2" x2="1440.9" y2="294.8" stroke="#80AD00"/><line x1="1136.8" y1="298.8" x2="1164.4" y2="331.3" stroke="#00C1AB"/><line x1="1190.0" y1="298.8" x2="1190.0" y2="314.1" stroke="#00BBDD"/><line x1="1218.0" y1="299.0" x2="1218.0" y2="309.1" stroke="#CF78FF"/><line x1="1065.3" y1="299.5" x2="1107.1" y2="333.2" stroke="#FF66A9"/><line x1="1275.0" y1="299.2" x2="1275.0" y2="309.1" stroke="#FE6E8B"/><line x1="1298.0" y1="299.3" x2="1298.0" y2="304.1" stroke="#FF63B4"/><line x1="1325.0" y1="297.3" x2="1325.0" y2="311.1" stroke="#C37EFF"/><line x1="1352.0" y1="297.5" x2="1352.0" y2="313.1" stroke="#A2A600"/><line x1="1383.7" y1="298.9" x2="1382.4" y2="302.2" stroke="#00BB46"/><line x1="1433.9" y1="297.4" x2="1425.9" y2="297.9" stroke="#00ADFB"/><line x1="1475.0" y1="297.4" x2="1440.9" y2="299.9" stroke="#E76CF3"/><line x1="1110.6" y1="308.8" x2="1139.3" y2="331.4" stroke="#00BE6E"/><line x1="1150.0" y1="309.1" x2="1150.0" y2="314.1" stroke="#D575FE"/><line x1="998.3" y1="309.8" x2="1046.8" y2="329.0" stroke="#F8766D"/><line x1="1045.7" y1="309.2" x2="1093.2" y2="336.1" stroke="#55B300"/><line x1="1098.3" y1="309.2" x2="1119.2" y2="319.6" stroke="#ED68ED"/><line x1="1204.9" y1="308.9" x2="1205.0" y2="311.1" stroke="#FF65AD"/><line x1="1347.3" y1="307.7" x2="1346.2" y2="313.1" stroke="#4B9FFF"/><line x1="1369.7" y1="311.0" x2="1368.3" y2="314.2" stroke="#E7851E"/><line x1="1408.3" y1="307.7" x2="1402.8" y2="309.7" stroke="#DE8C00"/><line x1="1454.4" y1="305.0" x2="1430.9" y2="305.0" stroke="#FB61D6"/><line x1="1495.9" y1="303.0" x2="1440.9" y2="303.0" stroke="#00B7E9"/><line x1="999.7" y1="320.7" x2="1028.5" y2="332.9" stroke="#B79F00"/><line x1="1030.0" y1="319.9" x2="1030.0" y2="333.1" stroke="#84AD00"/><line x1="1103.9" y1="319.7" x2="1104.9" y2="329.1" stroke="#F27D54"/><line x1="1135.0" y1="318.8" x2="1135.0" y2="324.1" stroke="#F97572"/><line x1="1165.0" y1="319.3" x2="1165.0" y2="327.1" stroke="#00B2F4"/><line x1="1198.0" y1="319.3" x2="1198.0" y2="321.1" stroke="#45B500"/><line x1="1402.5" y1="316.0" x2="1398.9" y2="316.0" stroke="#EB8333"/><line x1="1428.4" y1="313.0" x2="1412.9" y2="313.0" stroke="#00BECA"/><line x1="1466.7" y1="311.6" x2="1420.9" y2="311.0" stroke="#00BF7B"/><line x1="1496.7" y1="312.0" x2="1426.9" y2="312.0" stroke="#00BA38"/><line x1="1395.0" y1="322.2" x2="1395.0" y2="318.9" stroke="#FD61D0"/><line x1="1448.5" y1="322.2" x2="1410.9" y2="318.1" stroke="#8DAB00"/><line x1="1470.3" y1="322.4" x2="1412.9" y2="320.0" stroke="#FF67A2"/><line x1="1032.9" y1="329.2" x2="1090.4" y2="329.3" stroke="#00BDD0"/><line x1="1007.2" y1="332.1" x2="1013.8" y2="333.6" stroke="#C49900"/><line x1="1148.0" y1="328.4" x2="1148.0" y2="333.1" stroke="#7CAE00"/><line x1="1168.0" y1="331.0" x2="1168.0" y2="333.1" stroke="#F863DE"/><line x1="1282.0" y1="325.4" x2="1282.0" y2="320.9" stroke="#FF63B7"/><line x1="1330.0" y1="328.0" x2="1330.0" y2="322.9" stroke="#77AF00"/><line x1="979.1" y1="335.6" x2="1007.4" y2="335.6" stroke="#F365E6"/><line x1="1179.4" y1="335.1" x2="1178.4" y2="332.8" stroke="#00BA3F"/><line x1="1212.0" y1="335.1" x2="1212.0" y2="330.9" stroke="#8295FF"/><line x1="1246.0" y1="335.1" x2="1246.0" y2="326.9" stroke="#5BB300"/><line x1="1365.0" y1="332.5" x2="1365.0" y2="328.9" stroke="#00BF77"/><line x1="1400.7" y1="332.2" x2="1396.8" y2="330.4" stroke="#4DB400"/><line x1="1429.2" y1="332.2" x2="1424.8" y2="330.4" stroke="#A789FF"/><line x1="1450.2" y1="332.2" x2="1428.9" y2="327.2" stroke="#EB69EF"/><line x1="1300.0" y1="333.9" x2="1300.0" y2="327.9" stroke="#F77768"/><line x1="979.1" y1="344.0" x2="981.2" y2="342.5" stroke="#B4A000"/><line x1="1073.1" y1="344.9" x2="1073.1" y2="342.9" stroke="#DB8E00"/><line x1="1150.0" y1="344.7" x2="1150.0" y2="338.9" stroke="#00C0B5"/><line x1="1200.0" y1="345.0" x2="1200.0" y2="338.9" stroke="#67B100"/><line x1="1226.0" y1="344.9" x2="1226.0" y2="338.9" stroke="#72B000"/><line x1="1282.0" y1="344.6" x2="1282.0" y2="336.9" stroke="#00C19A"/><line x1="1310.0" y1="344.0" x2="1310.0" y2="337.9" stroke="#B186FF"/><line x1="1339.3" y1="343.3" x2="1328.5" y2="330.3" stroke="#C99700"/><line x1="1374.9" y1="342.4" x2="1340.8" y2="329.7" stroke="#98A800"/><line x1="1403.7" y1="342.9" x2="1351.8" y2="329.7" stroke="#00BFC7"/><line x1="1435.7" y1="342.5" x2="1364.2" y2="329.6" stroke="#D277FF"/><line x1="1005.3" y1="354.4" x2="1012.3" y2="345.5" stroke="#C79800"/><line x1="1031.7" y1="354.4" x2="1046.9" y2="342.6" stroke="#00BD60"/><line x1="1063.1" y1="355.2" x2="1063.1" y2="343.8" stroke="#E46DF5"/><line x1="1109.6" y1="355.2" x2="1109.6" y2="342.6" stroke="#9BA700"/><line x1="1142.4" y1="355.3" x2="1142.4" y2="341.1" stroke="#BD9D00"/><line x1="1164.3" y1="355.6" x2="1164.3" y2="334.8" stroke="#FA7476"/><line x1="1200.4" y1="355.3" x2="1204.8" y2="334.7" stroke="#A5A500"/><line x1="1243.9" y1="354.5" x2="1245.0" y2="334.7" stroke="#F67963"/><line x1="1270.6" y1="353.6" x2="1270.0" y2="334.6" stroke="#30B600"/><line x1="1298.0" y1="353.7" x2="1298.0" y2="334.6" stroke="#F663E1"/><line x1="1329.2" y1="353.7" x2="1323.2" y2="333.1" stroke="#00BFC4"/><line x1="1368.2" y1="353.3" x2="1338.5" y2="332.6" stroke="#E08A00"/><line x1="1395.2" y1="353.3" x2="1347.5" y2="332.5" stroke="#DF70F9"/><line x1="1420.7" y1="352.9" x2="1357.4" y2="332.3" stroke="#E96AF1"/><line x1="1046.5" y1="364.6" x2="1059.0" y2="342.8" stroke="#00BD65"/><line x1="1089.8" y1="365.0" x2="1121.6" y2="335.3" stroke="#FF61C4"/><line x1="1121.4" y1="365.2" x2="1141.8" y2="340.9" stroke="#A8A400"/><line x1="1151.5" y1="365.2" x2="1151.5" y2="335.6" stroke="#00BAE0"/><line x1="1175.3" y1="365.2" x2="1176.2" y2="334.2" stroke="#00C1A8"/><line x1="1200.0" y1="365.2" x2="1200.0" y2="335.7" stroke="#00C0B2"/><line x1="1232.0" y1="365.2" x2="1232.0" y2="335.7" stroke="#CB7AFF"/><line x1="1255.0" y1="364.6" x2="1255.0" y2="335.7" stroke="#00BC51"/><line x1="1272.5" y1="363.9" x2="1272.0" y2="335.6" stroke="#FF61CA"/><line x1="1300.0" y1="363.9" x2="1300.0" y2="335.6" stroke="#F47A5E"/><line x1="1352.1" y1="363.5" x2="1332.8" y2="335.4" stroke="#00B931"/><line x1="1381.9" y1="363.5" x2="1345.5" y2="335.2" stroke="#00B5EE"/><line x1="1421.5" y1="363.2" x2="1356.4" y2="335.0" stroke="#00C0B8"/><line x1="1073.8" y1="375.0" x2="1097.2" y2="342.7" stroke="#00B927"/><line x1="1119.7" y1="375.3" x2="1143.7" y2="335.5" stroke="#BF9C00"/><line x1="1157.5" y1="375.3" x2="1158.8" y2="342.0" stroke="#00A7FF"/><line x1="1200.0" y1="375.7" x2="1200.0" y2="336.8" stroke="#FC717F"/><line x1="1255.0" y1="375.2" x2="1255.0" y2="336.7" stroke="#9091FF"/><line x1="1285.0" y1="374.0" x2="1285.0" y2="336.6" stroke="#00C087"/><line x1="1326.7" y1="374.0" x2="1326.7" y2="338.2" stroke="#00A4FF"/><line x1="1362.7" y1="373.6" x2="1343.1" y2="338.0" stroke="#F07E4E"/><line x1="1423.4" y1="372.3" x2="1363.9" y2="337.3" stroke="#BA82FF"/><line x1="1265.0" y1="378.8" x2="1265.0" y2="337.1" stroke="#94A900"/><line x1="1318.0" y1="384.4" x2="1318.0" y2="337.7" stroke="#D29300"/><line x1="1379.1" y1="384.0" x2="1342.2" y2="340.5" stroke="#FF67A6"/><line x1="1406.2" y1="382.8" x2="1352.4" y2="340.1" stroke="#00BDD3"/><line x1="1247.3" y1="384.4" x2="1261.7" y2="337.6" stroke="#00C083"/><line x1="1123.3" y1="387.0" x2="1123.3" y2="338.4" stroke="#FF699B"/><line x1="1212.4" y1="387.1" x2="1249.5" y2="337.7" stroke="#00B81C"/><line x1="1282.0" y1="389.2" x2="1282.0" y2="338.1" stroke="#FF64B0"/><line x1="1205.6" y1="393.0" x2="1215.4" y2="330.2" stroke="#89AC00"/><line x1="1337.7" y1="392.8" x2="1328.9" y2="342.9" stroke="#E16EF7"/></g>
<g><circle cx="1271.2" cy="25.2" r="0.85" fill="#8993FF"/><circle cx="1227.8" cy="108.7" r="0.85" fill="#D49200"/><circle cx="1346.0" cy="153.6" r="0.85" fill="#B2A100"/><circle cx="1270.2" cy="189.4" r="0.85" fill="#6DB100"/><circle cx="1414.8" cy="185.5" r="0.85" fill="#00C19D"/><circle cx="1383.6" cy="207.4" r="0.85" fill="#00BB4C"/><circle cx="1408.4" cy="208.0" r="0.85" fill="#FF6A97"/><circle cx="1309.7" cy="213.2" r="0.85" fill="#00B9E2"/><circle cx="1372.7" cy="216.7" r="0.85" fill="#CC9600"/><circle cx="1415.9" cy="219.7" r="0.85" fill="#BA9E00"/><circle cx="1263.5" cy="207.8" r="0.85" fill="#00BCD6"/><circle cx="1375.8" cy="228.9" r="0.85" fill="#D973FC"/><circle cx="1406.2" cy="230.2" r="0.85" fill="#FF689E"/><circle cx="1249.6" cy="237.3" r="0.85" fill="#6A9AFF"/><circle cx="1424.9" cy="235.7" r="0.85" fill="#AC88FF"/><circle cx="1415.9" cy="236.7" r="0.85" fill="#00C08E"/><circle cx="1114.1" cy="241.5" r="0.85" fill="#00AEF9"/><circle cx="1188.4" cy="238.6" r="0.85" fill="#FE61CD"/><circle cx="1257.0" cy="250.0" r="0.85" fill="#00C1A4"/><circle cx="1313.0" cy="251.4" r="0.85" fill="#EF7F48"/><circle cx="1235.4" cy="257.9" r="0.85" fill="#DD8D00"/><circle cx="1344.5" cy="258.8" r="0.85" fill="#F564E3"/><circle cx="1366.7" cy="256.2" r="0.85" fill="#00BBDB"/><circle cx="1325.0" cy="290.0" r="0.85" fill="#9C8DFF"/><circle cx="1297.4" cy="261.4" r="0.85" fill="#9FA700"/><circle cx="1383.4" cy="260.8" r="0.85" fill="#D98F00"/><circle cx="1395.7" cy="267.3" r="0.85" fill="#EC823B"/><circle cx="1211.6" cy="265.3" r="0.85" fill="#00BF7F"/><circle cx="1262.0" cy="300.0" r="0.85" fill="#C77CFF"/><circle cx="1350.0" cy="300.0" r="0.85" fill="#B684FF"/><circle cx="1141.2" cy="262.7" r="0.85" fill="#D79000"/><circle cx="1272.8" cy="273.8" r="0.85" fill="#00B8E5"/><circle cx="1310.4" cy="278.0" r="0.85" fill="#FF6D8F"/><circle cx="1333.6" cy="279.7" r="0.85" fill="#E6870D"/><circle cx="1390.1" cy="263.4" r="0.85" fill="#90AA00"/><circle cx="1398.0" cy="283.0" r="0.85" fill="#A28BFF"/><circle cx="1248.0" cy="300.0" r="0.85" fill="#CE9500"/><circle cx="1380.5" cy="267.5" r="0.85" fill="#00BC56"/><circle cx="1399.0" cy="281.0" r="0.85" fill="#00ABFC"/><circle cx="1425.0" cy="276.0" r="0.85" fill="#F37B59"/><circle cx="1150.0" cy="300.0" r="0.85" fill="#E48800"/><circle cx="1166.0" cy="292.0" r="0.85" fill="#00BE72"/><circle cx="1204.0" cy="290.0" r="0.85" fill="#62B200"/><circle cx="1266.0" cy="292.0" r="0.85" fill="#ACA300"/><circle cx="1292.0" cy="295.0" r="0.85" fill="#EE8042"/><circle cx="1314.3" cy="273.5" r="0.85" fill="#00C1A1"/><circle cx="1345.0" cy="300.0" r="0.85" fill="#29A3FF"/><circle cx="1140.0" cy="310.0" r="0.85" fill="#00B4F0"/><circle cx="1165.0" cy="310.0" r="0.85" fill="#579EFF"/><circle cx="1170.0" cy="288.0" r="0.85" fill="#00BD5C"/><circle cx="1206.0" cy="292.0" r="0.85" fill="#FC61D3"/><circle cx="1240.0" cy="305.0" r="0.85" fill="#00AFF8"/><circle cx="1280.0" cy="315.0" r="0.85" fill="#FF61C1"/><circle cx="1310.0" cy="294.0" r="0.85" fill="#7398FF"/><circle cx="1330.0" cy="288.0" r="0.85" fill="#619CFF"/><circle cx="1374.0" cy="292.0" r="0.85" fill="#FF6C93"/><circle cx="1412.0" cy="283.0" r="0.85" fill="#20B700"/><circle cx="1430.0" cy="285.0" r="0.85" fill="#FA62D9"/><circle cx="1445.0" cy="286.0" r="0.85" fill="#3CA1FF"/><circle cx="1103.5" cy="291.4" r="0.85" fill="#7B97FF"/><circle cx="1115.0" cy="330.0" r="0.85" fill="#FB727A"/><circle cx="1145.0" cy="323.0" r="0.85" fill="#FD6F87"/><circle cx="1175.0" cy="320.0" r="0.85" fill="#00AAFE"/><circle cx="1185.0" cy="297.0" r="0.85" fill="#00B7E7"/><circle cx="1230.0" cy="310.0" r="0.85" fill="#00B0F6"/><circle cx="1262.0" cy="312.0" r="0.85" fill="#D09400"/><circle cx="1297.0" cy="305.0" r="0.85" fill="#F166E8"/><circle cx="1303.0" cy="290.0" r="0.85" fill="#00A6FF"/><circle cx="1346.0" cy="300.0" r="0.85" fill="#FF62BA"/><circle cx="1372.0" cy="297.0" r="0.85" fill="#00C096"/><circle cx="1398.0" cy="290.0" r="0.85" fill="#00C0AE"/><circle cx="1441.0" cy="290.0" r="0.85" fill="#00B709"/><circle cx="1440.0" cy="295.0" r="0.85" fill="#80AD00"/><circle cx="1165.0" cy="332.0" r="0.85" fill="#00C1AB"/><circle cx="1190.0" cy="315.0" r="0.85" fill="#00BBDD"/><circle cx="1218.0" cy="310.0" r="0.85" fill="#CF78FF"/><circle cx="1107.8" cy="333.8" r="0.85" fill="#FF66A9"/><circle cx="1275.0" cy="310.0" r="0.85" fill="#FE6E8B"/><circle cx="1298.0" cy="305.0" r="0.85" fill="#FF63B4"/><circle cx="1325.0" cy="312.0" r="0.85" fill="#C37EFF"/><circle cx="1352.0" cy="314.0" r="0.85" fill="#A2A600"/><circle cx="1382.0" cy="303.0" r="0.85" fill="#00BB46"/><circle cx="1425.0" cy="298.0" r="0.85" fill="#00ADFB"/><circle cx="1440.0" cy="300.0" r="0.85" fill="#E76CF3"/><circle cx="1140.0" cy="332.0" r="0.85" fill="#00BE6E"/><circle cx="1150.0" cy="315.0" r="0.85" fill="#D575FE"/><circle cx="1047.6" cy="329.3" r="0.85" fill="#F8766D"/><circle cx="1094.0" cy="336.5" r="0.85" fill="#55B300"/><circle cx="1120.0" cy="320.0" r="0.85" fill="#ED68ED"/><circle cx="1205.0" cy="312.0" r="0.85" fill="#FF65AD"/><circle cx="1238.0" cy="310.0" r="0.85" fill="#00B6EC"/><circle cx="1282.0" cy="312.0" r="0.85" fill="#E9842A"/><circle cx="1315.0" cy="309.0" r="0.85" fill="#E28900"/><circle cx="1346.0" cy="314.0" r="0.85" fill="#4B9FFF"/><circle cx="1368.0" cy="315.0" r="0.85" fill="#E7851E"/><circle cx="1402.0" cy="310.0" r="0.85" fill="#DE8C00"/><circle cx="1430.0" cy="305.0" r="0.85" fill="#FB61D6"/><circle cx="1440.0" cy="303.0" r="0.85" fill="#00B7E9"/><circle cx="1029.3" cy="333.3" r="0.85" fill="#B79F00"/><circle cx="1030.0" cy="334.0" r="0.85" fill="#84AD00"/><circle cx="1105.0" cy="330.0" r="0.85" fill="#F27D54"/><circle cx="1135.0" cy="325.0" r="0.85" fill="#F97572"/><circle cx="1165.0" cy="328.0" r="0.85" fill="#00B2F4"/><circle cx="1198.0" cy="322.0" r="0.85" fill="#45B500"/><circle cx="1240.0" cy="320.0" r="0.85" fill="#FF62BE"/><circle cx="1248.0" cy="320.0" r="0.85" fill="#00BE6A"/><circle cx="1294.0" cy="316.0" r="0.85" fill="#AFA200"/><circle cx="1314.0" cy="322.0" r="0.85" fill="#00C0BB"/><circle cx="1398.0" cy="316.0" r="0.85" fill="#EB8333"/><circle cx="1412.0" cy="313.0" r="0.85" fill="#00BECA"/><circle cx="1420.0" cy="311.0" r="0.85" fill="#00BF7B"/><circle cx="1426.0" cy="312.0" r="0.85" fill="#00BA38"/><circle cx="1352.0" cy="318.0" r="0.85" fill="#00C092"/><circle cx="1374.0" cy="321.0" r="0.85" fill="#968FFF"/><circle cx="1395.0" cy="318.0" r="0.85" fill="#FD61D0"/><circle cx="1410.0" cy="318.0" r="0.85" fill="#8DAB00"/><circle cx="1412.0" cy="320.0" r="0.85" fill="#FF67A2"/><circle cx="1091.3" cy="329.3" r="0.85" fill="#00BDD0"/><circle cx="1091.8" cy="328.8" r="0.85" fill="#00BECD"/><circle cx="1014.7" cy="333.8" r="0.85" fill="#C49900"/><circle cx="1115.0" cy="333.0" r="0.85" fill="#BF80FF"/><circle cx="1148.0" cy="334.0" r="0.85" fill="#7CAE00"/><circle cx="1168.0" cy="334.0" r="0.85" fill="#F863DE"/><circle cx="1195.0" cy="323.0" r="0.85" fill="#FD7083"/><circle cx="1282.0" cy="320.0" r="0.85" fill="#FF63B7"/><circle cx="1330.0" cy="322.0" r="0.85" fill="#77AF00"/><circle cx="1008.3" cy="335.6" r="0.85" fill="#F365E6"/><circle cx="1064.0" cy="336.5" r="0.85" fill="#3CB600"/><circle cx="1094.0" cy="337.0" r="0.85" fill="#DC72FB"/><circle cx="1002.0" cy="338.4" r="0.85" fill="#00B3F2"/><circle cx="1178.0" cy="332.0" r="0.85" fill="#00BA3F"/><circle cx="1212.0" cy="330.0" r="0.85" fill="#8295FF"/><circle cx="1246.0" cy="326.0" r="0.85" fill="#5BB300"/><circle cx="1365.0" cy="328.0" r="0.85" fill="#00BF77"/><circle cx="1396.0" cy="330.0" r="0.85" fill="#4DB400"/><circle cx="1424.0" cy="330.0" r="0.85" fill="#A789FF"/><circle cx="1428.0" cy="327.0" r="0.85" fill="#EB69EF"/><circle cx="1300.0" cy="327.0" r="0.85" fill="#F77768"/><circle cx="981.9" cy="342.0" r="0.85" fill="#B4A000"/><circle cx="995.0" cy="343.0" r="0.85" fill="#00BCD8"/><circle cx="1047.6" cy="342.0" r="0.85" fill="#00BFC1"/><circle cx="1073.1" cy="342.0" r="0.85" fill="#DB8E00"/><circle cx="1150.0" cy="338.0" r="0.85" fill="#00C0B5"/><circle cx="1200.0" cy="338.0" r="0.85" fill="#67B100"/><circle cx="1226.0" cy="338.0" r="0.85" fill="#72B000"/><circle cx="1282.0" cy="336.0" r="0.85" fill="#00C19A"/><circle cx="1310.0" cy="337.0" r="0.85" fill="#B186FF"/><circle cx="1328.0" cy="329.6" r="0.85" fill="#C99700"/><circle cx="1339.9" cy="329.4" r="0.85" fill="#98A800"/><circle cx="1350.9" cy="329.5" r="0.85" fill="#00BFC7"/><circle cx="1363.3" cy="329.4" r="0.85" fill="#D277FF"/><circle cx="1012.9" cy="344.8" r="0.85" fill="#C79800"/><circle cx="1047.6" cy="342.0" r="0.85" fill="#00BD60"/><circle cx="1063.1" cy="342.9" r="0.85" fill="#E46DF5"/><circle cx="1109.6" cy="341.7" r="0.85" fill="#9BA700"/><circle cx="1142.4" cy="340.2" r="0.85" fill="#BD9D00"/><circle cx="1164.3" cy="333.9" r="0.85" fill="#FA7476"/><circle cx="1205.0" cy="333.9" r="0.85" fill="#A5A500"/><circle cx="1245.0" cy="333.8" r="0.85" fill="#F67963"/><circle cx="1270.0" cy="333.7" r="0.85" fill="#30B600"/><circle cx="1298.0" cy="333.7" r="0.85" fill="#F663E1"/><circle cx="1323.0" cy="332.2" r="0.85" fill="#00BFC4"/><circle cx="1337.8" cy="332.1" r="0.85" fill="#E08A00"/><circle cx="1346.6" cy="332.1" r="0.85" fill="#DF70F9"/><circle cx="1356.6" cy="332.0" r="0.85" fill="#E96AF1"/><circle cx="1059.4" cy="342.0" r="0.85" fill="#00BD65"/><circle cx="1122.3" cy="334.7" r="0.85" fill="#FF61C4"/><circle cx="1142.4" cy="340.2" r="0.85" fill="#A8A400"/><circle cx="1151.5" cy="334.7" r="0.85" fill="#00BAE0"/><circle cx="1176.2" cy="333.3" r="0.85" fill="#00C1A8"/><circle cx="1200.0" cy="334.8" r="0.85" fill="#00C0B2"/><circle cx="1232.0" cy="334.8" r="0.85" fill="#CB7AFF"/><circle cx="1255.0" cy="334.8" r="0.85" fill="#00BC51"/><circle cx="1272.0" cy="334.7" r="0.85" fill="#FF61CA"/><circle cx="1300.0" cy="334.7" r="0.85" fill="#F47A5E"/><circle cx="1332.3" cy="334.7" r="0.85" fill="#00B931"/><circle cx="1344.8" cy="334.7" r="0.85" fill="#00B5EE"/><circle cx="1355.6" cy="334.6" r="0.85" fill="#00C0B8"/><circle cx="1097.7" cy="342.0" r="0.85" fill="#00B927"/><circle cx="1144.2" cy="334.7" r="0.85" fill="#BF9C00"/><circle cx="1158.8" cy="341.1" r="0.85" fill="#00A7FF"/><circle cx="1200.0" cy="335.9" r="0.85" fill="#FC717F"/><circle cx="1255.0" cy="335.8" r="0.85" fill="#9091FF"/><circle cx="1285.0" cy="335.7" r="0.85" fill="#00C087"/><circle cx="1326.7" cy="337.3" r="0.85" fill="#00A4FF"/><circle cx="1342.7" cy="337.2" r="0.85" fill="#F07E4E"/><circle cx="1363.1" cy="336.9" r="0.85" fill="#BA82FF"/><circle cx="1265.0" cy="336.2" r="0.85" fill="#94A900"/><circle cx="1318.0" cy="336.8" r="0.85" fill="#D29300"/><circle cx="1341.6" cy="339.8" r="0.85" fill="#FF67A6"/><circle cx="1351.7" cy="339.5" r="0.85" fill="#00BDD3"/><circle cx="1262.0" cy="336.8" r="0.85" fill="#00C083"/><circle cx="1123.3" cy="337.5" r="0.85" fill="#FF699B"/><circle cx="1250.0" cy="337.0" r="0.85" fill="#00B81C"/><circle cx="1282.0" cy="337.2" r="0.85" fill="#FF64B0"/><circle cx="1215.5" cy="329.3" r="0.85" fill="#89AC00"/><circle cx="1328.7" cy="342.0" r="0.85" fill="#E16EF7"/></g>
<g class="lb" text-anchor="middle" font-size="6.5"><text x="1262.4" y="32.8" fill="#8993FF">Peru</text><text x="1236.0" y="105.0" fill="#D49200">Bolivia (Plurinational State of)</text><text x="1337.2" y="161.3" fill="#B2A100">Chile</text><text x="1279.0" y="185.8" fill="#6DB100">Ecuador</text><text x="1423.2" y="181.8" fill="#00C19D">Japan</text><text x="1373.6" y="203.8" fill="#00BB4C">Greenland</text><text x="1430.5" y="204.2" fill="#FF6A97">United States of America</text><text x="1294.1" y="209.8" fill="#00B9E2">Mauritius</text><text x="1341.0" y="213.8" fill="#CC9600">Brunei Darussalam</text><text x="1429.2" y="214.8" fill="#BA9E00">Canada</text><text x="1254.6" y="215.8" fill="#00BCD6">Maldives</text><text x="1342.3" y="226.2" fill="#D973FC">Saudi Arabia</text><text x="1389.6" y="224.2" fill="#FF689E">United Kingdom</text><text x="1233.1" y="226.8" fill="#6A9AFF">Palestine</text><text x="1454.4" y="233.3" fill="#AC88FF">Republic of Korea</text><text x="1392.2" y="234.7" fill="#00C08E">Ireland</text><text x="1105.8" y="238.1" fill="#00AEF9">Nepal</text><text x="1196.6" y="235.4" fill="#FE61CD">Tajikistan</text><text x="1268.6" y="236.8" fill="#00C1A4">Kazakhstan</text><text x="1307.1" y="236.3" fill="#EF7F48">Argentina</text><text x="1224.6" y="241.2" fill="#DD8D00">Belize</text><text x="1340.1" y="242.8" fill="#F564E3">Spain</text><text x="1362.8" y="241.9" fill="#00BBDB">Malta</text><text x="1314.3" y="247.1" fill="#9C8DFF">Portugal</text><text x="1280.0" y="247.1" fill="#9FA700">Costa Rica</text><text x="1389.2" y="245.8" fill="#D98F00">Bermuda</text><text x="1421.4" y="245.4" fill="#EC823B">Australia</text><text x="1207.0" y="251.6" fill="#00BF7F">India</text><text x="1239.6" y="251.1" fill="#C77CFF">Saint Lucia</text><text x="1357.6" y="252.7" fill="#B684FF">Romania</text><text x="1141.9" y="256.8" fill="#D79000">Bhutan</text><text x="1265.7" y="257.1" fill="#00B8E5">Mexico</text><text x="1294.1" y="257.9" fill="#FF6D8F">Uruguay</text><text x="1329.7" y="257.6" fill="#E6870D">Bahrain</text><text x="1403.2" y="255.8" fill="#90AA00">Cyprus</text><text x="1436.3" y="255.8" fill="#A28BFF">Puerto Rico</text><text x="1220.7" y="261.4" fill="#CE9500">Brazil</text><text x="1377.5" y="264.1" fill="#00BC56">Guam</text><text x="1416.6" y="265.6" fill="#00ABFC">New Zealand</text><text x="1452.4" y="266.2" fill="#F37B59">Andorra</text><text x="1115.6" y="267.4" fill="#E48800">Bangladesh</text><text x="1152.8" y="267.4" fill="#00BE72">Honduras</text><text x="1188.6" y="266.9" fill="#62B200">El Salvador</text><text x="1247.9" y="267.6" fill="#ACA300">Colombia</text><text x="1279.2" y="267.4" fill="#EE8042">Armenia</text><text x="1307.8" y="268.2" fill="#00C1A1">Jordan</text><text x="1349.5" y="268.2" fill="#29A3FF">Northern Mariana Islands</text><text x="1095.7" y="277.2" fill="#00B4F0">Morocco</text><text x="1127.4" y="277.4" fill="#579EFF">Pakistan</text><text x="1161.2" y="277.4" fill="#00BD5C">Guatemala</text><text x="1199.0" y="277.4" fill="#FC61D3">Syrian Arab Republic</text><text x="1231.6" y="277.4" fill="#00AFF8">Nauru</text><text x="1259.0" y="277.9" fill="#FF61C1">Tokelau</text><text x="1295.0" y="277.8" fill="#7398FF">Panama</text><text x="1325.6" y="277.8" fill="#619CFF">Palau</text><text x="1385.5" y="275.9" fill="#FF6C93">United States Virgin Islands</text><text x="1435.0" y="276.1" fill="#20B700">Finland</text><text x="1465.0" y="276.1" fill="#FA62D9">Sweden</text><text x="1491.5" y="276.1" fill="#3CA1FF">Norway</text><text x="1050.1" y="276.8" fill="#7B97FF">Papua New Guinea</text><text x="1073.6" y="287.6" fill="#FB727A">Yemen</text><text x="1107.8" y="287.6" fill="#FD6F87">Vanuatu</text><text x="1137.8" y="287.9" fill="#00AAFE">Nicaragua</text><text x="1173.0" y="287.9" fill="#00B7E7">Micronesia (Federated States of)</text><text x="1212.0" y="287.9" fill="#00B0F6">Namibia</text><text x="1248.5" y="288.6" fill="#D09400">Botswana</text><text x="1286.0" y="288.2" fill="#F166E8">South Africa</text><text x="1313.2" y="287.9" fill="#00A6FF">Niue</text><text x="1351.0" y="285.9" fill="#FF62BA">Trinidad and Tobago</text><text x="1384.5" y="285.9" fill="#00C096">Italy</text><text x="1419.8" y="288.4" fill="#00C0AE">Kuwait</text><text x="1459.5" y="286.2" fill="#00B709">France</text><text x="1487.8" y="286.2" fill="#80AD00">Denmark</text><text x="1126.1" y="297.9" fill="#00C1AB">Kiribati</text><text x="1171.0" y="297.9" fill="#00BBDD">Marshall Islands</text><text x="1208.1" y="298.1" fill="#CF78FF">Samoa</text><text x="1053.1" y="298.6" fill="#FF66A9">Uganda</text><text x="1263.5" y="298.2" fill="#FE6E8B">Uzbekistan</text><text x="1295.0" y="298.4" fill="#FF63B4">Türkiye</text><text x="1332.1" y="296.4" fill="#C37EFF">Saint Kitts and Nevis</text><text x="1365.0" y="296.6" fill="#A2A600">Cook Islands</text><text x="1395.2" y="297.9" fill="#00BB46">Greece</text><text x="1452.2" y="296.4" fill="#00ADFB">Netherlands</text><text x="1490.6" y="296.4" fill="#E76CF3">Singapore</text><text x="1103.3" y="307.9" fill="#00BE6E">Haiti</text><text x="1141.5" y="308.1" fill="#D575FE">Sao Tome and Principe</text><text x="980.3" y="308.9" fill="#F8766D">Afghanistan</text><text x="1035.3" y="308.2" fill="#55B300">Eritrea</text><text x="1073.5" y="308.2" fill="#ED68ED">Solomon Islands</text><text x="1194.5" y="307.9" fill="#FF65AD">Tuvalu</text><text x="1230.3" y="306.8" fill="#00B6EC">Mongolia</text><text x="1287.7" y="309.4" fill="#E9842A">Azerbaijan</text><text x="1321.7" y="306.4" fill="#E28900">Barbados</text><text x="1356.9" y="306.8" fill="#4B9FFF">Oman</text><text x="1384.2" y="310.1" fill="#E7851E">Bahamas</text><text x="1420.8" y="306.8" fill="#DE8C00">Belgium</text><text x="1472.0" y="306.8" fill="#FB61D6">Switzerland</text><text x="1508.3" y="306.8" fill="#00B7E9">Monaco</text><text x="964.0" y="319.8" fill="#B79F00">Central African Republic</text><text x="1052.0" y="318.9" fill="#84AD00">Democratic Republic of the Congo</text><text x="1093.0" y="318.8" fill="#F27D54">Angola</text><text x="1123.3" y="317.9" fill="#F97572">Zimbabwe</text><text x="1170.0" y="318.4" fill="#00B2F4">Myanmar</text><text x="1202.5" y="318.4" fill="#45B500">Eswatini</text><text x="1228.6" y="318.9" fill="#FF62BE">Tonga</text><text x="1258.3" y="317.1" fill="#00BE6A">Guyana</text><text x="1298.2" y="321.1" fill="#AFA200">China</text><text x="1325.0" y="318.6" fill="#00C0BB">Lebanon</text><text x="1413.4" y="317.1" fill="#EB8333">Austria</text><text x="1447.3" y="317.1" fill="#00BECA">Luxembourg</text><text x="1478.0" y="317.1" fill="#00BF7B">Iceland</text><text x="1510.9" y="317.4" fill="#00BA38">Germany</text><text x="1362.6" y="323.8" fill="#00C092">Israel</text><text x="1385.6" y="327.6" fill="#968FFF">Poland</text><text x="1418.9" y="327.6" fill="#FD61D0">Taiwan (Province of China)</text><text x="1461.0" y="327.6" fill="#8DAB00">Czechia</text><text x="1501.8" y="327.9" fill="#FF67A2">United Arab Emirates</text><text x="1022.0" y="328.2" fill="#00BDD0">Malawi</text><text x="1072.8" y="327.4" fill="#00BECD">Madagascar</text><text x="995.2" y="331.1" fill="#C49900">Burundi</text><text x="1109.6" y="330.1" fill="#BF80FF">Rwanda</text><text x="1137.0" y="327.4" fill="#7CAE00">Djibouti</text><text x="1162.5" y="330.1" fill="#F863DE">Sudan</text><text x="1202.0" y="330.1" fill="#FD7083">Venezuela (Bolivarian Republic of)</text><text x="1285.1" y="330.9" fill="#FF63B7">Tunisia</text><text x="1341.2" y="333.4" fill="#77AF00">Dominica</text><text x="959.5" y="338.9" fill="#F365E6">South Sudan</text><text x="1050.3" y="336.9" fill="#3CB600">Ethiopia</text><text x="1080.3" y="339.1" fill="#DC72FB">Senegal</text><text x="1022.0" y="341.6" fill="#00B3F2">Mozambique</text><text x="1190.0" y="340.6" fill="#00BA3F">Ghana</text><text x="1219.0" y="340.6" fill="#8295FF">Paraguay</text><text x="1256.2" y="340.6" fill="#5BB300">Equatorial Guinea</text><text x="1372.6" y="337.9" fill="#00BF77">Hungary</text><text x="1412.3" y="337.6" fill="#4DB400">Estonia</text><text x="1438.1" y="337.6" fill="#A789FF">Qatar</text><text x="1463.5" y="337.6" fill="#EB69EF">Slovenia</text><text x="1306.1" y="339.4" fill="#F77768">Albania</text><text x="970.5" y="349.4" fill="#B4A000">Chad</text><text x="992.0" y="349.8" fill="#00BCD8">Mali</text><text x="1046.0" y="349.8" fill="#00BFC1">Liberia</text><text x="1082.0" y="350.4" fill="#DB8E00">Benin</text><text x="1143.7" y="350.1" fill="#00C0B5">Lao People's Democratic Republic</text><text x="1204.2" y="350.4" fill="#67B100">Egypt</text><text x="1230.7" y="350.4" fill="#72B000">Dominican Republic</text><text x="1289.0" y="350.1" fill="#00C19A">Jamaica</text><text x="1320.0" y="349.4" fill="#B186FF">Republic of Moldova</text><text x="1352.0" y="348.8" fill="#C99700">Bulgaria</text><text x="1386.2" y="347.9" fill="#98A800">Croatia</text><text x="1417.7" y="348.4" fill="#00BFC7">Lithuania</text><text x="1453.1" y="347.9" fill="#D277FF">San Marino</text><text x="985.4" y="359.9" fill="#C79800">Burkina Faso</text><text x="1020.4" y="359.9" fill="#00BD60">Guinea</text><text x="1061.0" y="360.6" fill="#E46DF5">Sierra Leone</text><text x="1092.9" y="360.6" fill="#9BA700">Côte d'Ivoire</text><text x="1129.5" y="360.8" fill="#BD9D00">Cameroon</text><text x="1162.6" y="361.1" fill="#FA7476">Zambia</text><text x="1190.0" y="360.8" fill="#A5A500">Congo</text><text x="1233.0" y="359.9" fill="#F67963">Algeria</text><text x="1275.6" y="359.1" fill="#30B600">Fiji</text><text x="1305.0" y="359.1" fill="#F663E1">Sri Lanka</text><text x="1337.8" y="359.1" fill="#00BFC4">Libya</text><text x="1380.0" y="358.8" fill="#E08A00">Belarus</text><text x="1405.4" y="358.8" fill="#DF70F9">Serbia</text><text x="1433.8" y="358.4" fill="#E96AF1">Slovakia</text><text x="1024.4" y="370.1" fill="#00BD65">Guinea-Bissau</text><text x="1082.0" y="370.4" fill="#FF61C4">Togo</text><text x="1107.4" y="370.6" fill="#A8A400">Comoros</text><text x="1136.7" y="370.6" fill="#00BAE0">Mauritania</text><text x="1165.3" y="370.6" fill="#00C1A8">Kenya</text><text x="1193.4" y="370.6" fill="#00C0B2">Kyrgyzstan</text><text x="1216.8" y="370.6" fill="#CB7AFF">Saint Vincent and the Grenadines</text><text x="1260.0" y="370.1" fill="#00BC51">Grenada</text><text x="1285.8" y="369.4" fill="#FF61CA">Thailand</text><text x="1322.5" y="369.4" fill="#F47A5E">American Samoa</text><text x="1364.5" y="368.9" fill="#00B931">Georgia</text><text x="1400.0" y="368.9" fill="#00B5EE">Montenegro</text><text x="1431.0" y="368.6" fill="#00C0B8">Latvia</text><text x="1061.6" y="380.4" fill="#00B927">Gambia</text><text x="1104.1" y="380.8" fill="#BF9C00">Cambodia</text><text x="1146.4" y="380.8" fill="#00A7FF">Nigeria</text><text x="1190.1" y="381.1" fill="#FC717F">Viet Nam</text><text x="1246.7" y="380.6" fill="#9091FF">Philippines</text><text x="1295.0" y="379.4" fill="#00C087">Iran (Islamic Republic of)</text><text x="1348.5" y="379.4" fill="#00A4FF">North Macedonia</text><text x="1394.0" y="379.1" fill="#F07E4E">Antigua and Barbuda</text><text x="1452.4" y="377.8" fill="#BA82FF">Russian Federation</text><text x="1268.8" y="384.2" fill="#94A900">Cuba</text><text x="1326.6" y="389.9" fill="#D29300">Bosnia and Herzegovina</text><text x="1391.1" y="389.4" fill="#FF67A6">Ukraine</text><text x="1419.8" y="388.2" fill="#00BDD3">Malaysia</text><text x="1232.4" y="389.9" fill="#00C083">Indonesia</text><text x="1087.6" y="392.4" fill="#FF699B">United Republic of Tanzania</text><text x="1201.8" y="392.6" fill="#00B81C">Gabon</text><text x="1274.0" y="394.6" fill="#FF64B0">Turkmenistan</text><text x="1148.4" y="398.4" fill="#89AC00">Democratic People's Republic of Korea</text><text x="1354.2" y="398.2" fill="#E16EF7">Seychelles</text></g>
<path d="M982.3,347.5L984.7,347.1L987.8,346.6L991.3,346.0L995.3,345.4L999.6,344.7L1004.2,344.0L1009.0,343.2L1013.9,342.4L1018.9,341.6L1023.7,340.8L1028.5,340.0L1033.0,339.3L1037.4,338.6L1041.9,337.8L1046.4,337.1L1050.9,336.4L1055.5,335.6L1060.1,334.9L1064.7,334.1L1069.3,333.3L1073.9,332.6L1078.5,331.8L1083.1,331.0L1087.7,330.2L1092.3,329.4L1096.8,328.6L1101.4,327.8L1105.9,326.9L1110.5,326.1L1115.1,325.3L1119.6,324.4L1124.2,323.6L1128.7,322.7L1133.3,321.8L1137.8,321.0L1142.4,320.1L1147.0,319.2L1151.6,318.3L1156.3,317.3L1160.9,316.4L1165.6,315.4L1170.3,314.5L1174.9,313.5L1179.5,312.6L1184.0,311.7L1188.5,310.8L1192.8,310.0L1197.1,309.2L1201.3,308.4L1205.4,307.7L1209.5,306.9L1213.5,306.1L1217.4,305.4L1221.3,304.7L1225.2,304.1L1228.9,303.5L1232.6,302.9L1236.2,302.5L1239.8,302.2L1243.3,301.9L1246.7,301.8L1250.0,301.8L1253.2,301.8L1256.4,302.0L1259.5,302.2L1262.5,302.5L1265.5,302.9L1268.4,303.2L1271.3,303.6L1274.2,303.9L1277.1,304.2L1280.0,304.5L1282.9,304.8L1285.7,305.1L1288.4,305.5L1291.2,305.8L1293.9,306.2L1296.6,306.6L1299.2,306.9L1301.9,307.3L1304.6,307.5L1307.2,307.7L1309.9,307.8L1312.6,307.8L1315.3,307.7L1317.9,307.5L1320.6,307.3L1323.2,307.0L1325.8,306.6L1328.4,306.2L1331.1,305.7L1333.8,305.3L1336.5,304.8L1339.3,304.2L1342.2,303.7L1345.1,303.2L1348.1,302.7L1351.2,302.1L1354.4,301.5L1357.6,300.9L1360.9,300.3L1364.2,299.6L1367.6,299.0L1370.9,298.3L1374.3,297.6L1377.6,296.9L1380.9,296.1L1384.2,295.4L1387.5,294.7L1390.8,293.9L1394.1,293.2L1397.5,292.4L1400.8,291.6L1404.1,290.8L1407.4,290.0L1410.7,289.1L1413.9,288.3L1417.1,287.4L1420.2,286.5L1423.3,285.6L1426.4,284.6L1429.6,283.5L1432.8,282.4L1436.0,281.1L1439.2,279.9L1442.3,278.7L1445.3,277.5L1448.1,276.4L1450.7,275.3L1453.0,274.4L1454.9,273.6L1456.5,273.0" fill="none" stroke="#52698A" stroke-width="1.35"/>
<path d="M982.4,744.1L985.7,744.5L990.0,745.1L995.0,745.7L1000.6,746.5L1006.7,747.2L1013.1,748.1L1019.7,748.9L1026.3,749.8L1032.8,750.7L1039.0,751.6L1044.8,752.4L1050.0,753.2L1054.8,754.0L1059.3,754.9L1063.7,755.8L1067.9,756.7L1072.0,757.6L1076.0,758.5L1079.9,759.4L1083.8,760.2L1087.8,761.0L1091.7,761.6L1095.8,762.1L1100.0,762.5L1104.3,762.7L1108.6,762.9L1112.9,762.9L1117.2,762.8L1121.6,762.6L1125.9,762.4L1130.3,762.1L1134.7,761.8L1139.0,761.5L1143.4,761.2L1147.8,760.9L1152.1,760.6L1156.5,760.3L1160.9,760.0L1165.3,759.7L1169.7,759.4L1174.1,759.0L1178.6,758.7L1183.0,758.3L1187.3,757.9L1191.6,757.6L1195.9,757.3L1200.1,757.0L1204.2,756.7L1208.3,756.5L1212.4,756.2L1216.4,756.0L1220.5,755.7L1224.4,755.5L1228.4,755.3L1232.2,755.1L1236.0,755.0L1239.6,754.9L1243.2,754.8L1246.6,754.8L1249.8,754.8L1252.8,754.9L1255.6,755.1L1258.2,755.4L1260.7,755.7L1263.0,756.0L1265.3,756.4L1267.6,756.8L1269.9,757.1L1272.2,757.5L1274.6,757.8L1277.2,758.0L1280.0,758.2L1282.9,758.3L1286.0,758.4L1289.1,758.5L1292.3,758.5L1295.6,758.5L1298.9,758.5L1302.3,758.5L1305.7,758.4L1309.0,758.3L1312.4,758.2L1315.7,758.1L1319.0,758.0L1322.3,757.9L1325.5,757.7L1328.7,757.5L1332.0,757.3L1335.2,757.1L1338.5,756.9L1341.7,756.6L1345.0,756.4L1348.3,756.1L1351.6,755.7L1354.9,755.4L1358.2,755.0L1361.6,754.6L1365.2,754.1L1368.9,753.6L1372.7,753.1L1376.4,752.5L1380.1,751.9L1383.8,751.3L1387.3,750.7L1390.7,750.1L1393.8,749.5L1396.7,749.0L1399.3,748.4L1401.6,747.9L1403.5,747.3L1405.2,746.9L1406.7,746.4L1408.1,745.9L1409.3,745.4L1410.4,744.9L1411.5,744.3L1412.5,743.7L1413.7,743.1L1414.9,742.4L1416.2,741.7L1417.6,740.9L1418.9,740.1L1420.3,739.3L1421.6,738.4L1422.9,737.5L1424.2,736.6L1425.6,735.6L1427.0,734.5L1428.4,733.4L1429.9,732.3L1431.5,731.1L1433.1,729.8L1434.9,728.4L1436.9,726.8L1439.1,725.0L1441.4,723.1L1443.7,721.2L1446.0,719.3L1448.3,717.4L1450.4,715.6L1452.4,714.0L1454.1,712.5L1455.6,711.3L1456.8,710.3L1456.8,772.8L1455.9,772.8L1454.8,772.7L1453.6,772.6L1452.2,772.5L1450.7,772.5L1449.0,772.4L1447.3,772.3L1445.3,772.2L1443.3,772.1L1441.1,772.1L1438.8,772.0L1436.4,772.0L1433.8,772.0L1431.0,772.0L1427.9,771.9L1424.8,771.9L1421.4,771.9L1418.0,771.8L1414.5,771.9L1411.0,771.9L1407.5,772.0L1404.0,772.1L1400.6,772.3L1397.3,772.6L1394.0,772.9L1390.8,773.4L1387.5,773.9L1384.3,774.4L1381.0,775.0L1377.8,775.6L1374.5,776.3L1371.2,776.9L1368.0,777.5L1364.7,778.1L1361.5,778.6L1358.2,779.1L1354.9,779.5L1351.7,780.0L1348.4,780.4L1345.2,780.8L1341.9,781.2L1338.6,781.5L1335.4,781.9L1332.1,782.2L1328.9,782.5L1325.6,782.7L1322.4,782.9L1319.1,783.0L1315.8,783.1L1312.5,783.1L1309.1,783.1L1305.7,783.0L1302.4,782.9L1299.0,782.8L1295.7,782.7L1292.4,782.5L1289.1,782.3L1286.0,782.1L1282.9,781.9L1280.0,781.7L1277.2,781.5L1274.6,781.2L1272.2,780.8L1269.8,780.4L1267.6,780.1L1265.3,779.7L1263.0,779.3L1260.7,778.9L1258.2,778.6L1255.6,778.4L1252.8,778.3L1249.8,778.2L1246.6,778.2L1243.2,778.4L1239.6,778.5L1236.0,778.8L1232.2,779.1L1228.4,779.4L1224.4,779.8L1220.5,780.2L1216.4,780.5L1212.4,780.9L1208.3,781.2L1204.2,781.5L1200.1,781.8L1195.9,782.0L1191.6,782.3L1187.3,782.5L1183.0,782.7L1178.6,783.0L1174.1,783.2L1169.7,783.5L1165.3,783.8L1160.9,784.1L1156.5,784.4L1152.1,784.7L1147.8,785.0L1143.4,785.3L1139.0,785.6L1134.7,785.9L1130.3,786.2L1125.9,786.5L1121.6,786.9L1117.2,787.3L1112.9,787.8L1108.6,788.4L1104.3,789.1L1100.0,789.9L1095.8,790.9L1091.7,791.9L1087.8,793.1L1083.8,794.4L1079.9,795.7L1076.0,797.1L1072.0,798.5L1067.9,800.0L1063.7,801.5L1059.3,803.0L1054.8,804.5L1050.0,806.0L1044.8,807.5L1039.0,809.2L1032.8,811.0L1026.3,812.8L1019.7,814.6L1013.1,816.5L1006.7,818.2L1000.6,819.9L995.0,821.4L990.0,822.8L985.7,824.0L982.4,824.9Z" fill="#999999" fill-opacity="0.36"/>
<g stroke-width="0.5"><line x1="1270.1" y1="470.0" x2="1270.9" y2="468.1" stroke="#8993FF"/><line x1="1270.2" y1="601.4" x2="1270.2" y2="603.6" stroke="#6DB100"/><line x1="1345.4" y1="602.7" x2="1345.8" y2="601.1" stroke="#B2A100"/><line x1="1403.1" y1="676.8" x2="1400.0" y2="677.9" stroke="#FF67A2"/><line x1="1211.8" y1="692.7" x2="1211.8" y2="698.8" stroke="#00BF7F"/><line x1="1235.5" y1="694.4" x2="1235.5" y2="696.2" stroke="#DD8D00"/><line x1="1249.8" y1="691.7" x2="1249.8" y2="709.2" stroke="#6A9AFF"/><line x1="1419.3" y1="693.2" x2="1417.0" y2="693.2" stroke="#00C08E"/><line x1="1344.4" y1="699.5" x2="1344.4" y2="701.4" stroke="#F564E3"/><line x1="1366.6" y1="699.5" x2="1366.6" y2="701.4" stroke="#00BBDB"/><line x1="1444.9" y1="701.3" x2="1409.4" y2="704.5" stroke="#FF6A97"/><line x1="1297.8" y1="701.8" x2="1297.8" y2="731.0" stroke="#9FA700"/><line x1="1310.2" y1="701.2" x2="1310.2" y2="740.1" stroke="#EF7F48"/><line x1="1163.6" y1="703.8" x2="1163.6" y2="716.0" stroke="#D575FE"/><line x1="1204.9" y1="703.8" x2="1214.8" y2="739.1" stroke="#00B0F6"/><line x1="1250.9" y1="708.0" x2="1261.7" y2="744.1" stroke="#00BE6A"/><line x1="1366.8" y1="710.7" x2="1379.2" y2="720.3" stroke="#D98F00"/><line x1="1383.5" y1="711.0" x2="1383.5" y2="722.5" stroke="#00BB4C"/><line x1="1415.7" y1="711.0" x2="1415.7" y2="713.4" stroke="#BA9E00"/><line x1="1439.8" y1="711.1" x2="1396.5" y2="732.9" stroke="#EC823B"/><line x1="1272.8" y1="712.3" x2="1272.8" y2="722.9" stroke="#00B8E5"/><line x1="1303.0" y1="711.6" x2="1303.0" y2="741.4" stroke="#7398FF"/><line x1="1121.9" y1="715.8" x2="1140.7" y2="730.3" stroke="#D79000"/><line x1="1155.9" y1="715.5" x2="1168.3" y2="727.0" stroke="#00BE72"/><line x1="1188.4" y1="714.2" x2="1211.6" y2="757.2" stroke="#FE61CD"/><line x1="1222.2" y1="714.2" x2="1239.7" y2="759.2" stroke="#F962DC"/><line x1="1292.0" y1="722.0" x2="1292.0" y2="739.1" stroke="#F663E1"/><line x1="1335.0" y1="721.4" x2="1335.0" y2="744.1" stroke="#E6870D"/><line x1="1345.0" y1="721.4" x2="1345.0" y2="744.1" stroke="#FF62BA"/><line x1="1388.1" y1="721.6" x2="1383.2" y2="741.1" stroke="#A28BFF"/><line x1="1426.0" y1="721.6" x2="1407.4" y2="738.0" stroke="#20B700"/><line x1="1145.3" y1="725.9" x2="1159.5" y2="744.3" stroke="#E48800"/><line x1="1175.0" y1="725.5" x2="1175.0" y2="739.1" stroke="#00BBDD"/><line x1="1187.3" y1="724.2" x2="1187.3" y2="731.0" stroke="#00BD5C"/><line x1="1237.3" y1="724.0" x2="1249.7" y2="759.2" stroke="#D09400"/><line x1="1263.5" y1="722.3" x2="1263.5" y2="725.1" stroke="#00BCD6"/><line x1="1097.4" y1="733.0" x2="1103.1" y2="743.3" stroke="#7B97FF"/><line x1="1216.6" y1="734.4" x2="1217.9" y2="747.1" stroke="#CF78FF"/><line x1="1248.0" y1="733.1" x2="1254.8" y2="759.1" stroke="#ACA300"/><line x1="1274.5" y1="733.1" x2="1275.0" y2="759.1" stroke="#C77CFF"/><line x1="1290.0" y1="733.1" x2="1290.0" y2="744.1" stroke="#F166E8"/><line x1="1318.0" y1="731.2" x2="1318.0" y2="739.1" stroke="#FF6D8F"/><line x1="1333.6" y1="730.8" x2="1333.6" y2="733.2" stroke="#E28900"/><line x1="1370.0" y1="732.5" x2="1370.0" y2="737.1" stroke="#E7851E"/><line x1="1399.7" y1="731.8" x2="1399.7" y2="738.4" stroke="#00ABFC"/><line x1="1437.5" y1="733.5" x2="1425.8" y2="743.9" stroke="#FA62D9"/><line x1="1126.3" y1="736.4" x2="1139.7" y2="769.2" stroke="#FD6F87"/><line x1="1162.8" y1="736.4" x2="1162.8" y2="743.3" stroke="#579EFF"/><line x1="1466.9" y1="736.8" x2="1426.9" y2="750.6" stroke="#00ADFB"/><line x1="1097.2" y1="742.8" x2="1123.7" y2="763.7" stroke="#00BE6E"/><line x1="1150.0" y1="746.2" x2="1150.0" y2="759.1" stroke="#00C1AB"/><line x1="1205.0" y1="745.2" x2="1205.0" y2="764.1" stroke="#00B7E7"/><line x1="1262.0" y1="743.5" x2="1262.0" y2="754.1" stroke="#CE9500"/><line x1="1290.0" y1="743.3" x2="1290.0" y2="754.1" stroke="#FF61C1"/><line x1="1322.0" y1="740.7" x2="1322.0" y2="759.1" stroke="#9C8DFF"/><line x1="1345.0" y1="742.9" x2="1345.0" y2="754.1" stroke="#C37EFF"/><line x1="1420.2" y1="741.8" x2="1410.8" y2="747.5" stroke="#00C096"/><line x1="1437.0" y1="744.8" x2="1420.8" y2="751.6" stroke="#00C0AE"/><line x1="1486.3" y1="747.2" x2="1420.9" y2="759.8" stroke="#80AD00"/><line x1="1458.1" y1="747.2" x2="1440.8" y2="754.6" stroke="#00B7E9"/><line x1="999.6" y1="750.6" x2="1001.0" y2="752.5" stroke="#00BCD8"/><line x1="1079.4" y1="752.9" x2="1096.5" y2="776.0" stroke="#FF61C4"/><line x1="1040.3" y1="753.4" x2="1072.9" y2="780.4" stroke="#DB8E00"/><line x1="1125.0" y1="753.0" x2="1125.0" y2="777.1" stroke="#BD9D00"/><line x1="1185.0" y1="755.1" x2="1185.0" y2="769.1" stroke="#62B200"/><line x1="1212.0" y1="754.7" x2="1212.0" y2="771.1" stroke="#45B500"/><line x1="1245.0" y1="754.3" x2="1245.0" y2="775.1" stroke="#00AFF8"/><line x1="1275.0" y1="753.4" x2="1275.0" y2="769.1" stroke="#00BC51"/><line x1="1425.1" y1="757.2" x2="1425.1" y2="759.0" stroke="#AC88FF"/><line x1="1474.3" y1="758.0" x2="1446.5" y2="758.7" stroke="#3CA1FF"/><line x1="1375.3" y1="758.8" x2="1368.8" y2="761.6" stroke="#00BC56"/><line x1="1358.0" y1="759.5" x2="1358.0" y2="764.1" stroke="#00BB46"/><line x1="1292.0" y1="760.1" x2="1292.0" y2="767.1" stroke="#EE8042"/><line x1="1501.6" y1="760.2" x2="1440.9" y2="762.0" stroke="#F37B59"/><line x1="1014.9" y1="762.3" x2="1058.3" y2="772.6" stroke="#00BD65"/><line x1="1062.3" y1="763.6" x2="1090.9" y2="771.9" stroke="#00BECD"/><line x1="1097.7" y1="762.5" x2="1097.7" y2="772.5" stroke="#00B927"/><line x1="1159.6" y1="763.4" x2="1160.0" y2="781.1" stroke="#00BAE0"/><line x1="1212.0" y1="764.5" x2="1212.0" y2="769.1" stroke="#FD7083"/><line x1="1262.0" y1="763.8" x2="1262.0" y2="769.1" stroke="#5BB300"/><line x1="1429.6" y1="765.8" x2="1419.1" y2="765.8" stroke="#00BF7B"/><line x1="1455.3" y1="765.5" x2="1415.9" y2="765.5" stroke="#00BA38"/><line x1="1487.8" y1="769.4" x2="1424.5" y2="769.4" stroke="#00BECA"/><line x1="1013.2" y1="772.5" x2="1058.0" y2="777.0" stroke="#00BFC1"/><line x1="1080.1" y1="772.1" x2="1080.1" y2="773.8" stroke="#84AD00"/><line x1="1125.0" y1="772.3" x2="1125.0" y2="779.1" stroke="#9BA700"/><line x1="1158.0" y1="773.6" x2="1158.0" y2="781.1" stroke="#00C0BE"/><line x1="1201.8" y1="774.9" x2="1204.5" y2="779.2" stroke="#00BA3F"/><line x1="1238.0" y1="774.9" x2="1238.0" y2="777.1" stroke="#00B6EC"/><line x1="1396.1" y1="768.4" x2="1392.7" y2="768.4" stroke="#00B709"/><line x1="1039.9" y1="777.1" x2="1047.0" y2="777.1" stroke="#00BD60"/><line x1="1128.0" y1="778.8" x2="1128.0" y2="781.1" stroke="#F27D54"/><line x1="1262.0" y1="780.1" x2="1262.0" y2="784.1" stroke="#00C08B"/><line x1="1422.1" y1="778.0" x2="1390.9" y2="778.0" stroke="#8DAB00"/><line x1="1472.5" y1="773.7" x2="1456.9" y2="771.1" stroke="#FB61D6"/><line x1="1280.0" y1="780.9" x2="1280.0" y2="784.1" stroke="#E9842A"/><line x1="1322.0" y1="780.3" x2="1322.0" y2="787.1" stroke="#77AF00"/><line x1="1354.0" y1="773.9" x2="1354.0" y2="770.9" stroke="#F07E4E"/><line x1="1000.5" y1="779.7" x2="1028.4" y2="779.7" stroke="#B79F00"/><line x1="1176.0" y1="785.3" x2="1176.0" y2="789.1" stroke="#00C1A8"/><line x1="1240.0" y1="786.6" x2="1240.0" y2="789.1" stroke="#FF62BE"/><line x1="1214.0" y1="789.0" x2="1217.1" y2="789.8" stroke="#A5A500"/><line x1="1158.0" y1="789.9" x2="1161.4" y2="794.3" stroke="#00A7FF"/><line x1="1303.0" y1="790.0" x2="1298.9" y2="790.0" stroke="#FF63B4"/><line x1="1379.2" y1="783.4" x2="1375.9" y2="783.1" stroke="#968FFF"/><line x1="1415.3" y1="783.5" x2="1400.9" y2="782.1" stroke="#FF6C93"/><line x1="1490.9" y1="785.0" x2="1395.9" y2="785.0" stroke="#EB69EF"/><line x1="1278.0" y1="790.5" x2="1278.0" y2="793.1" stroke="#30B600"/><line x1="1005.2" y1="789.5" x2="1007.1" y2="789.0" stroke="#F365E6"/><line x1="1107.5" y1="792.6" x2="1107.5" y2="790.6" stroke="#FF66A9"/><line x1="1155.0" y1="793.9" x2="1155.0" y2="790.9" stroke="#00AAFE"/><line x1="1250.0" y1="791.9" x2="1250.0" y2="786.9" stroke="#FC61D3"/><line x1="1270.0" y1="794.3" x2="1270.0" y2="790.9" stroke="#FE6E8B"/><line x1="1291.0" y1="794.1" x2="1291.0" y2="790.9" stroke="#F77768"/><line x1="1319.5" y1="795.0" x2="1306.9" y2="795.0" stroke="#00C1A4"/><line x1="1356.4" y1="794.1" x2="1350.9" y2="793.2" stroke="#4B9FFF"/><line x1="1457.4" y1="794.1" x2="1395.9" y2="791.0" stroke="#A789FF"/><line x1="1015.9" y1="793.9" x2="1015.9" y2="791.3" stroke="#C49900"/><line x1="1010.7" y1="799.5" x2="1012.8" y2="792.6" stroke="#C79800"/><line x1="1039.6" y1="803.5" x2="1062.3" y2="797.3" stroke="#3CB600"/><line x1="1063.6" y1="802.4" x2="1093.6" y2="790.7" stroke="#55B300"/><line x1="1093.3" y1="803.5" x2="1115.1" y2="791.4" stroke="#BF80FF"/><line x1="1120.2" y1="803.8" x2="1139.1" y2="800.2" stroke="#FA7476"/><line x1="1162.0" y1="804.4" x2="1162.0" y2="800.9" stroke="#C29B00"/><line x1="1200.0" y1="803.7" x2="1200.0" y2="796.9" stroke="#00B2F4"/><line x1="1231.8" y1="802.1" x2="1244.3" y2="790.6" stroke="#00B81C"/><line x1="1260.0" y1="804.7" x2="1260.0" y2="799.9" stroke="#94A900"/><line x1="1290.0" y1="805.2" x2="1290.0" y2="802.9" stroke="#D29300"/><line x1="1316.4" y1="804.8" x2="1315.3" y2="800.9" stroke="#00BFC4"/><line x1="1350.0" y1="804.3" x2="1338.0" y2="792.5" stroke="#BA82FF"/><line x1="1402.7" y1="804.3" x2="1350.1" y2="792.1" stroke="#DF70F9"/><line x1="1423.3" y1="804.8" x2="1358.4" y2="792.2" stroke="#E96AF1"/><line x1="1436.7" y1="804.3" x2="1367.5" y2="792.0" stroke="#F47A5E"/><line x1="1009.6" y1="810.0" x2="1040.6" y2="796.6" stroke="#00B3F2"/><line x1="1048.6" y1="814.2" x2="1048.6" y2="811.1" stroke="#FF699B"/><line x1="1107.4" y1="814.2" x2="1124.2" y2="805.4" stroke="#F97572"/><line x1="1142.0" y1="814.8" x2="1142.0" y2="810.9" stroke="#BF9C00"/><line x1="1179.4" y1="814.2" x2="1187.6" y2="796.6" stroke="#F863DE"/><line x1="1241.8" y1="814.4" x2="1242.0" y2="796.7" stroke="#72B000"/><line x1="1259.5" y1="814.4" x2="1264.7" y2="796.6" stroke="#00C083"/><line x1="1270.0" y1="815.4" x2="1270.0" y2="796.8" stroke="#FF63B7"/><line x1="1298.7" y1="815.0" x2="1295.2" y2="796.7" stroke="#AFA200"/><line x1="1325.8" y1="814.7" x2="1325.8" y2="795.4" stroke="#00A4FF"/><line x1="1376.7" y1="815.0" x2="1341.8" y2="795.0" stroke="#C99700"/><line x1="1409.3" y1="814.7" x2="1352.2" y2="794.8" stroke="#00C0B8"/><line x1="1432.6" y1="814.7" x2="1361.1" y2="794.7" stroke="#4DB400"/><line x1="1454.1" y1="814.7" x2="1370.7" y2="794.7" stroke="#D277FF"/><line x1="1028.8" y1="823.9" x2="1047.9" y2="810.7" stroke="#F8766D"/><line x1="1069.9" y1="824.3" x2="1084.3" y2="812.6" stroke="#FF61C7"/><line x1="1096.6" y1="824.6" x2="1117.2" y2="812.5" stroke="#FB727A"/><line x1="1121.5" y1="824.6" x2="1131.4" y2="812.7" stroke="#7CAE00"/><line x1="1162.0" y1="824.6" x2="1162.0" y2="812.9" stroke="#89AC00"/><line x1="1202.9" y1="824.5" x2="1204.9" y2="797.7" stroke="#67B100"/><line x1="1235.9" y1="824.5" x2="1244.7" y2="797.6" stroke="#FC717F"/><line x1="1262.7" y1="824.5" x2="1264.9" y2="797.7" stroke="#F67963"/><line x1="1285.0" y1="825.1" x2="1285.0" y2="797.7" stroke="#FF64B0"/><line x1="1322.8" y1="825.1" x2="1322.8" y2="798.0" stroke="#B186FF"/><line x1="1361.8" y1="825.1" x2="1336.2" y2="797.7" stroke="#FF67A6"/><line x1="1392.0" y1="825.1" x2="1346.8" y2="797.5" stroke="#E08A00"/><line x1="1419.2" y1="825.1" x2="1356.2" y2="797.4" stroke="#98A800"/><line x1="1445.8" y1="825.1" x2="1366.5" y2="797.4" stroke="#00BFC7"/><line x1="1150.0" y1="834.7" x2="1150.0" y2="812.9" stroke="#00C0B5"/><line x1="1177.9" y1="834.7" x2="1191.7" y2="798.6" stroke="#00B4F0"/><line x1="1205.0" y1="834.7" x2="1205.0" y2="798.7" stroke="#00C0B2"/><line x1="1240.0" y1="834.7" x2="1240.0" y2="798.7" stroke="#9091FF"/><line x1="1270.0" y1="834.7" x2="1270.0" y2="798.7" stroke="#FF61CA"/><line x1="1295.0" y1="834.8" x2="1295.0" y2="798.7" stroke="#00C087"/><line x1="1478.4" y1="795.0" x2="1420.9" y2="795.0" stroke="#E76CF3"/><line x1="1477.4" y1="804.6" x2="1377.5" y2="792.1" stroke="#00BDD3"/><line x1="1340.4" y1="834.8" x2="1329.9" y2="800.4" stroke="#E16EF7"/><line x1="1377.0" y1="834.8" x2="1341.7" y2="800.1" stroke="#00B931"/><line x1="1405.2" y1="834.8" x2="1353.7" y2="800.0" stroke="#00B5EE"/></g>
<g><circle cx="1271.2" cy="467.3" r="0.85" fill="#8993FF"/><circle cx="1227.8" cy="561.1" r="0.85" fill="#D49200"/><circle cx="1309.7" cy="565.4" r="0.85" fill="#00B9E2"/><circle cx="1270.2" cy="604.5" r="0.85" fill="#6DB100"/><circle cx="1346.0" cy="600.2" r="0.85" fill="#B2A100"/><circle cx="1405.9" cy="668.0" r="0.85" fill="#FF689E"/><circle cx="1114.0" cy="675.2" r="0.85" fill="#00AEF9"/><circle cx="1376.0" cy="678.0" r="0.85" fill="#D973FC"/><circle cx="1399.2" cy="678.2" r="0.85" fill="#FF67A2"/><circle cx="1414.4" cy="688.9" r="0.85" fill="#00C19D"/><circle cx="1211.8" cy="699.7" r="0.85" fill="#00BF7F"/><circle cx="1235.5" cy="697.1" r="0.85" fill="#DD8D00"/><circle cx="1249.8" cy="710.1" r="0.85" fill="#6A9AFF"/><circle cx="1416.1" cy="693.2" r="0.85" fill="#00C08E"/><circle cx="1389.9" cy="699.9" r="0.85" fill="#90AA00"/><circle cx="1344.4" cy="702.3" r="0.85" fill="#F564E3"/><circle cx="1366.6" cy="702.3" r="0.85" fill="#00BBDB"/><circle cx="1408.5" cy="704.6" r="0.85" fill="#FF6A97"/><circle cx="1297.8" cy="731.9" r="0.85" fill="#9FA700"/><circle cx="1310.2" cy="741.0" r="0.85" fill="#EF7F48"/><circle cx="1163.6" cy="716.9" r="0.85" fill="#D575FE"/><circle cx="1215.0" cy="740.0" r="0.85" fill="#00B0F6"/><circle cx="1262.0" cy="745.0" r="0.85" fill="#00BE6A"/><circle cx="1379.9" cy="720.8" r="0.85" fill="#D98F00"/><circle cx="1383.5" cy="723.4" r="0.85" fill="#00BB4C"/><circle cx="1415.7" cy="714.3" r="0.85" fill="#BA9E00"/><circle cx="1395.7" cy="733.3" r="0.85" fill="#EC823B"/><circle cx="1272.8" cy="723.8" r="0.85" fill="#00B8E5"/><circle cx="1303.0" cy="742.3" r="0.85" fill="#7398FF"/><circle cx="1141.4" cy="730.8" r="0.85" fill="#D79000"/><circle cx="1169.0" cy="727.6" r="0.85" fill="#00BE72"/><circle cx="1212.0" cy="758.0" r="0.85" fill="#FE61CD"/><circle cx="1240.0" cy="760.0" r="0.85" fill="#F962DC"/><circle cx="1292.0" cy="740.0" r="0.85" fill="#F663E1"/><circle cx="1335.0" cy="745.0" r="0.85" fill="#E6870D"/><circle cx="1345.0" cy="745.0" r="0.85" fill="#FF62BA"/><circle cx="1383.0" cy="742.0" r="0.85" fill="#A28BFF"/><circle cx="1406.7" cy="738.6" r="0.85" fill="#20B700"/><circle cx="1160.0" cy="745.0" r="0.85" fill="#E48800"/><circle cx="1175.0" cy="740.0" r="0.85" fill="#00BBDD"/><circle cx="1187.3" cy="731.9" r="0.85" fill="#00BD5C"/><circle cx="1250.0" cy="760.0" r="0.85" fill="#D09400"/><circle cx="1263.5" cy="726.0" r="0.85" fill="#00BCD6"/><circle cx="1103.5" cy="744.1" r="0.85" fill="#7B97FF"/><circle cx="1218.0" cy="748.0" r="0.85" fill="#CF78FF"/><circle cx="1255.0" cy="760.0" r="0.85" fill="#ACA300"/><circle cx="1275.0" cy="760.0" r="0.85" fill="#C77CFF"/><circle cx="1290.0" cy="745.0" r="0.85" fill="#F166E8"/><circle cx="1318.0" cy="740.0" r="0.85" fill="#FF6D8F"/><circle cx="1333.6" cy="734.1" r="0.85" fill="#E28900"/><circle cx="1370.0" cy="738.0" r="0.85" fill="#E7851E"/><circle cx="1399.7" cy="739.3" r="0.85" fill="#00ABFC"/><circle cx="1425.1" cy="744.5" r="0.85" fill="#FA62D9"/><circle cx="1140.0" cy="770.0" r="0.85" fill="#FD6F87"/><circle cx="1162.8" cy="744.2" r="0.85" fill="#579EFF"/><circle cx="1426.0" cy="750.9" r="0.85" fill="#00ADFB"/><circle cx="1124.4" cy="764.3" r="0.85" fill="#00BE6E"/><circle cx="1150.0" cy="760.0" r="0.85" fill="#00C1AB"/><circle cx="1205.0" cy="765.0" r="0.85" fill="#00B7E7"/><circle cx="1262.0" cy="755.0" r="0.85" fill="#CE9500"/><circle cx="1290.0" cy="755.0" r="0.85" fill="#FF61C1"/><circle cx="1322.0" cy="760.0" r="0.85" fill="#9C8DFF"/><circle cx="1345.0" cy="755.0" r="0.85" fill="#C37EFF"/><circle cx="1410.0" cy="748.0" r="0.85" fill="#00C096"/><circle cx="1420.0" cy="752.0" r="0.85" fill="#00C0AE"/><circle cx="1420.0" cy="760.0" r="0.85" fill="#80AD00"/><circle cx="1440.0" cy="755.0" r="0.85" fill="#00B7E9"/><circle cx="1388.0" cy="750.0" r="0.85" fill="#CC9600"/><circle cx="1314.0" cy="752.0" r="0.85" fill="#00C1A1"/><circle cx="1001.5" cy="753.2" r="0.85" fill="#00BCD8"/><circle cx="1097.0" cy="776.7" r="0.85" fill="#FF61C4"/><circle cx="1073.6" cy="781.0" r="0.85" fill="#DB8E00"/><circle cx="1125.0" cy="778.0" r="0.85" fill="#BD9D00"/><circle cx="1185.0" cy="770.0" r="0.85" fill="#62B200"/><circle cx="1212.0" cy="772.0" r="0.85" fill="#45B500"/><circle cx="1245.0" cy="776.0" r="0.85" fill="#00AFF8"/><circle cx="1275.0" cy="770.0" r="0.85" fill="#00BC51"/><circle cx="1425.1" cy="759.9" r="0.85" fill="#AC88FF"/><circle cx="1445.6" cy="758.7" r="0.85" fill="#3CA1FF"/><circle cx="1402.4" cy="760.6" r="0.85" fill="#DE8C00"/><circle cx="1368.0" cy="762.0" r="0.85" fill="#00BC56"/><circle cx="1358.0" cy="765.0" r="0.85" fill="#00BB46"/><circle cx="1318.0" cy="762.0" r="0.85" fill="#00C0BB"/><circle cx="1292.0" cy="768.0" r="0.85" fill="#EE8042"/><circle cx="1440.0" cy="762.0" r="0.85" fill="#F37B59"/><circle cx="1059.2" cy="772.8" r="0.85" fill="#00BD65"/><circle cx="1091.8" cy="772.1" r="0.85" fill="#00BECD"/><circle cx="1097.7" cy="773.4" r="0.85" fill="#00B927"/><circle cx="1160.0" cy="782.0" r="0.85" fill="#00BAE0"/><circle cx="1212.0" cy="770.0" r="0.85" fill="#FD7083"/><circle cx="1262.0" cy="770.0" r="0.85" fill="#5BB300"/><circle cx="1418.2" cy="765.8" r="0.85" fill="#00BF7B"/><circle cx="1415.0" cy="765.5" r="0.85" fill="#00BA38"/><circle cx="1423.6" cy="769.4" r="0.85" fill="#00BECA"/><circle cx="1300.0" cy="772.0" r="0.85" fill="#00A6FF"/><circle cx="1340.0" cy="772.0" r="0.85" fill="#29A3FF"/><circle cx="1285.0" cy="772.0" r="0.85" fill="#00C19A"/><circle cx="1058.9" cy="777.1" r="0.85" fill="#00BFC1"/><circle cx="1080.1" cy="774.7" r="0.85" fill="#84AD00"/><circle cx="1125.0" cy="780.0" r="0.85" fill="#9BA700"/><circle cx="1158.0" cy="782.0" r="0.85" fill="#00C0BE"/><circle cx="1205.0" cy="780.0" r="0.85" fill="#00BA3F"/><circle cx="1238.0" cy="778.0" r="0.85" fill="#00B6EC"/><circle cx="981.7" cy="776.7" r="0.85" fill="#B4A000"/><circle cx="1391.8" cy="768.4" r="0.85" fill="#00B709"/><circle cx="1047.9" cy="777.1" r="0.85" fill="#00BD60"/><circle cx="1128.0" cy="782.0" r="0.85" fill="#F27D54"/><circle cx="1262.0" cy="785.0" r="0.85" fill="#00C08B"/><circle cx="1390.0" cy="778.0" r="0.85" fill="#8DAB00"/><circle cx="1456.8" cy="770.9" r="0.85" fill="#00C092"/><circle cx="1456.0" cy="771.0" r="0.85" fill="#FB61D6"/><circle cx="1280.0" cy="785.0" r="0.85" fill="#E9842A"/><circle cx="1322.0" cy="788.0" r="0.85" fill="#77AF00"/><circle cx="1354.0" cy="770.0" r="0.85" fill="#F07E4E"/><circle cx="1029.3" cy="779.7" r="0.85" fill="#B79F00"/><circle cx="1176.0" cy="790.0" r="0.85" fill="#00C1A8"/><circle cx="1240.0" cy="790.0" r="0.85" fill="#FF62BE"/><circle cx="1107.5" cy="789.7" r="0.85" fill="#ED68ED"/><circle cx="1045.0" cy="790.0" r="0.85" fill="#E46DF5"/><circle cx="1085.0" cy="790.0" r="0.85" fill="#DC72FB"/><circle cx="1218.0" cy="790.0" r="0.85" fill="#A5A500"/><circle cx="1162.0" cy="795.0" r="0.85" fill="#00A7FF"/><circle cx="1298.0" cy="790.0" r="0.85" fill="#FF63B4"/><circle cx="1330.0" cy="790.0" r="0.85" fill="#B684FF"/><circle cx="1360.0" cy="782.0" r="0.85" fill="#00BF77"/><circle cx="1375.0" cy="783.0" r="0.85" fill="#968FFF"/><circle cx="1402.6" cy="785.5" r="0.85" fill="#EB8333"/><circle cx="1400.0" cy="782.0" r="0.85" fill="#FF6C93"/><circle cx="1395.0" cy="785.0" r="0.85" fill="#EB69EF"/><circle cx="1278.0" cy="794.0" r="0.85" fill="#30B600"/><circle cx="1008.0" cy="788.8" r="0.85" fill="#F365E6"/><circle cx="1081.0" cy="791.4" r="0.85" fill="#00BDD0"/><circle cx="1107.5" cy="789.7" r="0.85" fill="#FF66A9"/><circle cx="1170.0" cy="790.0" r="0.85" fill="#CB7AFF"/><circle cx="1155.0" cy="790.0" r="0.85" fill="#00AAFE"/><circle cx="1135.0" cy="792.0" r="0.85" fill="#A8A400"/><circle cx="1250.0" cy="786.0" r="0.85" fill="#FC61D3"/><circle cx="1270.0" cy="790.0" r="0.85" fill="#FE6E8B"/><circle cx="1291.0" cy="790.0" r="0.85" fill="#F77768"/><circle cx="1306.0" cy="795.0" r="0.85" fill="#00C1A4"/><circle cx="1350.0" cy="793.0" r="0.85" fill="#4B9FFF"/><circle cx="1380.0" cy="795.0" r="0.85" fill="#A2A600"/><circle cx="1390.0" cy="792.0" r="0.85" fill="#FD61D0"/><circle cx="1395.0" cy="791.0" r="0.85" fill="#A789FF"/><circle cx="1015.9" cy="790.4" r="0.85" fill="#C49900"/><circle cx="1013.0" cy="791.7" r="0.85" fill="#C79800"/><circle cx="1063.2" cy="797.1" r="0.85" fill="#3CB600"/><circle cx="1094.4" cy="790.4" r="0.85" fill="#55B300"/><circle cx="1115.9" cy="791.0" r="0.85" fill="#BF80FF"/><circle cx="1140.0" cy="800.0" r="0.85" fill="#FA7476"/><circle cx="1162.0" cy="800.0" r="0.85" fill="#C29B00"/><circle cx="1200.0" cy="796.0" r="0.85" fill="#00B2F4"/><circle cx="1245.0" cy="790.0" r="0.85" fill="#00B81C"/><circle cx="1260.0" cy="799.0" r="0.85" fill="#94A900"/><circle cx="1290.0" cy="802.0" r="0.85" fill="#D29300"/><circle cx="1315.0" cy="800.0" r="0.85" fill="#00BFC4"/><circle cx="1337.4" cy="791.9" r="0.85" fill="#BA82FF"/><circle cx="1349.3" cy="791.9" r="0.85" fill="#DF70F9"/><circle cx="1357.5" cy="792.0" r="0.85" fill="#E96AF1"/><circle cx="1366.6" cy="791.9" r="0.85" fill="#F47A5E"/><circle cx="1041.4" cy="796.2" r="0.85" fill="#00B3F2"/><circle cx="1048.6" cy="810.2" r="0.85" fill="#FF699B"/><circle cx="1125.0" cy="805.0" r="0.85" fill="#F97572"/><circle cx="1142.0" cy="810.0" r="0.85" fill="#BF9C00"/><circle cx="1188.0" cy="795.7" r="0.85" fill="#F863DE"/><circle cx="1242.0" cy="795.8" r="0.85" fill="#72B000"/><circle cx="1265.0" cy="795.8" r="0.85" fill="#00C083"/><circle cx="1270.0" cy="795.9" r="0.85" fill="#FF63B7"/><circle cx="1295.0" cy="795.8" r="0.85" fill="#AFA200"/><circle cx="1325.8" cy="794.5" r="0.85" fill="#00A4FF"/><circle cx="1341.0" cy="794.5" r="0.85" fill="#C99700"/><circle cx="1351.3" cy="794.5" r="0.85" fill="#00C0B8"/><circle cx="1360.2" cy="794.5" r="0.85" fill="#4DB400"/><circle cx="1369.8" cy="794.5" r="0.85" fill="#D277FF"/><circle cx="1048.6" cy="810.2" r="0.85" fill="#F8766D"/><circle cx="1085.0" cy="812.0" r="0.85" fill="#FF61C7"/><circle cx="1118.0" cy="812.0" r="0.85" fill="#FB727A"/><circle cx="1132.0" cy="812.0" r="0.85" fill="#7CAE00"/><circle cx="1162.0" cy="812.0" r="0.85" fill="#89AC00"/><circle cx="1205.0" cy="796.8" r="0.85" fill="#67B100"/><circle cx="1245.0" cy="796.8" r="0.85" fill="#FC717F"/><circle cx="1265.0" cy="796.8" r="0.85" fill="#F67963"/><circle cx="1285.0" cy="796.8" r="0.85" fill="#FF64B0"/><circle cx="1322.8" cy="797.1" r="0.85" fill="#B186FF"/><circle cx="1335.6" cy="797.1" r="0.85" fill="#FF67A6"/><circle cx="1346.1" cy="797.1" r="0.85" fill="#E08A00"/><circle cx="1355.4" cy="797.1" r="0.85" fill="#98A800"/><circle cx="1365.7" cy="797.1" r="0.85" fill="#00BFC7"/><circle cx="1150.0" cy="812.0" r="0.85" fill="#00C0B5"/><circle cx="1192.0" cy="797.8" r="0.85" fill="#00B4F0"/><circle cx="1205.0" cy="797.8" r="0.85" fill="#00C0B2"/><circle cx="1240.0" cy="797.8" r="0.85" fill="#9091FF"/><circle cx="1270.0" cy="797.8" r="0.85" fill="#FF61CA"/><circle cx="1295.0" cy="797.8" r="0.85" fill="#00C087"/><circle cx="1420.0" cy="795.0" r="0.85" fill="#E76CF3"/><circle cx="1376.6" cy="792.0" r="0.85" fill="#00BDD3"/><circle cx="1329.7" cy="799.5" r="0.85" fill="#E16EF7"/><circle cx="1341.0" cy="799.5" r="0.85" fill="#00B931"/><circle cx="1352.9" cy="799.5" r="0.85" fill="#00B5EE"/></g>
<g class="lb" text-anchor="middle" font-size="6.5"><text x="1262.4" y="475.4" fill="#8993FF">Peru</text><text x="1218.8" y="569.0" fill="#D49200">Bolivia (Plurinational State of)</text><text x="1300.5" y="573.1" fill="#00B9E2">Mauritius</text><text x="1279.0" y="600.5" fill="#6DB100">Ecuador</text><text x="1337.2" y="608.1" fill="#B2A100">Chile</text><text x="1414.8" y="664.6" fill="#FF689E">United Kingdom</text><text x="1122.8" y="672.0" fill="#00AEF9">Nepal</text><text x="1367.1" y="674.5" fill="#D973FC">Saudi Arabia</text><text x="1434.6" y="675.9" fill="#FF67A2">United Arab Emirates</text><text x="1406.2" y="685.6" fill="#00C19D">Japan</text><text x="1205.8" y="691.8" fill="#00BF7F">India</text><text x="1227.3" y="693.5" fill="#DD8D00">Belize</text><text x="1255.0" y="690.8" fill="#6A9AFF">Palestine</text><text x="1430.0" y="695.5" fill="#00C08E">Ireland</text><text x="1399.2" y="696.8" fill="#90AA00">Cyprus</text><text x="1352.8" y="698.5" fill="#F564E3">Spain</text><text x="1374.9" y="698.5" fill="#00BBDB">Malta</text><text x="1481.5" y="700.4" fill="#FF6A97">United States of America</text><text x="1286.7" y="700.9" fill="#9FA700">Costa Rica</text><text x="1322.3" y="700.2" fill="#EF7F48">Argentina</text><text x="1139.7" y="702.9" fill="#D575FE">Sao Tome and Principe</text><text x="1192.2" y="702.9" fill="#00B0F6">Namibia</text><text x="1238.7" y="707.0" fill="#00BE6A">Guyana</text><text x="1352.8" y="709.8" fill="#D98F00">Bermuda</text><text x="1387.7" y="710.0" fill="#00BB4C">Greenland</text><text x="1423.1" y="710.0" fill="#BA9E00">Canada</text><text x="1453.2" y="710.1" fill="#EC823B">Australia</text><text x="1267.8" y="711.4" fill="#00B8E5">Mexico</text><text x="1302.7" y="710.6" fill="#7398FF">Panama</text><text x="1110.8" y="714.9" fill="#D79000">Bhutan</text><text x="1141.0" y="714.5" fill="#00BE72">Honduras</text><text x="1174.2" y="713.2" fill="#FE61CD">Tajikistan</text><text x="1207.5" y="713.2" fill="#F962DC">Suriname</text><text x="1285.8" y="721.0" fill="#F663E1">Sri Lanka</text><text x="1326.4" y="720.5" fill="#E6870D">Bahrain</text><text x="1364.2" y="720.5" fill="#FF62BA">Trinidad and Tobago</text><text x="1405.9" y="720.6" fill="#A28BFF">Puerto Rico</text><text x="1437.5" y="720.6" fill="#20B700">Finland</text><text x="1127.3" y="725.0" fill="#E48800">Bangladesh</text><text x="1154.7" y="724.5" fill="#00BBDD">Marshall Islands</text><text x="1187.9" y="723.2" fill="#00BD5C">Guatemala</text><text x="1222.2" y="723.0" fill="#D09400">Botswana</text><text x="1253.1" y="721.4" fill="#00BCD6">Maldives</text><text x="1068.4" y="732.0" fill="#7B97FF">Papua New Guinea</text><text x="1205.5" y="733.5" fill="#CF78FF">Samoa</text><text x="1233.5" y="732.1" fill="#ACA300">Colombia</text><text x="1257.6" y="732.1" fill="#C77CFF">Saint Lucia</text><text x="1280.8" y="732.1" fill="#F166E8">South Africa</text><text x="1313.4" y="730.2" fill="#FF6D8F">Uruguay</text><text x="1344.0" y="729.9" fill="#E28900">Barbados</text><text x="1374.7" y="731.5" fill="#E7851E">Bahamas</text><text x="1411.8" y="730.9" fill="#00ABFC">New Zealand</text><text x="1450.0" y="732.5" fill="#FA62D9">Sweden</text><text x="1113.6" y="735.5" fill="#FD6F87">Vanuatu</text><text x="1157.0" y="735.5" fill="#579EFF">Pakistan</text><text x="1485.2" y="735.9" fill="#00ADFB">Netherlands</text><text x="1089.9" y="741.9" fill="#00BE6E">Haiti</text><text x="1140.4" y="745.2" fill="#00C1AB">Kiribati</text><text x="1186.0" y="744.2" fill="#00B7E7">Micronesia (Federated States of)</text><text x="1257.0" y="742.5" fill="#CE9500">Brazil</text><text x="1286.2" y="742.4" fill="#FF61C1">Tokelau</text><text x="1321.0" y="739.8" fill="#9C8DFF">Portugal</text><text x="1355.8" y="742.0" fill="#C37EFF">Saint Kitts and Nevis</text><text x="1427.0" y="740.9" fill="#00C096">Italy</text><text x="1447.6" y="743.9" fill="#00C0AE">Kuwait</text><text x="1500.3" y="746.2" fill="#80AD00">Denmark</text><text x="1470.5" y="746.2" fill="#00B7E9">Monaco</text><text x="1392.8" y="747.6" fill="#CC9600">Brunei Darussalam</text><text x="1311.9" y="749.0" fill="#00C1A1">Jordan</text><text x="992.8" y="749.6" fill="#00BCD8">Mali</text><text x="1071.6" y="752.0" fill="#FF61C4">Togo</text><text x="1031.2" y="752.5" fill="#DB8E00">Benin</text><text x="1111.5" y="752.0" fill="#BD9D00">Cameroon</text><text x="1173.0" y="754.1" fill="#62B200">El Salvador</text><text x="1210.7" y="753.8" fill="#45B500">Eswatini</text><text x="1236.8" y="753.4" fill="#00AFF8">Nauru</text><text x="1270.0" y="752.5" fill="#00BC51">Grenada</text><text x="1450.9" y="756.2" fill="#AC88FF">Republic of Korea</text><text x="1486.1" y="757.0" fill="#3CA1FF">Norway</text><text x="1412.9" y="757.4" fill="#DE8C00">Belgium</text><text x="1384.9" y="757.9" fill="#00BC56">Guam</text><text x="1358.8" y="758.5" fill="#00BB46">Greece</text><text x="1329.5" y="759.1" fill="#00C0BB">Lebanon</text><text x="1296.9" y="759.1" fill="#EE8042">Armenia</text><text x="1514.0" y="759.2" fill="#F37B59">Andorra</text><text x="992.8" y="761.4" fill="#00BD65">Guinea-Bissau</text><text x="1043.6" y="762.6" fill="#00BECD">Madagascar</text><text x="1095.1" y="761.5" fill="#00B927">Gambia</text><text x="1143.6" y="762.5" fill="#00BAE0">Mauritania</text><text x="1205.5" y="763.5" fill="#FD7083">Venezuela (Bolivarian Republic of)</text><text x="1253.7" y="762.9" fill="#5BB300">Equatorial Guinea</text><text x="1440.9" y="766.6" fill="#00BF7B">Iceland</text><text x="1469.5" y="767.5" fill="#00BA38">Germany</text><text x="1506.7" y="769.5" fill="#00BECA">Luxembourg</text><text x="1304.8" y="769.6" fill="#00A6FF">Niue</text><text x="1347.8" y="769.6" fill="#29A3FF">Northern Mariana Islands</text><text x="1279.8" y="770.0" fill="#00C19A">Jamaica</text><text x="1002.6" y="771.5" fill="#00BFC1">Liberia</text><text x="1069.0" y="771.1" fill="#84AD00">Democratic Republic of the Congo</text><text x="1114.3" y="771.4" fill="#9BA700">Côte d'Ivoire</text><text x="1161.2" y="772.6" fill="#00C0BE">Lesotho</text><text x="1191.2" y="774.0" fill="#00BA3F">Ghana</text><text x="1234.2" y="774.0" fill="#00B6EC">Mongolia</text><text x="973.9" y="773.4" fill="#B4A000">Chad</text><text x="1407.0" y="773.5" fill="#00B709">France</text><text x="1028.6" y="776.8" fill="#00BD60">Guinea</text><text x="1133.2" y="777.9" fill="#F27D54">Angola</text><text x="1259.0" y="779.1" fill="#00C08B">Iraq</text><text x="1434.6" y="777.5" fill="#8DAB00">Czechia</text><text x="1459.8" y="778.8" fill="#00C092">Israel</text><text x="1490.1" y="779.1" fill="#FB61D6">Switzerland</text><text x="1287.6" y="780.0" fill="#E9842A">Azerbaijan</text><text x="1319.7" y="779.4" fill="#77AF00">Dominica</text><text x="1363.4" y="779.4" fill="#F07E4E">Antigua and Barbuda</text><text x="964.8" y="784.5" fill="#B79F00">Central African Republic</text><text x="1174.9" y="784.4" fill="#00C1A8">Kenya</text><text x="1234.2" y="785.6" fill="#FF62BE">Tonga</text><text x="1109.4" y="786.5" fill="#ED68ED">Solomon Islands</text><text x="1040.4" y="787.4" fill="#E46DF5">Sierra Leone</text><text x="1081.4" y="787.1" fill="#DC72FB">Senegal</text><text x="1203.6" y="788.0" fill="#A5A500">Congo</text><text x="1146.9" y="789.0" fill="#00A7FF">Nigeria</text><text x="1314.5" y="789.1" fill="#FF63B4">Türkiye</text><text x="1341.9" y="788.9" fill="#B684FF">Romania</text><text x="1366.6" y="789.5" fill="#00BF77">Hungary</text><text x="1390.1" y="788.9" fill="#968FFF">Poland</text><text x="1415.4" y="788.0" fill="#EB8333">Austria</text><text x="1456.0" y="789.0" fill="#FF6C93">United States Virgin Islands</text><text x="1504.2" y="789.0" fill="#EB69EF">Slovenia</text><text x="1275.9" y="789.5" fill="#30B600">Fiji</text><text x="985.6" y="795.0" fill="#F365E6">South Sudan</text><text x="1069.0" y="796.8" fill="#00BDD0">Malawi</text><text x="1096.0" y="798.0" fill="#FF66A9">Uganda</text><text x="1162.5" y="797.4" fill="#CB7AFF">Saint Vincent and the Grenadines</text><text x="1163.8" y="799.4" fill="#00AAFE">Nicaragua</text><text x="1126.1" y="799.4" fill="#A8A400">Comoros</text><text x="1223.8" y="797.4" fill="#FC61D3">Syrian Arab Republic</text><text x="1256.4" y="799.8" fill="#FE6E8B">Uzbekistan</text><text x="1297.6" y="799.5" fill="#F77768">Albania</text><text x="1337.3" y="799.5" fill="#00C1A4">Kazakhstan</text><text x="1366.0" y="799.5" fill="#4B9FFF">Oman</text><text x="1394.7" y="799.5" fill="#A2A600">Cook Islands</text><text x="1429.8" y="799.5" fill="#FD61D0">Taiwan (Province of China)</text><text x="1466.3" y="799.5" fill="#A789FF">Qatar</text><text x="1026.7" y="799.4" fill="#C49900">Burundi</text><text x="990.8" y="805.0" fill="#C79800">Burkina Faso</text><text x="1027.1" y="809.0" fill="#3CB600">Ethiopia</text><text x="1053.2" y="807.9" fill="#55B300">Eritrea</text><text x="1080.6" y="809.0" fill="#BF80FF">Rwanda</text><text x="1108.6" y="809.2" fill="#FA7476">Zambia</text><text x="1154.2" y="809.9" fill="#C29B00">Cabo Verde</text><text x="1189.9" y="809.1" fill="#00B2F4">Myanmar</text><text x="1221.2" y="807.5" fill="#00B81C">Gabon</text><text x="1253.1" y="810.1" fill="#94A900">Cuba</text><text x="1295.6" y="810.6" fill="#D29300">Bosnia and Herzegovina</text><text x="1325.0" y="810.2" fill="#00BFC4">Libya</text><text x="1379.0" y="809.8" fill="#BA82FF">Russian Federation</text><text x="1412.9" y="809.8" fill="#DF70F9">Serbia</text><text x="1436.4" y="810.2" fill="#E96AF1">Slovakia</text><text x="1462.4" y="809.8" fill="#F47A5E">American Samoa</text><text x="990.2" y="815.5" fill="#00B3F2">Mozambique</text><text x="1053.8" y="819.6" fill="#FF699B">United Republic of Tanzania</text><text x="1091.6" y="819.6" fill="#F97572">Zimbabwe</text><text x="1126.8" y="820.2" fill="#BF9C00">Cambodia</text><text x="1169.2" y="819.6" fill="#F863DE">Sudan</text><text x="1212.1" y="819.9" fill="#72B000">Dominican Republic</text><text x="1244.6" y="819.9" fill="#00C083">Indonesia</text><text x="1276.5" y="820.9" fill="#FF63B7">Tunisia</text><text x="1308.0" y="820.5" fill="#AFA200">China</text><text x="1345.8" y="820.1" fill="#00A4FF">North Macedonia</text><text x="1389.4" y="820.5" fill="#C99700">Bulgaria</text><text x="1418.8" y="820.1" fill="#00C0B8">Latvia</text><text x="1444.2" y="820.1" fill="#4DB400">Estonia</text><text x="1471.5" y="820.1" fill="#D277FF">San Marino</text><text x="1010.8" y="829.4" fill="#F8766D">Afghanistan</text><text x="1051.9" y="829.8" fill="#FF61C7">Timor-Leste</text><text x="1085.8" y="830.0" fill="#FB727A">Yemen</text><text x="1109.9" y="830.0" fill="#7CAE00">Djibouti</text><text x="1139.8" y="830.0" fill="#89AC00">Democratic People's Republic of Korea</text><text x="1193.8" y="830.0" fill="#67B100">Egypt</text><text x="1221.8" y="830.0" fill="#FC717F">Viet Nam</text><text x="1251.8" y="830.0" fill="#F67963">Algeria</text><text x="1293.0" y="830.5" fill="#FF64B0">Turkmenistan</text><text x="1337.3" y="830.5" fill="#B186FF">Republic of Moldova</text><text x="1373.8" y="830.5" fill="#FF67A6">Ukraine</text><text x="1403.8" y="830.5" fill="#E08A00">Belarus</text><text x="1430.5" y="830.5" fill="#98A800">Croatia</text><text x="1459.8" y="830.5" fill="#00BFC7">Lithuania</text><text x="1107.3" y="840.1" fill="#00C0B5">Lao People's Democratic Republic</text><text x="1164.6" y="840.1" fill="#00B4F0">Morocco</text><text x="1199.0" y="840.1" fill="#00C0B2">Kyrgyzstan</text><text x="1232.9" y="840.1" fill="#9091FF">Philippines</text><text x="1266.8" y="840.1" fill="#FF61CA">Thailand</text><text x="1315.2" y="840.2" fill="#00C087">Iran (Islamic Republic of)</text><text x="1494.0" y="799.6" fill="#E76CF3">Singapore</text><text x="1491.0" y="810.0" fill="#00BDD3">Malaysia</text><text x="1356.9" y="840.2" fill="#E16EF7">Seychelles</text><text x="1389.4" y="840.2" fill="#00B931">Georgia</text><text x="1423.3" y="840.2" fill="#00B5EE">Montenegro</text></g>
<path d="M982.4,784.5L985.7,784.3L990.0,784.1L995.0,783.9L1000.6,783.6L1006.7,783.3L1013.1,782.9L1019.7,782.6L1026.3,782.2L1032.8,781.9L1039.0,781.6L1044.8,781.3L1050.0,781.0L1054.8,780.7L1059.3,780.5L1063.7,780.3L1067.9,780.1L1072.0,779.9L1076.0,779.7L1079.9,779.5L1083.8,779.3L1087.8,779.1L1091.7,778.8L1095.8,778.5L1100.0,778.2L1104.3,777.8L1108.6,777.5L1112.9,777.0L1117.2,776.6L1121.6,776.1L1125.9,775.7L1130.3,775.2L1134.7,774.7L1139.0,774.3L1143.4,773.8L1147.8,773.4L1152.1,773.0L1156.5,772.6L1160.9,772.3L1165.3,771.9L1169.7,771.6L1174.1,771.2L1178.6,770.9L1183.0,770.6L1187.3,770.3L1191.6,770.0L1195.9,769.7L1200.1,769.4L1204.2,769.1L1208.3,768.8L1212.4,768.5L1216.4,768.2L1220.5,767.9L1224.4,767.7L1228.4,767.4L1232.2,767.1L1236.0,766.9L1239.6,766.7L1243.2,766.6L1246.6,766.5L1249.8,766.5L1252.8,766.5L1255.6,766.7L1258.2,766.8L1260.7,767.1L1263.0,767.3L1265.3,767.6L1267.6,767.9L1269.8,768.2L1272.2,768.5L1274.6,768.8L1277.2,769.1L1280.0,769.3L1282.9,769.5L1286.0,769.8L1289.1,770.0L1292.4,770.3L1295.7,770.6L1299.0,770.8L1302.4,771.1L1305.7,771.2L1309.1,771.4L1312.5,771.4L1315.8,771.4L1319.1,771.3L1322.4,771.1L1325.6,770.8L1328.9,770.4L1332.1,770.0L1335.4,769.5L1338.6,769.0L1341.9,768.4L1345.2,767.8L1348.4,767.2L1351.7,766.6L1354.9,766.0L1358.2,765.4L1361.5,764.8L1364.7,764.2L1368.0,763.6L1371.2,763.0L1374.5,762.3L1377.8,761.7L1381.0,761.0L1384.3,760.3L1387.5,759.6L1390.8,759.0L1394.0,758.3L1397.3,757.6L1400.6,756.9L1404.0,756.2L1407.5,755.5L1411.0,754.7L1414.5,754.0L1418.0,753.2L1421.4,752.5L1424.8,751.8L1427.9,751.1L1431.0,750.4L1433.8,749.7L1436.4,749.1L1438.8,748.5L1441.1,747.9L1443.3,747.3L1445.3,746.7L1447.3,746.1L1449.0,745.5L1450.7,745.0L1452.2,744.5L1453.6,744.0L1454.8,743.6L1455.9,743.3L1456.8,743.0" fill="none" stroke="#52698A" stroke-width="1.35"/>
<path d="M985.8,1176.3L987.5,1176.8L989.6,1177.4L992.1,1178.1L994.8,1178.9L997.9,1179.8L1001.1,1180.8L1004.4,1181.7L1007.8,1182.7L1011.3,1183.6L1014.7,1184.5L1018.0,1185.3L1021.2,1186.1L1024.3,1186.8L1027.5,1187.5L1030.7,1188.2L1033.9,1188.8L1037.2,1189.5L1040.5,1190.1L1043.8,1190.7L1047.1,1191.3L1050.4,1191.8L1053.7,1192.3L1057.0,1192.8L1060.3,1193.2L1063.6,1193.6L1066.9,1194.0L1070.2,1194.4L1073.5,1194.7L1076.8,1195.0L1080.1,1195.3L1083.5,1195.5L1086.8,1195.7L1090.1,1195.8L1093.4,1195.8L1096.7,1195.7L1100.0,1195.6L1103.3,1195.3L1106.6,1194.9L1109.8,1194.4L1113.1,1193.8L1116.3,1193.2L1119.6,1192.4L1122.8,1191.7L1126.1,1191.0L1129.3,1190.3L1132.6,1189.6L1135.8,1189.0L1139.1,1188.5L1142.3,1188.1L1145.5,1187.7L1148.6,1187.3L1151.7,1186.9L1154.7,1186.6L1157.8,1186.3L1161.0,1186.0L1164.2,1185.7L1167.5,1185.5L1170.9,1185.2L1174.5,1184.9L1178.2,1184.6L1182.1,1184.3L1186.3,1184.0L1190.6,1183.6L1195.1,1183.3L1199.6,1182.9L1204.2,1182.6L1208.9,1182.3L1213.4,1182.0L1217.9,1181.8L1222.2,1181.6L1226.4,1181.4L1230.3,1181.3L1234.0,1181.2L1237.7,1181.2L1241.2,1181.3L1244.6,1181.3L1247.9,1181.4L1251.2,1181.6L1254.4,1181.7L1257.5,1181.9L1260.5,1182.1L1263.5,1182.2L1266.5,1182.4L1269.4,1182.6L1272.2,1182.8L1274.9,1183.0L1277.4,1183.3L1279.9,1183.5L1282.3,1183.8L1284.6,1184.1L1287.0,1184.4L1289.4,1184.6L1291.9,1184.9L1294.5,1185.1L1297.1,1185.3L1300.0,1185.5L1303.0,1185.7L1306.2,1185.8L1309.5,1185.9L1312.9,1186.1L1316.3,1186.2L1319.8,1186.3L1323.3,1186.3L1326.8,1186.4L1330.2,1186.4L1333.6,1186.4L1336.9,1186.4L1340.0,1186.3L1343.1,1186.2L1346.1,1186.0L1349.1,1185.9L1352.1,1185.6L1355.0,1185.4L1357.9,1185.1L1360.7,1184.9L1363.5,1184.6L1366.2,1184.3L1368.8,1183.9L1371.4,1183.6L1373.9,1183.3L1376.3,1183.0L1378.7,1182.7L1381.0,1182.3L1383.3,1182.0L1385.5,1181.7L1387.7,1181.3L1389.7,1180.9L1391.8,1180.6L1393.7,1180.1L1395.7,1179.7L1397.5,1179.2L1399.3,1178.7L1401.0,1178.2L1402.6,1177.6L1404.1,1177.0L1405.6,1176.3L1406.9,1175.7L1408.3,1175.0L1409.6,1174.3L1410.9,1173.6L1412.2,1172.8L1413.5,1172.1L1414.8,1171.4L1416.2,1170.6L1417.6,1169.8L1418.9,1169.1L1420.3,1168.3L1421.6,1167.6L1422.9,1166.8L1424.2,1166.0L1425.6,1165.2L1427.0,1164.3L1428.4,1163.4L1429.9,1162.5L1431.5,1161.5L1433.1,1160.5L1434.9,1159.4L1436.9,1158.1L1439.1,1156.7L1441.4,1155.2L1443.7,1153.7L1446.0,1152.2L1448.3,1150.8L1450.4,1149.4L1452.4,1148.1L1454.1,1146.9L1455.6,1146.0L1456.8,1145.2L1456.8,1213.0L1455.9,1212.8L1454.8,1212.5L1453.6,1212.2L1452.2,1211.9L1450.7,1211.5L1449.0,1211.1L1447.3,1210.7L1445.3,1210.4L1443.3,1210.0L1441.1,1209.6L1438.8,1209.3L1436.4,1209.1L1433.8,1208.9L1431.0,1208.7L1427.9,1208.5L1424.8,1208.4L1421.4,1208.2L1418.0,1208.1L1414.5,1208.0L1411.0,1207.9L1407.5,1207.9L1404.0,1207.8L1400.6,1207.8L1397.3,1207.8L1394.1,1207.8L1391.0,1207.9L1388.0,1207.9L1385.0,1208.0L1382.0,1208.2L1378.9,1208.3L1375.8,1208.4L1372.6,1208.6L1369.3,1208.7L1365.8,1208.8L1362.1,1209.0L1358.2,1209.1L1353.9,1209.2L1349.3,1209.4L1344.3,1209.5L1339.2,1209.7L1333.9,1209.9L1328.6,1210.0L1323.3,1210.2L1318.1,1210.3L1313.1,1210.4L1308.3,1210.5L1303.9,1210.5L1300.0,1210.5L1296.5,1210.4L1293.4,1210.3L1290.6,1210.1L1288.1,1209.9L1285.7,1209.7L1283.5,1209.5L1281.4,1209.2L1279.2,1208.9L1277.0,1208.7L1274.7,1208.4L1272.2,1208.2L1269.4,1208.0L1266.5,1207.8L1263.5,1207.6L1260.5,1207.4L1257.5,1207.2L1254.4,1207.0L1251.2,1206.8L1247.9,1206.6L1244.6,1206.4L1241.2,1206.3L1237.7,1206.2L1234.0,1206.1L1230.3,1206.1L1226.4,1206.1L1222.2,1206.2L1217.9,1206.2L1213.4,1206.3L1208.9,1206.5L1204.2,1206.6L1199.6,1206.8L1195.1,1207.0L1190.6,1207.2L1186.3,1207.4L1182.1,1207.7L1178.2,1208.0L1174.5,1208.3L1170.9,1208.6L1167.5,1209.0L1164.2,1209.4L1161.0,1209.8L1157.8,1210.2L1154.7,1210.6L1151.7,1211.1L1148.6,1211.6L1145.5,1212.1L1142.3,1212.6L1139.1,1213.2L1135.8,1213.8L1132.6,1214.4L1129.3,1215.0L1126.1,1215.6L1122.8,1216.2L1119.6,1216.9L1116.3,1217.6L1113.1,1218.3L1109.8,1219.1L1106.6,1219.9L1103.3,1220.8L1100.0,1221.7L1096.7,1222.7L1093.4,1223.7L1090.1,1224.8L1086.8,1226.0L1083.5,1227.2L1080.1,1228.4L1076.8,1229.6L1073.5,1230.8L1070.2,1232.1L1066.9,1233.3L1063.6,1234.5L1060.3,1235.6L1057.0,1236.7L1053.7,1237.8L1050.4,1238.9L1047.1,1239.9L1043.8,1240.9L1040.5,1242.0L1037.2,1243.0L1033.9,1244.1L1030.7,1245.2L1027.5,1246.3L1024.3,1247.4L1021.2,1248.6L1018.0,1249.9L1014.7,1251.2L1011.3,1252.7L1007.8,1254.2L1004.4,1255.7L1001.1,1257.2L997.9,1258.7L994.8,1260.1L992.1,1261.3L989.6,1262.5L987.5,1263.4L985.8,1264.2Z" fill="#999999" fill-opacity="0.36"/>
<g stroke-width="0.5"><line x1="1311.0" y1="969.4" x2="1311.0" y2="971.2" stroke="#00B9E2"/><line x1="1229.6" y1="992.9" x2="1229.6" y2="994.6" stroke="#D49200"/><line x1="1347.4" y1="1025.0" x2="1347.1" y2="1027.0" stroke="#B2A100"/><line x1="1271.8" y1="1046.1" x2="1271.8" y2="1048.1" stroke="#6DB100"/><line x1="1116.6" y1="1086.7" x2="1116.6" y2="1088.4" stroke="#00AEF9"/><line x1="1237.1" y1="1085.5" x2="1237.1" y2="1087.7" stroke="#DD8D00"/><line x1="1377.0" y1="1089.4" x2="1377.0" y2="1091.5" stroke="#D973FC"/><line x1="1407.0" y1="1101.2" x2="1407.0" y2="1103.9" stroke="#FF689E"/><line x1="1389.0" y1="1108.4" x2="1399.2" y2="1108.4" stroke="#FF67A2"/><line x1="1415.0" y1="1112.2" x2="1415.0" y2="1119.8" stroke="#00C19D"/><line x1="1213.6" y1="1120.6" x2="1213.6" y2="1122.3" stroke="#00BF7F"/><line x1="1155.3" y1="1122.1" x2="1165.4" y2="1133.6" stroke="#D575FE"/><line x1="1384.4" y1="1122.5" x2="1384.4" y2="1137.5" stroke="#00BB4C"/><line x1="1418.1" y1="1122.2" x2="1417.3" y2="1124.7" stroke="#00C08E"/><line x1="1288.9" y1="1125.5" x2="1288.9" y2="1140.1" stroke="#FF61C1"/><line x1="1258.4" y1="1125.8" x2="1264.6" y2="1136.8" stroke="#00BCD6"/><line x1="1317.0" y1="1126.8" x2="1316.4" y2="1137.5" stroke="#00A6FF"/><line x1="1364.9" y1="1125.5" x2="1367.6" y2="1132.0" stroke="#00BBDB"/><line x1="1171.2" y1="1127.3" x2="1171.2" y2="1139.3" stroke="#00BE72"/><line x1="1381.2" y1="1132.7" x2="1381.2" y2="1142.7" stroke="#D98F00"/><line x1="1420.3" y1="1128.9" x2="1410.1" y2="1128.9" stroke="#BA9E00"/><line x1="1448.6" y1="1128.8" x2="1409.8" y2="1128.8" stroke="#FF6A97"/><line x1="1265.0" y1="1134.7" x2="1265.0" y2="1136.4" stroke="#00B8E5"/><line x1="1248.2" y1="1135.0" x2="1250.4" y2="1135.0" stroke="#6A9AFF"/><line x1="1298.8" y1="1136.6" x2="1298.8" y2="1148.8" stroke="#9FA700"/><line x1="1189.4" y1="1137.5" x2="1189.4" y2="1151.6" stroke="#00BD5C"/><line x1="1345.7" y1="1137.7" x2="1345.7" y2="1144.0" stroke="#F564E3"/><line x1="1369.4" y1="1143.1" x2="1369.4" y2="1144.9" stroke="#00BC56"/><line x1="1393.7" y1="1143.0" x2="1391.8" y2="1143.4" stroke="#90AA00"/><line x1="1106.1" y1="1137.9" x2="1106.1" y2="1136.2" stroke="#7B97FF"/><line x1="1162.6" y1="1145.3" x2="1190.0" y2="1166.4" stroke="#FE61CD"/><line x1="1304.2" y1="1146.8" x2="1305.0" y2="1168.7" stroke="#7398FF"/><line x1="1222.0" y1="1147.9" x2="1222.0" y2="1175.1" stroke="#00B7E7"/><line x1="1262.0" y1="1146.6" x2="1262.0" y2="1159.1" stroke="#00BE6A"/><line x1="1334.9" y1="1149.0" x2="1334.9" y2="1170.3" stroke="#E6870D"/><line x1="1389.0" y1="1154.1" x2="1384.5" y2="1161.3" stroke="#A28BFF"/><line x1="1143.8" y1="1156.4" x2="1143.8" y2="1159.1" stroke="#D79000"/><line x1="1247.4" y1="1156.4" x2="1247.4" y2="1161.4" stroke="#00AFF8"/><line x1="1280.0" y1="1157.0" x2="1280.0" y2="1174.1" stroke="#C77CFF"/><line x1="1428.1" y1="1156.8" x2="1400.7" y2="1181.4" stroke="#00ABFC"/><line x1="1482.5" y1="1157.4" x2="1427.8" y2="1187.6" stroke="#00ADFB"/><line x1="1338.0" y1="1158.8" x2="1338.0" y2="1167.1" stroke="#619CFF"/><line x1="1375.0" y1="1158.5" x2="1375.0" y2="1169.1" stroke="#E7851E"/><line x1="1212.9" y1="1161.0" x2="1212.9" y2="1170.9" stroke="#00BBDD"/><line x1="1129.1" y1="1166.4" x2="1142.9" y2="1168.1" stroke="#FD6F87"/><line x1="1168.9" y1="1166.4" x2="1180.1" y2="1169.0" stroke="#00C1AB"/><line x1="1225.9" y1="1166.8" x2="1225.9" y2="1175.1" stroke="#CF78FF"/><line x1="1262.0" y1="1166.8" x2="1262.0" y2="1179.1" stroke="#CE9500"/><line x1="1455.7" y1="1167.2" x2="1434.7" y2="1185.4" stroke="#00B7E9"/><line x1="1418.8" y1="1167.5" x2="1408.1" y2="1174.0" stroke="#20B700"/><line x1="1290.0" y1="1168.5" x2="1290.0" y2="1179.1" stroke="#F166E8"/><line x1="1318.0" y1="1168.5" x2="1318.0" y2="1171.1" stroke="#FF6D8F"/><line x1="1342.0" y1="1169.2" x2="1342.0" y2="1171.1" stroke="#FF62BA"/><line x1="1396.7" y1="1168.5" x2="1396.7" y2="1171.9" stroke="#EC823B"/><line x1="1142.3" y1="1169.5" x2="1156.0" y2="1169.5" stroke="#E48800"/><line x1="1210.3" y1="1175.9" x2="1213.6" y2="1179.3" stroke="#FF65AD"/><line x1="1248.0" y1="1176.8" x2="1249.9" y2="1194.1" stroke="#FF62BE"/><line x1="1430.5" y1="1177.6" x2="1426.7" y2="1181.0" stroke="#FA62D9"/><line x1="1462.5" y1="1177.2" x2="1440.6" y2="1177.2" stroke="#AC88FF"/><line x1="1272.0" y1="1178.9" x2="1272.0" y2="1189.1" stroke="#ACA300"/><line x1="1300.0" y1="1178.7" x2="1300.0" y2="1189.1" stroke="#00C0BB"/><line x1="1410.1" y1="1179.2" x2="1408.5" y2="1181.3" stroke="#00C096"/><line x1="1318.0" y1="1180.9" x2="1318.0" y2="1184.1" stroke="#00C1A1"/><line x1="1348.0" y1="1180.8" x2="1348.0" y2="1183.1" stroke="#9C8DFF"/><line x1="1380.0" y1="1180.0" x2="1380.0" y2="1185.1" stroke="#A2A600"/><line x1="1002.6" y1="1175.2" x2="1004.0" y2="1177.3" stroke="#00BCD8"/><line x1="1118.7" y1="1186.7" x2="1126.0" y2="1189.0" stroke="#00BE6E"/><line x1="1145.0" y1="1186.2" x2="1145.0" y2="1204.1" stroke="#BD9D00"/><line x1="1199.0" y1="1186.0" x2="1209.5" y2="1202.2" stroke="#45B500"/><line x1="1232.7" y1="1186.2" x2="1244.5" y2="1204.2" stroke="#F962DC"/><line x1="1272.0" y1="1188.8" x2="1272.0" y2="1199.1" stroke="#00BC51"/><line x1="1062.2" y1="1186.9" x2="1062.2" y2="1201.1" stroke="#00BD65"/><line x1="1094.8" y1="1189.3" x2="1099.1" y2="1204.1" stroke="#FF61C4"/><line x1="1435.4" y1="1187.5" x2="1433.3" y2="1188.1" stroke="#80AD00"/><line x1="1468.3" y1="1187.4" x2="1430.9" y2="1191.9" stroke="#DE8C00"/><line x1="1304.0" y1="1189.4" x2="1304.0" y2="1192.1" stroke="#FF63B4"/><line x1="1330.0" y1="1191.2" x2="1330.0" y2="1199.1" stroke="#E28900"/><line x1="1362.0" y1="1191.2" x2="1362.0" y2="1199.1" stroke="#00BB46"/><line x1="1032.3" y1="1197.3" x2="1032.3" y2="1210.6" stroke="#84AD00"/><line x1="1086.8" y1="1198.6" x2="1093.4" y2="1201.4" stroke="#00BECD"/><line x1="1100.7" y1="1199.4" x2="1100.7" y2="1204.1" stroke="#00B927"/><line x1="1127.0" y1="1196.7" x2="1127.0" y2="1199.1" stroke="#ED68ED"/><line x1="1165.0" y1="1196.5" x2="1165.0" y2="1204.1" stroke="#00C0BE"/><line x1="1218.0" y1="1196.2" x2="1218.0" y2="1199.1" stroke="#62B200"/><line x1="1240.0" y1="1196.2" x2="1240.0" y2="1199.1" stroke="#00B0F6"/><line x1="1258.0" y1="1199.1" x2="1258.0" y2="1204.1" stroke="#00C08B"/><line x1="1290.0" y1="1199.5" x2="1290.0" y2="1204.1" stroke="#00C19A"/><line x1="1417.5" y1="1197.7" x2="1414.7" y2="1197.7" stroke="#F37B59"/><line x1="1475.5" y1="1197.8" x2="1435.9" y2="1200.0" stroke="#00BA38"/><line x1="1312.0" y1="1200.3" x2="1312.0" y2="1204.1" stroke="#77AF00"/><line x1="1335.0" y1="1200.6" x2="1335.0" y2="1204.1" stroke="#C37EFF"/><line x1="1001.2" y1="1204.6" x2="1050.3" y2="1210.1" stroke="#00BD60"/><line x1="1158.0" y1="1206.7" x2="1158.0" y2="1211.1" stroke="#00BAE0"/><line x1="1190.0" y1="1206.4" x2="1190.0" y2="1211.1" stroke="#00BA3F"/><line x1="1195.0" y1="1202.9" x2="1195.0" y2="1200.9" stroke="#FD7083"/><line x1="1235.0" y1="1209.0" x2="1235.0" y2="1211.1" stroke="#00B6EC"/><line x1="1262.0" y1="1209.3" x2="1262.0" y2="1211.1" stroke="#D09400"/><line x1="1116.0" y1="1209.4" x2="1116.0" y2="1211.1" stroke="#9BA700"/><line x1="963.4" y1="1209.5" x2="984.5" y2="1209.5" stroke="#B4A000"/><line x1="1048.1" y1="1208.5" x2="1060.7" y2="1209.7" stroke="#00BFC1"/><line x1="1426.6" y1="1206.5" x2="1425.0" y2="1206.5" stroke="#00BECA"/><line x1="1465.3" y1="1202.0" x2="1432.9" y2="1202.0" stroke="#FB61D6"/><line x1="1504.2" y1="1203.0" x2="1436.9" y2="1203.0" stroke="#00BF7B"/><line x1="1360.0" y1="1211.0" x2="1360.0" y2="1213.1" stroke="#00BF77"/><line x1="1150.0" y1="1218.1" x2="1150.0" y2="1221.1" stroke="#00A7FF"/><line x1="1168.0" y1="1217.7" x2="1168.0" y2="1221.1" stroke="#00C1A8"/><line x1="1240.0" y1="1220.3" x2="1240.0" y2="1223.1" stroke="#8295FF"/><line x1="1275.0" y1="1221.0" x2="1275.0" y2="1223.1" stroke="#5BB300"/><line x1="1112.0" y1="1220.9" x2="1112.0" y2="1223.1" stroke="#F27D54"/><line x1="1064.7" y1="1217.4" x2="1065.8" y2="1215.5" stroke="#E46DF5"/><line x1="1006.9" y1="1222.8" x2="1010.5" y2="1222.8" stroke="#F365E6"/><line x1="1404.8" y1="1216.0" x2="1375.9" y2="1216.0" stroke="#00C092"/><line x1="1423.2" y1="1218.0" x2="1395.9" y2="1218.0" stroke="#EB69EF"/><line x1="1446.0" y1="1214.0" x2="1400.9" y2="1214.0" stroke="#FF6C93"/><line x1="1333.9" y1="1224.7" x2="1315.9" y2="1225.9" stroke="#00C1A4"/><line x1="1170.0" y1="1225.3" x2="1170.0" y2="1222.9" stroke="#C29B00"/><line x1="1343.8" y1="1226.1" x2="1336.6" y2="1216.8" stroke="#F07E4E"/><line x1="1418.6" y1="1223.4" x2="1355.3" y2="1215.5" stroke="#A789FF"/><line x1="1439.2" y1="1223.4" x2="1364.8" y2="1215.5" stroke="#E76CF3"/><line x1="1474.7" y1="1223.1" x2="1375.6" y2="1215.4" stroke="#EB8333"/><line x1="1013.0" y1="1228.7" x2="1018.1" y2="1225.4" stroke="#C49900"/><line x1="1320.5" y1="1229.3" x2="1305.9" y2="1229.0" stroke="#F77768"/><line x1="1125.0" y1="1233.1" x2="1125.0" y2="1230.9" stroke="#A8A400"/><line x1="1190.0" y1="1233.5" x2="1190.0" y2="1221.1" stroke="#89AC00"/><line x1="1155.0" y1="1235.4" x2="1155.0" y2="1221.3" stroke="#00AAFE"/><line x1="1245.0" y1="1233.5" x2="1245.0" y2="1221.1" stroke="#FC61D3"/><line x1="1275.0" y1="1234.1" x2="1275.0" y2="1221.1" stroke="#FE6E8B"/><line x1="1295.0" y1="1234.3" x2="1295.0" y2="1221.2" stroke="#E9842A"/><line x1="1347.9" y1="1236.5" x2="1330.5" y2="1219.3" stroke="#4B9FFF"/><line x1="1386.1" y1="1233.3" x2="1345.3" y2="1218.2" stroke="#E96AF1"/><line x1="1424.4" y1="1233.8" x2="1358.9" y2="1218.2" stroke="#00BDD3"/><line x1="1448.9" y1="1233.1" x2="1376.6" y2="1218.0" stroke="#FD61D0"/><line x1="1044.4" y1="1236.0" x2="1044.4" y2="1232.3" stroke="#00B3F2"/><line x1="1083.7" y1="1236.3" x2="1083.7" y2="1226.7" stroke="#00BDD0"/><line x1="1016.3" y1="1239.1" x2="1016.3" y2="1228.9" stroke="#C79800"/><line x1="1118.3" y1="1243.0" x2="1118.3" y2="1226.0" stroke="#BF80FF"/><line x1="1185.0" y1="1244.6" x2="1185.0" y2="1222.2" stroke="#00B2F4"/><line x1="1211.4" y1="1243.9" x2="1210.1" y2="1222.1" stroke="#67B100"/><line x1="1255.0" y1="1244.3" x2="1255.0" y2="1222.2" stroke="#FC717F"/><line x1="1285.0" y1="1243.1" x2="1285.0" y2="1222.0" stroke="#FF64B0"/><line x1="1320.0" y1="1243.7" x2="1320.0" y2="1222.1" stroke="#00B931"/><line x1="1401.9" y1="1243.7" x2="1350.3" y2="1220.8" stroke="#4DB400"/><line x1="1430.4" y1="1244.1" x2="1362.3" y2="1220.9" stroke="#D277FF"/><line x1="1467.5" y1="1243.7" x2="1372.8" y2="1220.7" stroke="#DF70F9"/><line x1="1368.9" y1="1249.1" x2="1339.0" y2="1222.4" stroke="#C99700"/><line x1="1066.2" y1="1251.3" x2="1066.2" y2="1234.9" stroke="#3CB600"/><line x1="1110.0" y1="1253.2" x2="1110.0" y2="1240.9" stroke="#FF699B"/><line x1="1160.0" y1="1254.7" x2="1160.0" y2="1223.2" stroke="#00C0B5"/><line x1="1200.0" y1="1254.3" x2="1200.0" y2="1223.2" stroke="#00B4F0"/><line x1="1248.0" y1="1253.7" x2="1248.0" y2="1223.1" stroke="#00C083"/><line x1="1278.0" y1="1254.3" x2="1278.0" y2="1223.2" stroke="#94A900"/><line x1="1298.1" y1="1254.1" x2="1296.1" y2="1223.1" stroke="#AFA200"/><line x1="1325.1" y1="1254.1" x2="1325.1" y2="1224.0" stroke="#00A4FF"/><line x1="1420.1" y1="1253.8" x2="1355.9" y2="1223.4" stroke="#00C0B8"/><line x1="1442.6" y1="1259.9" x2="1365.4" y2="1224.9" stroke="#00BFC7"/><line x1="1367.4" y1="1260.9" x2="1340.2" y2="1225.5" stroke="#00B5EE"/><line x1="1404.2" y1="1263.5" x2="1350.9" y2="1225.9" stroke="#98A800"/><line x1="1043.1" y1="1261.0" x2="1050.7" y2="1249.4" stroke="#F8766D"/><line x1="1098.5" y1="1263.9" x2="1099.9" y2="1250.9" stroke="#FF61C7"/><line x1="1125.0" y1="1263.8" x2="1125.0" y2="1252.9" stroke="#FB727A"/><line x1="1150.0" y1="1264.4" x2="1150.0" y2="1252.9" stroke="#7CAE00"/><line x1="1183.2" y1="1265.1" x2="1189.9" y2="1224.2" stroke="#F863DE"/><line x1="1233.0" y1="1263.8" x2="1233.0" y2="1224.1" stroke="#00C0B2"/><line x1="1265.0" y1="1263.4" x2="1265.0" y2="1224.1" stroke="#9091FF"/><line x1="1296.0" y1="1263.9" x2="1296.0" y2="1224.1" stroke="#FF61CA"/><line x1="1318.0" y1="1264.3" x2="1318.0" y2="1224.2" stroke="#00BFC4"/><line x1="1333.9" y1="1264.5" x2="1327.5" y2="1226.6" stroke="#E16EF7"/><line x1="1450.2" y1="1270.1" x2="1373.3" y2="1227.5" stroke="#BA82FF"/><line x1="1125.0" y1="1273.5" x2="1125.0" y2="1255.9" stroke="#BF9C00"/><line x1="1225.0" y1="1273.9" x2="1225.0" y2="1225.1" stroke="#72B000"/><line x1="1253.6" y1="1273.9" x2="1264.8" y2="1225.1" stroke="#F67963"/><line x1="1276.7" y1="1273.9" x2="1279.9" y2="1225.1" stroke="#FF63B7"/><line x1="1290.0" y1="1274.3" x2="1290.0" y2="1225.2" stroke="#00C087"/><line x1="1310.0" y1="1274.3" x2="1310.0" y2="1225.2" stroke="#B186FF"/><line x1="1330.1" y1="1274.3" x2="1330.1" y2="1229.0" stroke="#D29300"/><line x1="1390.5" y1="1274.3" x2="1346.3" y2="1228.8" stroke="#FF67A6"/><line x1="1422.5" y1="1273.6" x2="1357.5" y2="1228.5" stroke="#E08A00"/></g>
<g><circle cx="1272.8" cy="906.9" r="0.85" fill="#8993FF"/><circle cx="1311.0" cy="972.1" r="0.85" fill="#00B9E2"/><circle cx="1229.6" cy="995.5" r="0.85" fill="#D49200"/><circle cx="1346.9" cy="1027.9" r="0.85" fill="#B2A100"/><circle cx="1271.8" cy="1049.0" r="0.85" fill="#6DB100"/><circle cx="1116.6" cy="1089.3" r="0.85" fill="#00AEF9"/><circle cx="1237.1" cy="1088.6" r="0.85" fill="#DD8D00"/><circle cx="1377.0" cy="1092.4" r="0.85" fill="#D973FC"/><circle cx="1407.0" cy="1104.8" r="0.85" fill="#FF689E"/><circle cx="1400.1" cy="1108.4" r="0.85" fill="#FF67A2"/><circle cx="1415.0" cy="1120.7" r="0.85" fill="#00C19D"/><circle cx="1213.6" cy="1123.2" r="0.85" fill="#00BF7F"/><circle cx="1166.0" cy="1134.3" r="0.85" fill="#D575FE"/><circle cx="1384.4" cy="1138.4" r="0.85" fill="#00BB4C"/><circle cx="1417.0" cy="1125.6" r="0.85" fill="#00C08E"/><circle cx="1288.9" cy="1141.0" r="0.85" fill="#FF61C1"/><circle cx="1265.0" cy="1137.6" r="0.85" fill="#00BCD6"/><circle cx="1316.3" cy="1138.4" r="0.85" fill="#00A6FF"/><circle cx="1367.9" cy="1132.8" r="0.85" fill="#00BBDB"/><circle cx="1171.2" cy="1140.2" r="0.85" fill="#00BE72"/><circle cx="1381.2" cy="1143.6" r="0.85" fill="#D98F00"/><circle cx="1409.2" cy="1128.9" r="0.85" fill="#BA9E00"/><circle cx="1408.9" cy="1128.8" r="0.85" fill="#FF6A97"/><circle cx="1265.0" cy="1137.3" r="0.85" fill="#00B8E5"/><circle cx="1251.3" cy="1135.0" r="0.85" fill="#6A9AFF"/><circle cx="1298.8" cy="1149.7" r="0.85" fill="#9FA700"/><circle cx="1189.4" cy="1152.5" r="0.85" fill="#00BD5C"/><circle cx="1345.7" cy="1144.9" r="0.85" fill="#F564E3"/><circle cx="1369.4" cy="1145.8" r="0.85" fill="#00BC56"/><circle cx="1390.9" cy="1143.6" r="0.85" fill="#90AA00"/><circle cx="1416.3" cy="1145.0" r="0.85" fill="#CC9600"/><circle cx="1106.1" cy="1135.3" r="0.85" fill="#7B97FF"/><circle cx="1190.7" cy="1166.9" r="0.85" fill="#FE61CD"/><circle cx="1305.0" cy="1169.6" r="0.85" fill="#7398FF"/><circle cx="1222.0" cy="1176.0" r="0.85" fill="#00B7E7"/><circle cx="1262.0" cy="1160.0" r="0.85" fill="#00BE6A"/><circle cx="1334.9" cy="1171.2" r="0.85" fill="#E6870D"/><circle cx="1384.0" cy="1162.1" r="0.85" fill="#A28BFF"/><circle cx="1143.8" cy="1160.0" r="0.85" fill="#D79000"/><circle cx="1247.4" cy="1162.3" r="0.85" fill="#00AFF8"/><circle cx="1280.0" cy="1175.0" r="0.85" fill="#C77CFF"/><circle cx="1400.0" cy="1182.0" r="0.85" fill="#00ABFC"/><circle cx="1427.0" cy="1188.0" r="0.85" fill="#00ADFB"/><circle cx="1314.1" cy="1154.3" r="0.85" fill="#EF7F48"/><circle cx="1338.0" cy="1168.0" r="0.85" fill="#619CFF"/><circle cx="1375.0" cy="1170.0" r="0.85" fill="#E7851E"/><circle cx="1212.9" cy="1171.8" r="0.85" fill="#00BBDD"/><circle cx="1143.8" cy="1168.2" r="0.85" fill="#FD6F87"/><circle cx="1181.0" cy="1169.2" r="0.85" fill="#00C1AB"/><circle cx="1225.9" cy="1176.0" r="0.85" fill="#CF78FF"/><circle cx="1262.0" cy="1180.0" r="0.85" fill="#CE9500"/><circle cx="1434.0" cy="1186.0" r="0.85" fill="#00B7E9"/><circle cx="1407.3" cy="1174.5" r="0.85" fill="#20B700"/><circle cx="1290.0" cy="1180.0" r="0.85" fill="#F166E8"/><circle cx="1318.0" cy="1172.0" r="0.85" fill="#FF6D8F"/><circle cx="1342.0" cy="1172.0" r="0.85" fill="#FF62BA"/><circle cx="1365.0" cy="1172.0" r="0.85" fill="#29A3FF"/><circle cx="1396.7" cy="1172.8" r="0.85" fill="#EC823B"/><circle cx="1156.9" cy="1169.5" r="0.85" fill="#E48800"/><circle cx="1165.3" cy="1176.0" r="0.85" fill="#579EFF"/><circle cx="1214.2" cy="1179.9" r="0.85" fill="#FF65AD"/><circle cx="1250.0" cy="1195.0" r="0.85" fill="#FF62BE"/><circle cx="1426.0" cy="1181.6" r="0.85" fill="#FA62D9"/><circle cx="1439.7" cy="1177.2" r="0.85" fill="#AC88FF"/><circle cx="1272.0" cy="1190.0" r="0.85" fill="#ACA300"/><circle cx="1300.0" cy="1190.0" r="0.85" fill="#00C0BB"/><circle cx="1408.0" cy="1182.0" r="0.85" fill="#00C096"/><circle cx="1318.0" cy="1185.0" r="0.85" fill="#00C1A1"/><circle cx="1348.0" cy="1184.0" r="0.85" fill="#9C8DFF"/><circle cx="1380.0" cy="1186.0" r="0.85" fill="#A2A600"/><circle cx="1004.5" cy="1178.0" r="0.85" fill="#00BCD8"/><circle cx="1126.9" cy="1189.3" r="0.85" fill="#00BE6E"/><circle cx="1145.0" cy="1205.0" r="0.85" fill="#BD9D00"/><circle cx="1210.0" cy="1203.0" r="0.85" fill="#45B500"/><circle cx="1245.0" cy="1205.0" r="0.85" fill="#F962DC"/><circle cx="1272.0" cy="1200.0" r="0.85" fill="#00BC51"/><circle cx="1062.2" cy="1202.0" r="0.85" fill="#00BD65"/><circle cx="1099.4" cy="1205.0" r="0.85" fill="#FF61C4"/><circle cx="1432.4" cy="1188.4" r="0.85" fill="#80AD00"/><circle cx="1430.0" cy="1192.0" r="0.85" fill="#DE8C00"/><circle cx="1304.0" cy="1193.0" r="0.85" fill="#FF63B4"/><circle cx="1395.0" cy="1192.0" r="0.85" fill="#00C0AE"/><circle cx="1330.0" cy="1200.0" r="0.85" fill="#E28900"/><circle cx="1362.0" cy="1200.0" r="0.85" fill="#00BB46"/><circle cx="1032.3" cy="1211.5" r="0.85" fill="#84AD00"/><circle cx="1094.2" cy="1201.7" r="0.85" fill="#00BECD"/><circle cx="1100.7" cy="1205.0" r="0.85" fill="#00B927"/><circle cx="1127.0" cy="1200.0" r="0.85" fill="#ED68ED"/><circle cx="1165.0" cy="1205.0" r="0.85" fill="#00C0BE"/><circle cx="1218.0" cy="1200.0" r="0.85" fill="#62B200"/><circle cx="1240.0" cy="1200.0" r="0.85" fill="#00B0F6"/><circle cx="1258.0" cy="1205.0" r="0.85" fill="#00C08B"/><circle cx="1290.0" cy="1205.0" r="0.85" fill="#00C19A"/><circle cx="1413.8" cy="1197.7" r="0.85" fill="#F37B59"/><circle cx="1445.6" cy="1191.9" r="0.85" fill="#3CA1FF"/><circle cx="1435.0" cy="1200.0" r="0.85" fill="#00BA38"/><circle cx="1312.0" cy="1205.0" r="0.85" fill="#77AF00"/><circle cx="1335.0" cy="1205.0" r="0.85" fill="#C37EFF"/><circle cx="1380.0" cy="1200.0" r="0.85" fill="#8DAB00"/><circle cx="1051.2" cy="1210.2" r="0.85" fill="#00BD60"/><circle cx="1158.0" cy="1212.0" r="0.85" fill="#00BAE0"/><circle cx="1190.0" cy="1212.0" r="0.85" fill="#00BA3F"/><circle cx="1195.0" cy="1200.0" r="0.85" fill="#FD7083"/><circle cx="1235.0" cy="1212.0" r="0.85" fill="#00B6EC"/><circle cx="1262.0" cy="1212.0" r="0.85" fill="#D09400"/><circle cx="1292.0" cy="1212.0" r="0.85" fill="#EE8042"/><circle cx="1116.0" cy="1212.0" r="0.85" fill="#9BA700"/><circle cx="985.4" cy="1209.5" r="0.85" fill="#B4A000"/><circle cx="1061.6" cy="1209.8" r="0.85" fill="#00BFC1"/><circle cx="1083.1" cy="1207.2" r="0.85" fill="#DC72FB"/><circle cx="1424.1" cy="1206.5" r="0.85" fill="#00BECA"/><circle cx="1432.0" cy="1202.0" r="0.85" fill="#FB61D6"/><circle cx="1436.0" cy="1203.0" r="0.85" fill="#00BF7B"/><circle cx="1392.8" cy="1204.1" r="0.85" fill="#00B709"/><circle cx="1302.0" cy="1213.0" r="0.85" fill="#F47A5E"/><circle cx="1360.0" cy="1214.0" r="0.85" fill="#00BF77"/><circle cx="1335.0" cy="1214.0" r="0.85" fill="#B684FF"/><circle cx="1032.3" cy="1211.5" r="0.85" fill="#B79F00"/><circle cx="1150.0" cy="1222.0" r="0.85" fill="#00A7FF"/><circle cx="1168.0" cy="1222.0" r="0.85" fill="#00C1A8"/><circle cx="1205.0" cy="1214.0" r="0.85" fill="#A5A500"/><circle cx="1240.0" cy="1224.0" r="0.85" fill="#8295FF"/><circle cx="1275.0" cy="1224.0" r="0.85" fill="#5BB300"/><circle cx="1112.0" cy="1224.0" r="0.85" fill="#F27D54"/><circle cx="1075.9" cy="1215.4" r="0.85" fill="#FF66A9"/><circle cx="1066.2" cy="1214.7" r="0.85" fill="#E46DF5"/><circle cx="1011.4" cy="1222.8" r="0.85" fill="#F365E6"/><circle cx="1380.0" cy="1215.0" r="0.85" fill="#968FFF"/><circle cx="1375.0" cy="1216.0" r="0.85" fill="#00C092"/><circle cx="1395.0" cy="1218.0" r="0.85" fill="#EB69EF"/><circle cx="1400.0" cy="1214.0" r="0.85" fill="#FF6C93"/><circle cx="1300.0" cy="1226.0" r="0.85" fill="#F663E1"/><circle cx="1315.0" cy="1226.0" r="0.85" fill="#00C1A4"/><circle cx="1140.0" cy="1228.0" r="0.85" fill="#FA7476"/><circle cx="1228.0" cy="1222.0" r="0.85" fill="#CB7AFF"/><circle cx="1255.0" cy="1222.0" r="0.85" fill="#00B81C"/><circle cx="1285.0" cy="1222.0" r="0.85" fill="#30B600"/><circle cx="1170.0" cy="1222.0" r="0.85" fill="#C29B00"/><circle cx="1336.0" cy="1216.1" r="0.85" fill="#F07E4E"/><circle cx="1354.4" cy="1215.4" r="0.85" fill="#A789FF"/><circle cx="1363.9" cy="1215.4" r="0.85" fill="#E76CF3"/><circle cx="1374.7" cy="1215.3" r="0.85" fill="#EB8333"/><circle cx="1083.7" cy="1225.8" r="0.85" fill="#DB8E00"/><circle cx="1096.8" cy="1223.8" r="0.85" fill="#55B300"/><circle cx="1018.9" cy="1224.9" r="0.85" fill="#C49900"/><circle cx="1305.0" cy="1229.0" r="0.85" fill="#F77768"/><circle cx="1125.0" cy="1230.0" r="0.85" fill="#A8A400"/><circle cx="1190.0" cy="1220.2" r="0.85" fill="#89AC00"/><circle cx="1155.0" cy="1220.4" r="0.85" fill="#00AAFE"/><circle cx="1245.0" cy="1220.2" r="0.85" fill="#FC61D3"/><circle cx="1275.0" cy="1220.2" r="0.85" fill="#FE6E8B"/><circle cx="1295.0" cy="1220.2" r="0.85" fill="#E9842A"/><circle cx="1329.9" cy="1218.7" r="0.85" fill="#4B9FFF"/><circle cx="1344.5" cy="1217.9" r="0.85" fill="#E96AF1"/><circle cx="1358.0" cy="1218.0" r="0.85" fill="#00BDD3"/><circle cx="1375.7" cy="1217.8" r="0.85" fill="#FD61D0"/><circle cx="1044.4" cy="1231.4" r="0.85" fill="#00B3F2"/><circle cx="1083.7" cy="1225.8" r="0.85" fill="#00BDD0"/><circle cx="1016.3" cy="1228.0" r="0.85" fill="#C79800"/><circle cx="1118.3" cy="1225.1" r="0.85" fill="#BF80FF"/><circle cx="1130.0" cy="1242.0" r="0.85" fill="#F97572"/><circle cx="1185.0" cy="1221.3" r="0.85" fill="#00B2F4"/><circle cx="1210.0" cy="1221.2" r="0.85" fill="#67B100"/><circle cx="1255.0" cy="1221.2" r="0.85" fill="#FC717F"/><circle cx="1285.0" cy="1221.1" r="0.85" fill="#FF64B0"/><circle cx="1320.0" cy="1221.2" r="0.85" fill="#00B931"/><circle cx="1349.5" cy="1220.5" r="0.85" fill="#4DB400"/><circle cx="1361.5" cy="1220.6" r="0.85" fill="#D277FF"/><circle cx="1371.9" cy="1220.5" r="0.85" fill="#DF70F9"/><circle cx="1338.3" cy="1221.8" r="0.85" fill="#C99700"/><circle cx="1066.2" cy="1234.0" r="0.85" fill="#3CB600"/><circle cx="1110.0" cy="1240.0" r="0.85" fill="#FF699B"/><circle cx="1160.0" cy="1222.3" r="0.85" fill="#00C0B5"/><circle cx="1200.0" cy="1222.2" r="0.85" fill="#00B4F0"/><circle cx="1248.0" cy="1222.2" r="0.85" fill="#00C083"/><circle cx="1278.0" cy="1222.2" r="0.85" fill="#94A900"/><circle cx="1296.0" cy="1222.2" r="0.85" fill="#AFA200"/><circle cx="1325.1" cy="1223.1" r="0.85" fill="#00A4FF"/><circle cx="1355.1" cy="1223.0" r="0.85" fill="#00C0B8"/><circle cx="1364.6" cy="1224.5" r="0.85" fill="#00BFC7"/><circle cx="1339.7" cy="1224.8" r="0.85" fill="#00B5EE"/><circle cx="1350.2" cy="1225.4" r="0.85" fill="#98A800"/><circle cx="1051.2" cy="1248.6" r="0.85" fill="#F8766D"/><circle cx="1100.0" cy="1250.0" r="0.85" fill="#FF61C7"/><circle cx="1125.0" cy="1252.0" r="0.85" fill="#FB727A"/><circle cx="1150.0" cy="1252.0" r="0.85" fill="#7CAE00"/><circle cx="1190.0" cy="1223.3" r="0.85" fill="#F863DE"/><circle cx="1233.0" cy="1223.2" r="0.85" fill="#00C0B2"/><circle cx="1265.0" cy="1223.2" r="0.85" fill="#9091FF"/><circle cx="1296.0" cy="1223.2" r="0.85" fill="#FF61CA"/><circle cx="1318.0" cy="1223.2" r="0.85" fill="#00BFC4"/><circle cx="1327.4" cy="1225.7" r="0.85" fill="#E16EF7"/><circle cx="1372.5" cy="1227.1" r="0.85" fill="#BA82FF"/><circle cx="1125.0" cy="1255.0" r="0.85" fill="#BF9C00"/><circle cx="1225.0" cy="1224.2" r="0.85" fill="#72B000"/><circle cx="1265.0" cy="1224.2" r="0.85" fill="#F67963"/><circle cx="1280.0" cy="1224.2" r="0.85" fill="#FF63B7"/><circle cx="1290.0" cy="1224.2" r="0.85" fill="#00C087"/><circle cx="1310.0" cy="1224.2" r="0.85" fill="#B186FF"/><circle cx="1330.1" cy="1228.1" r="0.85" fill="#D29300"/><circle cx="1345.6" cy="1228.1" r="0.85" fill="#FF67A6"/><circle cx="1356.8" cy="1228.0" r="0.85" fill="#E08A00"/></g>
<g class="lb" text-anchor="middle" font-size="6.5"><text x="1263.6" y="914.0" fill="#8993FF">Peru</text><text x="1319.2" y="968.5" fill="#00B9E2">Mauritius</text><text x="1238.3" y="992.0" fill="#D49200">Bolivia (Plurinational State of)</text><text x="1355.6" y="1024.0" fill="#B2A100">Chile</text><text x="1280.5" y="1045.2" fill="#6DB100">Ecuador</text><text x="1125.3" y="1085.8" fill="#00AEF9">Nepal</text><text x="1245.8" y="1084.5" fill="#DD8D00">Belize</text><text x="1368.1" y="1088.5" fill="#D973FC">Saudi Arabia</text><text x="1417.0" y="1100.2" fill="#FF689E">United Kingdom</text><text x="1357.5" y="1109.8" fill="#FF67A2">United Arab Emirates</text><text x="1424.5" y="1111.2" fill="#00C19D">Japan</text><text x="1217.9" y="1119.7" fill="#00BF7F">India</text><text x="1121.0" y="1121.2" fill="#D575FE">Sao Tome and Principe</text><text x="1396.2" y="1121.5" fill="#00BB4C">Greenland</text><text x="1428.8" y="1121.2" fill="#00C08E">Ireland</text><text x="1300.7" y="1124.5" fill="#FF61C1">Tokelau</text><text x="1244.8" y="1124.8" fill="#00BCD6">Maldives</text><text x="1324.5" y="1125.8" fill="#00A6FF">Niue</text><text x="1356.2" y="1124.5" fill="#00BBDB">Malta</text><text x="1173.5" y="1126.3" fill="#00BE72">Honduras</text><text x="1382.2" y="1131.8" fill="#D98F00">Bermuda</text><text x="1432.5" y="1131.7" fill="#BA9E00">Canada</text><text x="1485.2" y="1132.0" fill="#FF6A97">United States of America</text><text x="1273.7" y="1133.8" fill="#00B8E5">Mexico</text><text x="1234.0" y="1135.2" fill="#6A9AFF">Palestine</text><text x="1304.3" y="1135.7" fill="#9FA700">Costa Rica</text><text x="1188.1" y="1136.5" fill="#00BD5C">Guatemala</text><text x="1337.9" y="1136.8" fill="#F564E3">Spain</text><text x="1360.1" y="1142.2" fill="#00BC56">Guam</text><text x="1404.8" y="1142.0" fill="#90AA00">Cyprus</text><text x="1446.0" y="1143.0" fill="#CC9600">Brunei Darussalam</text><text x="1100.8" y="1143.3" fill="#7B97FF">Papua New Guinea</text><text x="1148.4" y="1144.3" fill="#FE61CD">Tajikistan</text><text x="1291.3" y="1145.8" fill="#7398FF">Panama</text><text x="1201.2" y="1147.0" fill="#00B7E7">Micronesia (Federated States of)</text><text x="1257.2" y="1145.7" fill="#00BE6A">Guyana</text><text x="1329.1" y="1148.0" fill="#E6870D">Bahrain</text><text x="1406.8" y="1153.2" fill="#A28BFF">Puerto Rico</text><text x="1134.7" y="1155.5" fill="#D79000">Bhutan</text><text x="1237.7" y="1155.5" fill="#00AFF8">Nauru</text><text x="1270.0" y="1156.0" fill="#C77CFF">Saint Lucia</text><text x="1448.0" y="1155.8" fill="#00ABFC">New Zealand</text><text x="1500.8" y="1156.5" fill="#00ADFB">Netherlands</text><text x="1298.0" y="1157.5" fill="#EF7F48">Argentina</text><text x="1344.0" y="1157.8" fill="#619CFF">Palau</text><text x="1371.4" y="1157.5" fill="#E7851E">Bahamas</text><text x="1197.9" y="1160.0" fill="#00BBDD">Marshall Islands</text><text x="1116.4" y="1165.5" fill="#FD6F87">Vanuatu</text><text x="1158.2" y="1165.5" fill="#00C1AB">Kiribati</text><text x="1224.0" y="1165.8" fill="#CF78FF">Samoa</text><text x="1253.3" y="1165.8" fill="#CE9500">Brazil</text><text x="1468.1" y="1166.2" fill="#00B7E9">Monaco</text><text x="1430.3" y="1166.5" fill="#20B700">Finland</text><text x="1283.2" y="1167.5" fill="#F166E8">South Africa</text><text x="1314.7" y="1167.5" fill="#FF6D8F">Uruguay</text><text x="1346.0" y="1168.2" fill="#FF62BA">Trinidad and Tobago</text><text x="1359.0" y="1168.8" fill="#29A3FF">Northern Mariana Islands</text><text x="1402.7" y="1167.5" fill="#EC823B">Australia</text><text x="1124.3" y="1175.0" fill="#E48800">Bangladesh</text><text x="1169.2" y="1175.0" fill="#579EFF">Pakistan</text><text x="1199.9" y="1175.0" fill="#FF65AD">Tuvalu</text><text x="1238.3" y="1175.8" fill="#FF62BE">Tonga</text><text x="1443.0" y="1176.7" fill="#FA62D9">Sweden</text><text x="1489.1" y="1176.5" fill="#AC88FF">Republic of Korea</text><text x="1265.0" y="1178.0" fill="#ACA300">Colombia</text><text x="1296.0" y="1177.8" fill="#00C0BB">Lebanon</text><text x="1416.9" y="1178.2" fill="#00C096">Italy</text><text x="1325.0" y="1180.0" fill="#00C1A1">Jordan</text><text x="1353.4" y="1179.8" fill="#9C8DFF">Portugal</text><text x="1384.6" y="1179.0" fill="#A2A600">Cook Islands</text><text x="995.8" y="1174.2" fill="#00BCD8">Mali</text><text x="1111.4" y="1185.8" fill="#00BE6E">Haiti</text><text x="1140.6" y="1185.2" fill="#BD9D00">Cameroon</text><text x="1186.1" y="1185.0" fill="#45B500">Eswatini</text><text x="1218.0" y="1185.2" fill="#F962DC">Suriname</text><text x="1269.0" y="1187.8" fill="#00BC51">Grenada</text><text x="1046.0" y="1186.0" fill="#00BD65">Guinea-Bissau</text><text x="1087.0" y="1188.3" fill="#FF61C4">Togo</text><text x="1449.4" y="1186.5" fill="#80AD00">Denmark</text><text x="1480.8" y="1186.5" fill="#DE8C00">Belgium</text><text x="1299.3" y="1188.5" fill="#FF63B4">Türkiye</text><text x="1404.5" y="1188.7" fill="#00C0AE">Kuwait</text><text x="1337.3" y="1190.2" fill="#E28900">Barbados</text><text x="1368.7" y="1190.2" fill="#00BB46">Greece</text><text x="1020.6" y="1196.3" fill="#84AD00">Democratic Republic of the Congo</text><text x="1068.1" y="1197.7" fill="#00BECD">Madagascar</text><text x="1102.0" y="1198.5" fill="#00B927">Gambia</text><text x="1133.3" y="1195.8" fill="#ED68ED">Solomon Islands</text><text x="1168.4" y="1195.5" fill="#00C0BE">Lesotho</text><text x="1201.6" y="1195.2" fill="#62B200">El Salvador</text><text x="1233.6" y="1195.2" fill="#00B0F6">Namibia</text><text x="1255.7" y="1198.2" fill="#00C08B">Iraq</text><text x="1283.7" y="1198.5" fill="#00C19A">Jamaica</text><text x="1429.9" y="1197.2" fill="#F37B59">Andorra</text><text x="1459.8" y="1196.8" fill="#3CA1FF">Norway</text><text x="1489.7" y="1196.8" fill="#00BA38">Germany</text><text x="1310.0" y="1199.3" fill="#77AF00">Dominica</text><text x="1339.9" y="1199.7" fill="#C37EFF">Saint Kitts and Nevis</text><text x="1388.0" y="1199.2" fill="#8DAB00">Czechia</text><text x="989.9" y="1203.7" fill="#00BD60">Guinea</text><text x="1153.4" y="1205.8" fill="#00BAE0">Mauritania</text><text x="1183.4" y="1205.5" fill="#00BA3F">Ghana</text><text x="1187.3" y="1208.3" fill="#FD7083">Venezuela (Bolivarian Republic of)</text><text x="1231.6" y="1208.0" fill="#00B6EC">Mongolia</text><text x="1259.6" y="1208.3" fill="#D09400">Botswana</text><text x="1289.6" y="1209.0" fill="#EE8042">Armenia</text><text x="1122.0" y="1208.5" fill="#9BA700">Côte d'Ivoire</text><text x="954.8" y="1209.8" fill="#B4A000">Chad</text><text x="1037.5" y="1207.5" fill="#00BFC1">Liberia</text><text x="1077.2" y="1209.5" fill="#DC72FB">Senegal</text><text x="1445.5" y="1208.5" fill="#00BECA">Luxembourg</text><text x="1482.9" y="1206.8" fill="#FB61D6">Switzerland</text><text x="1515.5" y="1206.8" fill="#00BF7B">Iceland</text><text x="1405.6" y="1208.5" fill="#00B709">France</text><text x="1306.1" y="1210.0" fill="#F47A5E">American Samoa</text><text x="1368.6" y="1210.0" fill="#00BF77">Hungary</text><text x="1332.1" y="1213.7" fill="#B684FF">Romania</text><text x="1002.3" y="1213.8" fill="#B79F00">Central African Republic</text><text x="1144.3" y="1217.2" fill="#00A7FF">Nigeria</text><text x="1169.7" y="1216.8" fill="#00C1A8">Kenya</text><text x="1193.2" y="1219.3" fill="#A5A500">Congo</text><text x="1234.9" y="1219.3" fill="#8295FF">Paraguay</text><text x="1273.3" y="1220.0" fill="#5BB300">Equatorial Guinea</text><text x="1117.8" y="1220.0" fill="#F27D54">Angola</text><text x="1088.3" y="1220.8" fill="#FF66A9">Uganda</text><text x="1045.3" y="1222.8" fill="#E46DF5">Sierra Leone</text><text x="987.3" y="1223.5" fill="#F365E6">South Sudan</text><text x="1389.4" y="1221.2" fill="#968FFF">Poland</text><text x="1413.5" y="1218.5" fill="#00C092">Israel</text><text x="1436.5" y="1218.7" fill="#EB69EF">Slovenia</text><text x="1486.7" y="1218.7" fill="#FF6C93">United States Virgin Islands</text><text x="1304.8" y="1224.3" fill="#F663E1">Sri Lanka</text><text x="1351.7" y="1223.8" fill="#00C1A4">Kazakhstan</text><text x="1145.6" y="1227.5" fill="#FA7476">Zambia</text><text x="1222.5" y="1229.8" fill="#CB7AFF">Saint Vincent and the Grenadines</text><text x="1260.9" y="1229.5" fill="#00B81C">Gabon</text><text x="1282.4" y="1229.5" fill="#30B600">Fiji</text><text x="1175.6" y="1230.8" fill="#C29B00">Cabo Verde</text><text x="1375.1" y="1231.5" fill="#F07E4E">Antigua and Barbuda</text><text x="1427.5" y="1228.8" fill="#A789FF">Qatar</text><text x="1454.8" y="1228.8" fill="#E76CF3">Singapore</text><text x="1485.6" y="1228.5" fill="#EB8333">Austria</text><text x="1077.9" y="1232.0" fill="#DB8E00">Benin</text><text x="1104.8" y="1231.7" fill="#55B300">Eritrea</text><text x="1001.0" y="1234.2" fill="#C49900">Burundi</text><text x="1332.1" y="1234.8" fill="#F77768">Albania</text><text x="1132.6" y="1238.5" fill="#A8A400">Comoros</text><text x="1183.4" y="1239.0" fill="#89AC00">Democratic People's Republic of Korea</text><text x="1159.9" y="1240.8" fill="#00AAFE">Nicaragua</text><text x="1230.3" y="1239.0" fill="#FC61D3">Syrian Arab Republic</text><text x="1269.4" y="1239.5" fill="#FE6E8B">Uzbekistan</text><text x="1300.8" y="1239.8" fill="#E9842A">Azerbaijan</text><text x="1357.5" y="1242.0" fill="#4B9FFF">Oman</text><text x="1399.2" y="1238.8" fill="#E96AF1">Slovakia</text><text x="1438.0" y="1239.2" fill="#00BDD3">Malaysia</text><text x="1488.5" y="1238.5" fill="#FD61D0">Taiwan (Province of China)</text><text x="1044.7" y="1241.5" fill="#00B3F2">Mozambique</text><text x="1079.2" y="1241.8" fill="#00BDD0">Malawi</text><text x="1001.0" y="1244.5" fill="#C79800">Burkina Faso</text><text x="1108.0" y="1248.5" fill="#BF80FF">Rwanda</text><text x="1140.4" y="1249.3" fill="#F97572">Zimbabwe</text><text x="1176.9" y="1250.0" fill="#00B2F4">Myanmar</text><text x="1220.5" y="1249.3" fill="#67B100">Egypt</text><text x="1249.8" y="1249.8" fill="#FC717F">Viet Nam</text><text x="1292.5" y="1248.5" fill="#FF64B0">Turkmenistan</text><text x="1331.5" y="1249.2" fill="#00B931">Georgia</text><text x="1413.5" y="1249.2" fill="#4DB400">Estonia</text><text x="1447.8" y="1249.5" fill="#D277FF">San Marino</text><text x="1477.7" y="1249.2" fill="#DF70F9">Serbia</text><text x="1381.6" y="1254.5" fill="#C99700">Bulgaria</text><text x="1059.0" y="1256.8" fill="#3CB600">Ethiopia</text><text x="1089.0" y="1258.7" fill="#FF699B">United Republic of Tanzania</text><text x="1152.1" y="1260.2" fill="#00C0B5">Lao People's Democratic Republic</text><text x="1202.9" y="1259.8" fill="#00B4F0">Morocco</text><text x="1234.9" y="1259.2" fill="#00C083">Indonesia</text><text x="1276.5" y="1259.8" fill="#94A900">Cuba</text><text x="1307.4" y="1259.5" fill="#AFA200">China</text><text x="1343.8" y="1259.5" fill="#00A4FF">North Macedonia</text><text x="1429.6" y="1259.2" fill="#00C0B8">Latvia</text><text x="1456.6" y="1265.3" fill="#00BFC7">Lithuania</text><text x="1385.5" y="1266.3" fill="#00B5EE">Montenegro</text><text x="1415.5" y="1269.0" fill="#98A800">Croatia</text><text x="1025.1" y="1266.5" fill="#F8766D">Afghanistan</text><text x="1080.5" y="1269.3" fill="#FF61C7">Timor-Leste</text><text x="1115.0" y="1269.2" fill="#FB727A">Yemen</text><text x="1141.0" y="1269.8" fill="#7CAE00">Djibouti</text><text x="1173.0" y="1270.5" fill="#F863DE">Sudan</text><text x="1219.2" y="1269.2" fill="#00C0B2">Kyrgyzstan</text><text x="1257.0" y="1268.8" fill="#9091FF">Philippines</text><text x="1291.7" y="1269.3" fill="#FF61CA">Thailand</text><text x="1321.0" y="1269.8" fill="#00BFC4">Libya</text><text x="1350.4" y="1270.0" fill="#E16EF7">Seychelles</text><text x="1479.2" y="1275.5" fill="#BA82FF">Russian Federation</text><text x="1111.7" y="1279.0" fill="#BF9C00">Cambodia</text><text x="1197.1" y="1279.3" fill="#72B000">Dominican Republic</text><text x="1242.7" y="1279.3" fill="#F67963">Algeria</text><text x="1265.5" y="1279.3" fill="#FF63B7">Tunisia</text><text x="1297.0" y="1279.8" fill="#00C087">Iran (Islamic Republic of)</text><text x="1325.6" y="1279.8" fill="#B186FF">Republic of Moldova</text><text x="1358.2" y="1279.8" fill="#D29300">Bosnia and Herzegovina</text><text x="1402.5" y="1279.8" fill="#FF67A6">Ukraine</text><text x="1434.3" y="1279.0" fill="#E08A00">Belarus</text></g>
<path d="M985.8,1220.2L988.9,1219.8L992.9,1219.3L997.7,1218.6L1003.0,1217.9L1008.7,1217.2L1014.8,1216.4L1021.0,1215.6L1027.3,1214.8L1033.4,1214.0L1039.4,1213.3L1044.9,1212.6L1050.0,1212.0L1054.7,1211.5L1059.1,1211.1L1063.4,1210.7L1067.6,1210.3L1071.7,1210.0L1075.8,1209.7L1079.7,1209.4L1083.7,1209.0L1087.7,1208.7L1091.7,1208.3L1095.8,1207.9L1100.0,1207.4L1104.3,1206.8L1108.6,1206.2L1112.9,1205.6L1117.2,1204.9L1121.6,1204.2L1125.9,1203.5L1130.3,1202.8L1134.7,1202.1L1139.0,1201.4L1143.4,1200.7L1147.8,1200.1L1152.1,1199.5L1156.5,1199.0L1160.9,1198.4L1165.4,1197.9L1169.9,1197.4L1174.5,1196.9L1179.0,1196.5L1183.4,1196.1L1187.8,1195.6L1192.1,1195.3L1196.3,1194.9L1200.3,1194.6L1204.2,1194.3L1207.9,1194.0L1211.5,1193.8L1214.9,1193.6L1218.3,1193.3L1221.5,1193.2L1224.7,1193.0L1227.8,1192.9L1230.9,1192.8L1234.0,1192.8L1237.1,1192.8L1240.2,1192.9L1243.3,1193.0L1246.4,1193.2L1249.5,1193.5L1252.5,1193.9L1255.5,1194.3L1258.4,1194.8L1261.4,1195.3L1264.4,1195.8L1267.4,1196.3L1270.4,1196.8L1273.5,1197.3L1276.7,1197.7L1280.0,1198.0L1283.4,1198.3L1286.9,1198.6L1290.5,1198.9L1294.2,1199.2L1297.9,1199.4L1301.6,1199.7L1305.3,1199.9L1309.0,1200.0L1312.7,1200.2L1316.2,1200.2L1319.7,1200.2L1323.0,1200.2L1326.2,1200.1L1329.3,1199.9L1332.3,1199.6L1335.2,1199.3L1338.0,1199.0L1340.8,1198.6L1343.7,1198.2L1346.5,1197.8L1349.3,1197.4L1352.2,1196.9L1355.2,1196.5L1358.2,1196.1L1361.3,1195.7L1364.5,1195.3L1367.7,1194.9L1370.9,1194.5L1374.2,1194.0L1377.5,1193.6L1380.8,1193.2L1384.1,1192.7L1387.4,1192.2L1390.7,1191.8L1394.0,1191.3L1397.3,1190.8L1400.6,1190.3L1404.0,1189.8L1407.5,1189.2L1411.0,1188.6L1414.5,1188.1L1418.0,1187.5L1421.4,1186.9L1424.8,1186.3L1427.9,1185.8L1431.0,1185.3L1433.8,1184.8L1436.4,1184.3L1438.8,1183.9L1441.1,1183.4L1443.3,1183.0L1445.3,1182.6L1447.3,1182.2L1449.0,1181.8L1450.7,1181.4L1452.2,1181.1L1453.6,1180.8L1454.8,1180.5L1455.9,1180.3L1456.8,1180.1" fill="none" stroke="#52698A" stroke-width="1.35"/>
<path d="M83.0,7.7 V401.0 H584.7" fill="none" stroke="#8f8f8f" stroke-width="1.5"/>
<line x1="223.5" y1="401.0" x2="223.5" y2="403.4" stroke="#444" stroke-width="1"/>
<text x="223.5" y="409.5" class="tk" text-anchor="middle">0.4</text>
<line x1="365.5" y1="401.0" x2="365.5" y2="403.4" stroke="#444" stroke-width="1"/>
<text x="365.5" y="409.5" class="tk" text-anchor="middle">0.6</text>
<line x1="507.6" y1="401.0" x2="507.6" y2="403.4" stroke="#444" stroke-width="1"/>
<text x="507.6" y="409.5" class="tk" text-anchor="middle">0.8</text>
<line x1="80.6" y1="375.6" x2="83.0" y2="375.6" stroke="#444" stroke-width="1"/>
<text x="79.4" y="377.90000000000003" class="tk" text-anchor="end">0</text>
<line x1="80.6" y1="290.5" x2="83.0" y2="290.5" stroke="#444" stroke-width="1"/>
<text x="79.4" y="292.8" class="tk" text-anchor="end">5</text>
<line x1="80.6" y1="205.5" x2="83.0" y2="205.5" stroke="#444" stroke-width="1"/>
<text x="79.4" y="207.8" class="tk" text-anchor="end">10</text>
<line x1="80.6" y1="120.4" x2="83.0" y2="120.4" stroke="#444" stroke-width="1"/>
<text x="79.4" y="122.7" class="tk" text-anchor="end">15</text>
<line x1="80.6" y1="35.4" x2="83.0" y2="35.4" stroke="#444" stroke-width="1"/>
<text x="79.4" y="37.699999999999996" class="tk" text-anchor="end">20</text>
<text x="66.1" y="204.35" class="at" text-anchor="middle" dominant-baseline="central" transform="rotate(-90 66.1 204.35)">Incidence Rate per 100,000 population</text>
<text x="333.85" y="418.5" class="at" text-anchor="middle">SDI</text>
<text x="5.4" y="47.8" class="big">A</text>
<path d="M927.0,8.0 V401.0 H1529.8" fill="none" stroke="#8f8f8f" stroke-width="1.5"/>
<line x1="954.5" y1="401.0" x2="954.5" y2="403.4" stroke="#444" stroke-width="1"/>
<text x="954.5" y="409.5" class="tk" text-anchor="middle">0.2</text>
<line x1="1023.0" y1="401.0" x2="1023.0" y2="403.4" stroke="#444" stroke-width="1"/>
<text x="1023.0" y="409.5" class="tk" text-anchor="middle">0.3</text>
<line x1="1091.5" y1="401.0" x2="1091.5" y2="403.4" stroke="#444" stroke-width="1"/>
<text x="1091.5" y="409.5" class="tk" text-anchor="middle">0.4</text>
<line x1="1160.0" y1="401.0" x2="1160.0" y2="403.4" stroke="#444" stroke-width="1"/>
<text x="1160.0" y="409.5" class="tk" text-anchor="middle">0.5</text>
<line x1="1228.5" y1="401.0" x2="1228.5" y2="403.4" stroke="#444" stroke-width="1"/>
<text x="1228.5" y="409.5" class="tk" text-anchor="middle">0.6</text>
<line x1="1297.0" y1="401.0" x2="1297.0" y2="403.4" stroke="#444" stroke-width="1"/>
<text x="1297.0" y="409.5" class="tk" text-anchor="middle">0.7</text>
<line x1="1365.6" y1="401.0" x2="1365.6" y2="403.4" stroke="#444" stroke-width="1"/>
<text x="1365.6" y="409.5" class="tk" text-anchor="middle">0.8</text>
<line x1="1434.2" y1="401.0" x2="1434.2" y2="403.4" stroke="#444" stroke-width="1"/>
<text x="1434.2" y="409.5" class="tk" text-anchor="middle">0.9</text>
<line x1="1502.8" y1="401.0" x2="1502.8" y2="403.4" stroke="#444" stroke-width="1"/>
<text x="1502.8" y="409.5" class="tk" text-anchor="middle">1.0</text>
<line x1="924.6" y1="355.8" x2="927.0" y2="355.8" stroke="#444" stroke-width="1"/>
<text x="923.4" y="358.1" class="tk" text-anchor="end">0</text>
<line x1="924.6" y1="289.0" x2="927.0" y2="289.0" stroke="#444" stroke-width="1"/>
<text x="923.4" y="291.3" class="tk" text-anchor="end">5</text>
<line x1="924.6" y1="222.2" x2="927.0" y2="222.2" stroke="#444" stroke-width="1"/>
<text x="923.4" y="224.5" class="tk" text-anchor="end">10</text>
<line x1="924.6" y1="155.4" x2="927.0" y2="155.4" stroke="#444" stroke-width="1"/>
<text x="923.4" y="157.70000000000002" class="tk" text-anchor="end">15</text>
<line x1="924.6" y1="88.5" x2="927.0" y2="88.5" stroke="#444" stroke-width="1"/>
<text x="923.4" y="90.8" class="tk" text-anchor="end">20</text>
<line x1="924.6" y1="21.9" x2="927.0" y2="21.9" stroke="#444" stroke-width="1"/>
<text x="923.4" y="24.2" class="tk" text-anchor="end">25</text>
<text x="910.0" y="204.5" class="at" text-anchor="middle" dominant-baseline="central" transform="rotate(-90 910.0 204.5)">Incidence Rate per 100,000 population</text>
<text x="1228.4" y="418.5" class="at" text-anchor="middle">SDI</text>
<text x="849.1" y="48.2" class="big">B</text>
<path d="M83.2,450.3 V843.0 H584.7" fill="none" stroke="#8f8f8f" stroke-width="1.5"/>
<line x1="223.5" y1="843.0" x2="223.5" y2="845.4" stroke="#444" stroke-width="1"/>
<text x="223.5" y="851.5" class="tk" text-anchor="middle">0.4</text>
<line x1="365.5" y1="843.0" x2="365.5" y2="845.4" stroke="#444" stroke-width="1"/>
<text x="365.5" y="851.5" class="tk" text-anchor="middle">0.6</text>
<line x1="507.6" y1="843.0" x2="507.6" y2="845.4" stroke="#444" stroke-width="1"/>
<text x="507.6" y="851.5" class="tk" text-anchor="middle">0.8</text>
<line x1="80.8" y1="831.9" x2="83.2" y2="831.9" stroke="#444" stroke-width="1"/>
<text x="79.60000000000001" y="834.1999999999999" class="tk" text-anchor="end">0</text>
<line x1="80.8" y1="688.0" x2="83.2" y2="688.0" stroke="#444" stroke-width="1"/>
<text x="79.60000000000001" y="690.3" class="tk" text-anchor="end">5</text>
<line x1="80.8" y1="543.7" x2="83.2" y2="543.7" stroke="#444" stroke-width="1"/>
<text x="79.60000000000001" y="546.0" class="tk" text-anchor="end">10</text>
<text x="66.1" y="646.65" class="at" text-anchor="middle" dominant-baseline="central" transform="rotate(-90 66.1 646.65)">Deaths Rate per 100,000 population</text>
<text x="333.95000000000005" y="860.5" class="at" text-anchor="middle">SDI</text>
<text x="3" y="490.8" class="big">C</text>
<path d="M927.3,450.4 V843.5 H1529.8" fill="none" stroke="#8f8f8f" stroke-width="1.5"/>
<line x1="954.3" y1="843.5" x2="954.3" y2="845.9" stroke="#444" stroke-width="1"/>
<text x="954.3" y="852.0" class="tk" text-anchor="middle">0.2</text>
<line x1="1023.5" y1="843.5" x2="1023.5" y2="845.9" stroke="#444" stroke-width="1"/>
<text x="1023.5" y="852.0" class="tk" text-anchor="middle">0.3</text>
<line x1="1092.0" y1="843.5" x2="1092.0" y2="845.9" stroke="#444" stroke-width="1"/>
<text x="1092.0" y="852.0" class="tk" text-anchor="middle">0.4</text>
<line x1="1160.5" y1="843.5" x2="1160.5" y2="845.9" stroke="#444" stroke-width="1"/>
<text x="1160.5" y="852.0" class="tk" text-anchor="middle">0.5</text>
<line x1="1229.0" y1="843.5" x2="1229.0" y2="845.9" stroke="#444" stroke-width="1"/>
<text x="1229.0" y="852.0" class="tk" text-anchor="middle">0.6</text>
<line x1="1297.5" y1="843.5" x2="1297.5" y2="845.9" stroke="#444" stroke-width="1"/>
<text x="1297.5" y="852.0" class="tk" text-anchor="middle">0.7</text>
<line x1="1366.0" y1="843.5" x2="1366.0" y2="845.9" stroke="#444" stroke-width="1"/>
<text x="1366.0" y="852.0" class="tk" text-anchor="middle">0.8</text>
<line x1="1434.5" y1="843.5" x2="1434.5" y2="845.9" stroke="#444" stroke-width="1"/>
<text x="1434.5" y="852.0" class="tk" text-anchor="middle">0.9</text>
<line x1="1503.0" y1="843.5" x2="1503.0" y2="845.9" stroke="#444" stroke-width="1"/>
<text x="1503.0" y="852.0" class="tk" text-anchor="middle">1.0</text>
<line x1="924.9" y1="817.2" x2="927.3" y2="817.2" stroke="#444" stroke-width="1"/>
<text x="923.6999999999999" y="819.5" class="tk" text-anchor="end">0</text>
<line x1="924.9" y1="687.0" x2="927.3" y2="687.0" stroke="#444" stroke-width="1"/>
<text x="923.6999999999999" y="689.3" class="tk" text-anchor="end">5</text>
<line x1="924.9" y1="554.5" x2="927.3" y2="554.5" stroke="#444" stroke-width="1"/>
<text x="923.6999999999999" y="556.8" class="tk" text-anchor="end">10</text>
<text x="910.0" y="646.95" class="at" text-anchor="middle" dominant-baseline="central" transform="rotate(-90 910.0 646.95)">Deaths Rate per 100,000 population</text>
<text x="1228.55" y="861.0" class="at" text-anchor="middle">SDI</text>
<text x="846.5" y="491.0" class="big">D</text>
<path d="M86.8,889.4 V1282.0 H584.7" fill="none" stroke="#8f8f8f" stroke-width="1.5"/>
<line x1="226.2" y1="1282.0" x2="226.2" y2="1284.4" stroke="#444" stroke-width="1"/>
<text x="226.2" y="1290.5" class="tk" text-anchor="middle">0.4</text>
<line x1="367.5" y1="1282.0" x2="367.5" y2="1284.4" stroke="#444" stroke-width="1"/>
<text x="367.5" y="1290.5" class="tk" text-anchor="middle">0.6</text>
<line x1="508.8" y1="1282.0" x2="508.8" y2="1284.4" stroke="#444" stroke-width="1"/>
<text x="508.8" y="1290.5" class="tk" text-anchor="middle">0.8</text>
<line x1="84.39999999999999" y1="1273.0" x2="86.8" y2="1273.0" stroke="#444" stroke-width="1"/>
<text x="83.2" y="1275.3" class="tk" text-anchor="end">0</text>
<line x1="84.39999999999999" y1="1192.7" x2="86.8" y2="1192.7" stroke="#444" stroke-width="1"/>
<text x="83.2" y="1195.0" class="tk" text-anchor="end">50</text>
<line x1="84.39999999999999" y1="1112.6" x2="86.8" y2="1112.6" stroke="#444" stroke-width="1"/>
<text x="83.2" y="1114.8999999999999" class="tk" text-anchor="end">100</text>
<line x1="84.39999999999999" y1="1031.8" x2="86.8" y2="1031.8" stroke="#444" stroke-width="1"/>
<text x="83.2" y="1034.1" class="tk" text-anchor="end">150</text>
<line x1="84.39999999999999" y1="950.7" x2="86.8" y2="950.7" stroke="#444" stroke-width="1"/>
<text x="83.2" y="953.0" class="tk" text-anchor="end">200</text>
<text x="66.1" y="1085.7" class="at" text-anchor="middle" dominant-baseline="central" transform="rotate(-90 66.1 1085.7)">DALYs (Disability–Adjusted Life Years) Rate per 100,000 population</text>
<text x="335.75" y="1299.5" class="at" text-anchor="middle">SDI</text>
<text x="5" y="929.4" class="big">E</text>
<path d="M930.8,889.4 V1282.4 H1529.8" fill="none" stroke="#8f8f8f" stroke-width="1.5"/>
<line x1="957.9" y1="1282.4" x2="957.9" y2="1284.8000000000002" stroke="#444" stroke-width="1"/>
<text x="957.9" y="1290.9" class="tk" text-anchor="middle">0.2</text>
<line x1="1026.3" y1="1282.4" x2="1026.3" y2="1284.8000000000002" stroke="#444" stroke-width="1"/>
<text x="1026.3" y="1290.9" class="tk" text-anchor="middle">0.3</text>
<line x1="1094.3" y1="1282.4" x2="1094.3" y2="1284.8000000000002" stroke="#444" stroke-width="1"/>
<text x="1094.3" y="1290.9" class="tk" text-anchor="middle">0.4</text>
<line x1="1162.5" y1="1282.4" x2="1162.5" y2="1284.8000000000002" stroke="#444" stroke-width="1"/>
<text x="1162.5" y="1290.9" class="tk" text-anchor="middle">0.5</text>
<line x1="1230.7" y1="1282.4" x2="1230.7" y2="1284.8000000000002" stroke="#444" stroke-width="1"/>
<text x="1230.7" y="1290.9" class="tk" text-anchor="middle">0.6</text>
<line x1="1298.9" y1="1282.4" x2="1298.9" y2="1284.8000000000002" stroke="#444" stroke-width="1"/>
<text x="1298.9" y="1290.9" class="tk" text-anchor="middle">0.7</text>
<line x1="1367.1" y1="1282.4" x2="1367.1" y2="1284.8000000000002" stroke="#444" stroke-width="1"/>
<text x="1367.1" y="1290.9" class="tk" text-anchor="middle">0.8</text>
<line x1="1435.3" y1="1282.4" x2="1435.3" y2="1284.8000000000002" stroke="#444" stroke-width="1"/>
<text x="1435.3" y="1290.9" class="tk" text-anchor="middle">0.9</text>
<line x1="1503.5" y1="1282.4" x2="1503.5" y2="1284.8000000000002" stroke="#444" stroke-width="1"/>
<text x="1503.5" y="1290.9" class="tk" text-anchor="middle">1.0</text>
<line x1="928.4" y1="1260.0" x2="930.8" y2="1260.0" stroke="#444" stroke-width="1"/>
<text x="927.1999999999999" y="1262.3" class="tk" text-anchor="end">0</text>
<line x1="928.4" y1="1188.2" x2="930.8" y2="1188.2" stroke="#444" stroke-width="1"/>
<text x="927.1999999999999" y="1190.5" class="tk" text-anchor="end">50</text>
<line x1="928.4" y1="1116.4" x2="930.8" y2="1116.4" stroke="#444" stroke-width="1"/>
<text x="927.1999999999999" y="1118.7" class="tk" text-anchor="end">100</text>
<line x1="928.4" y1="1044.6" x2="930.8" y2="1044.6" stroke="#444" stroke-width="1"/>
<text x="927.1999999999999" y="1046.8999999999999" class="tk" text-anchor="end">150</text>
<line x1="928.4" y1="972.8" x2="930.8" y2="972.8" stroke="#444" stroke-width="1"/>
<text x="927.1999999999999" y="975.0999999999999" class="tk" text-anchor="end">200</text>
<line x1="928.4" y1="901.0" x2="930.8" y2="901.0" stroke="#444" stroke-width="1"/>
<text x="927.1999999999999" y="903.3" class="tk" text-anchor="end">250</text>
<text x="913.0" y="1085.9" class="at" text-anchor="middle" dominant-baseline="central" transform="rotate(-90 913.0 1085.9)">DALYs (Disability–Adjusted Life Years) Rate per 100,000 population</text>
<text x="1230.3" y="1299.9" class="at" text-anchor="middle">SDI</text>
<text x="850" y="929.4" class="big">F</text>
</svg></body></html>
